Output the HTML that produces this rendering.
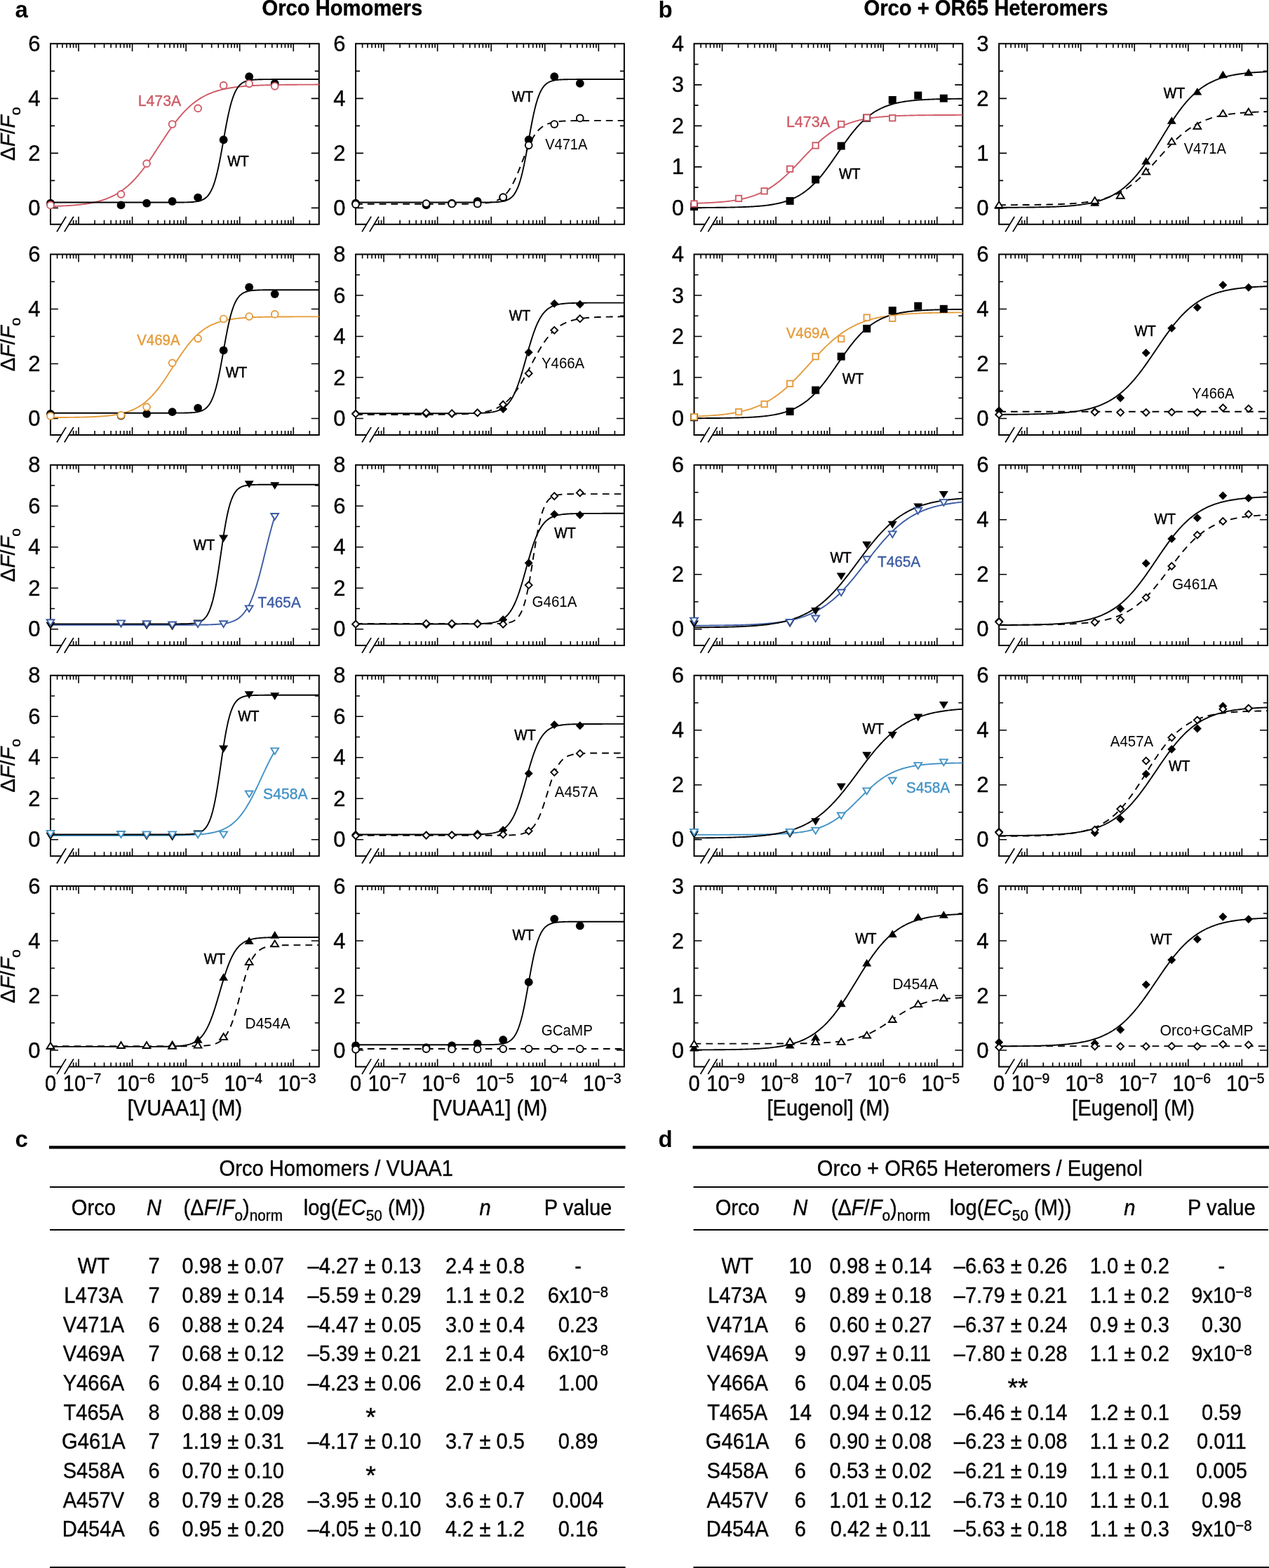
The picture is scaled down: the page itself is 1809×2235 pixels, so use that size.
<!DOCTYPE html>
<html><head><meta charset="utf-8"><title>Orco dose-response figure</title>
<style>html,body{margin:0;padding:0;background:#fff;}svg{display:block;}</style>
</head><body>
<svg width="1809" height="2235" viewBox="0 0 1809 2235" font-family="'Liberation Sans', Arial, Helvetica, sans-serif">
<rect width="1809" height="2235" fill="#fff"/>
<text x="21.5" y="25" font-size="33" font-weight="bold">a</text>
<text x="938.5" y="25" font-size="33" font-weight="bold">b</text>
<text transform="matrix(0.933,0,0,1,25.024,0)" x="373.50" y="21.60" font-size="31.3" font-weight="bold" stroke="#000" stroke-width="0.4">Orco Homomers</text>
<text transform="matrix(0.933,0,0,1,82.510,0)" x="1231.50" y="21.60" font-size="31.3" font-weight="bold" stroke="#000" stroke-width="0.4">Orco + OR65 Heteromers</text>
<text transform="translate(20.7,191.0) rotate(-90)" text-anchor="middle" font-size="30" stroke="#000" stroke-width="0.4">Δ<tspan font-style="italic">F</tspan>/<tspan font-style="italic">F</tspan><tspan dy="8" font-size="21">o</tspan></text>
<text transform="translate(20.7,491.2) rotate(-90)" text-anchor="middle" font-size="30" stroke="#000" stroke-width="0.4">Δ<tspan font-style="italic">F</tspan>/<tspan font-style="italic">F</tspan><tspan dy="8" font-size="21">o</tspan></text>
<text transform="translate(20.7,791.4) rotate(-90)" text-anchor="middle" font-size="30" stroke="#000" stroke-width="0.4">Δ<tspan font-style="italic">F</tspan>/<tspan font-style="italic">F</tspan><tspan dy="8" font-size="21">o</tspan></text>
<text transform="translate(20.7,1091.5) rotate(-90)" text-anchor="middle" font-size="30" stroke="#000" stroke-width="0.4">Δ<tspan font-style="italic">F</tspan>/<tspan font-style="italic">F</tspan><tspan dy="8" font-size="21">o</tspan></text>
<text transform="translate(20.7,1391.7) rotate(-90)" text-anchor="middle" font-size="30" stroke="#000" stroke-width="0.4">Δ<tspan font-style="italic">F</tspan>/<tspan font-style="italic">F</tspan><tspan dy="8" font-size="21">o</tspan></text>
<g>
<path d="M72.00,319.75V62.35H454.80V319.75H98.80M86.90,319.75H72.00" fill="none" stroke="#000" stroke-width="2.0" stroke-linecap="square"/>
<line x1="81.00" y1="330.35" x2="94.10" y2="308.75" stroke="#000" stroke-width="1.7"/>
<line x1="91.80" y1="330.35" x2="104.90" y2="308.75" stroke="#000" stroke-width="1.7"/>
<path d="M81.57,62.35v6.0M88.98,62.35v6.0M95.05,62.35v6.0M100.17,62.35v6.0M104.61,62.35v6.0M104.61,319.75v-6.0M108.53,62.35v6.0M108.53,319.75v-6.0M112.03,62.35v11.0M112.03,319.75v-11.0M135.08,62.35v6.0M135.08,319.75v-6.0M148.56,62.35v6.0M148.56,319.75v-6.0M158.13,62.35v6.0M158.13,319.75v-6.0M165.54,62.35v6.0M165.54,319.75v-6.0M171.61,62.35v6.0M171.61,319.75v-6.0M176.73,62.35v6.0M176.73,319.75v-6.0M181.17,62.35v6.0M181.17,319.75v-6.0M185.09,62.35v6.0M185.09,319.75v-6.0M188.59,62.35v11.0M188.59,319.75v-11.0M211.64,62.35v6.0M211.64,319.75v-6.0M225.12,62.35v6.0M225.12,319.75v-6.0M234.69,62.35v6.0M234.69,319.75v-6.0M242.10,62.35v6.0M242.10,319.75v-6.0M248.17,62.35v6.0M248.17,319.75v-6.0M253.29,62.35v6.0M253.29,319.75v-6.0M257.73,62.35v6.0M257.73,319.75v-6.0M261.65,62.35v6.0M261.65,319.75v-6.0M265.15,62.35v11.0M265.15,319.75v-11.0M288.20,62.35v6.0M288.20,319.75v-6.0M301.68,62.35v6.0M301.68,319.75v-6.0M311.25,62.35v6.0M311.25,319.75v-6.0M318.66,62.35v6.0M318.66,319.75v-6.0M324.73,62.35v6.0M324.73,319.75v-6.0M329.85,62.35v6.0M329.85,319.75v-6.0M334.29,62.35v6.0M334.29,319.75v-6.0M338.21,62.35v6.0M338.21,319.75v-6.0M341.71,62.35v11.0M341.71,319.75v-11.0M364.76,62.35v6.0M364.76,319.75v-6.0M378.24,62.35v6.0M378.24,319.75v-6.0M387.81,62.35v6.0M387.81,319.75v-6.0M395.22,62.35v6.0M395.22,319.75v-6.0M401.29,62.35v6.0M401.29,319.75v-6.0M406.41,62.35v6.0M406.41,319.75v-6.0M410.85,62.35v6.0M410.85,319.75v-6.0M414.77,62.35v6.0M414.77,319.75v-6.0M418.27,62.35v11.0M418.27,319.75v-11.0M441.32,62.35v6.0M441.32,319.75v-6.0M72.00,296.35h11.0M454.80,296.35h-11.0M72.00,257.35h6.0M454.80,257.35h-6.0M72.00,218.35h11.0M454.80,218.35h-11.0M72.00,179.35h6.0M454.80,179.35h-6.0M72.00,140.35h11.0M454.80,140.35h-11.0M72.00,101.35h6.0M454.80,101.35h-6.0" stroke="#000" stroke-width="1.6" fill="none"/>
<text x="57.40" y="306.85" font-size="31.0" text-anchor="end" stroke="#000" stroke-width="0.4">0</text>
<text x="57.40" y="228.85" font-size="31.0" text-anchor="end" stroke="#000" stroke-width="0.4">2</text>
<text x="57.40" y="150.85" font-size="31.0" text-anchor="end" stroke="#000" stroke-width="0.4">4</text>
<text x="57.40" y="72.85" font-size="31.0" text-anchor="end" stroke="#000" stroke-width="0.4">6</text>
<path d="M72.00,294.13L73.59,294.08L75.19,294.04L76.78,293.99L78.38,293.94L79.98,293.89L81.57,293.83L83.16,293.77L84.76,293.71L86.36,293.64L87.95,293.57L89.55,293.50L91.14,293.42L92.73,293.34L94.33,293.25L95.92,293.16L97.52,293.06L99.12,292.95L100.71,292.84L102.30,292.73L103.90,292.61L105.50,292.48L107.09,292.34L108.69,292.20L110.28,292.05L111.87,291.89L113.47,291.72L115.06,291.54L116.66,291.35L118.26,291.15L119.85,290.94L121.44,290.72L123.04,290.49L124.64,290.24L126.23,289.98L127.83,289.71L129.42,289.42L131.01,289.12L132.61,288.80L134.20,288.46L135.80,288.10L137.40,287.73L138.99,287.34L140.58,286.92L142.18,286.48L143.78,286.02L145.37,285.54L146.97,285.03L148.56,284.50L150.15,283.94L151.75,283.35L153.34,282.73L154.94,282.08L156.54,281.40L158.13,280.69L159.72,279.94L161.32,279.15L162.92,278.33L164.51,277.47L166.11,276.57L167.70,275.63L169.29,274.65L170.89,273.63L172.49,272.56L174.08,271.44L175.68,270.28L177.27,269.07L178.86,267.81L180.46,266.50L182.06,265.15L183.65,263.74L185.25,262.28L186.84,260.76L188.43,259.20L190.03,257.58L191.62,255.90L193.22,254.18L194.82,252.40L196.41,250.57L198.00,248.69L199.60,246.76L201.19,244.79L202.79,242.76L204.39,240.68L205.98,238.57L207.57,236.41L209.17,234.20L210.77,231.97L212.36,229.69L213.96,227.39L215.55,225.05L217.14,222.69L218.74,220.30L220.34,217.90L221.93,215.48L223.53,213.05L225.12,210.60L226.72,208.16L228.31,205.71L229.91,203.27L231.50,200.83L233.09,198.41L234.69,196.00L236.29,193.60L237.88,191.23L239.47,188.89L241.07,186.57L242.66,184.28L244.26,182.03L245.86,179.81L247.45,177.63L249.05,175.50L250.64,173.41L252.23,171.36L253.83,169.37L255.43,167.42L257.02,165.52L258.62,163.67L260.21,161.87L261.80,160.13L263.40,158.43L265.00,156.79L266.59,155.21L268.19,153.67L269.78,152.19L271.38,150.76L272.97,149.38L274.57,148.06L276.16,146.78L277.75,145.55L279.35,144.37L280.94,143.24L282.54,142.15L284.14,141.11L285.73,140.11L287.33,139.15L288.92,138.24L290.51,137.37L292.11,136.53L293.71,135.73L295.30,134.97L296.89,134.24L298.49,133.55L300.08,132.89L301.68,132.26L303.28,131.65L304.87,131.08L306.47,130.54L308.06,130.02L309.65,129.53L311.25,129.06L312.85,128.61L314.44,128.19L316.03,127.79L317.63,127.41L319.22,127.04L320.82,126.70L322.42,126.37L324.01,126.06L325.61,125.77L327.20,125.49L328.79,125.22L330.39,124.97L331.99,124.73L333.58,124.51L335.18,124.29L336.77,124.09L338.36,123.90L339.96,123.72L341.56,123.54L343.15,123.38L344.75,123.23L346.34,123.08L347.94,122.94L349.53,122.81L351.12,122.68L352.72,122.57L354.31,122.45L355.91,122.35L357.50,122.25L359.10,122.15L360.69,122.06L362.29,121.98L363.88,121.90L365.48,121.82L367.07,121.75L368.67,121.68L370.27,121.62L371.86,121.56L373.45,121.50L375.05,121.45L376.64,121.40L378.24,121.35L379.83,121.30L381.43,121.26L383.03,121.22L384.62,121.18L386.22,121.14L387.81,121.11L389.40,121.07L391.00,121.04L392.60,121.01L394.19,120.98L395.79,120.96L397.38,120.93L398.97,120.91L400.57,120.89L402.17,120.87L403.76,120.85L405.36,120.83L406.95,120.81L408.54,120.79L410.14,120.78L411.74,120.76L413.33,120.75L414.93,120.73L416.52,120.72L418.12,120.71L419.71,120.70L421.31,120.69L422.90,120.68L424.50,120.67L426.09,120.66L427.69,120.65L429.28,120.64L430.88,120.63L432.47,120.63L434.07,120.62L435.66,120.61L437.25,120.61L438.85,120.60L440.44,120.59L442.04,120.59L443.64,120.58L445.23,120.58L446.82,120.58L448.42,120.57L450.01,120.57L451.61,120.56L453.21,120.56L454.80,120.56" fill="none" stroke="#cf5a66" stroke-width="1.9"/>
<path d="M72.00,288.55L73.59,288.55L75.19,288.55L76.78,288.55L78.38,288.55L79.98,288.55L81.57,288.55L83.16,288.55L84.76,288.55L86.36,288.55L87.95,288.55L89.55,288.55L91.14,288.55L92.73,288.55L94.33,288.55L95.92,288.55L97.52,288.55L99.12,288.55L100.71,288.55L102.30,288.55L103.90,288.55L105.50,288.55L107.09,288.55L108.69,288.55L110.28,288.55L111.87,288.55L113.47,288.55L115.06,288.55L116.66,288.55L118.26,288.55L119.85,288.55L121.44,288.55L123.04,288.55L124.64,288.55L126.23,288.55L127.83,288.55L129.42,288.55L131.01,288.55L132.61,288.55L134.20,288.55L135.80,288.55L137.40,288.55L138.99,288.55L140.58,288.55L142.18,288.55L143.78,288.55L145.37,288.55L146.97,288.55L148.56,288.55L150.15,288.55L151.75,288.55L153.34,288.55L154.94,288.55L156.54,288.55L158.13,288.55L159.72,288.55L161.32,288.55L162.92,288.55L164.51,288.55L166.11,288.55L167.70,288.55L169.29,288.55L170.89,288.55L172.49,288.55L174.08,288.55L175.68,288.55L177.27,288.55L178.86,288.55L180.46,288.55L182.06,288.55L183.65,288.55L185.25,288.55L186.84,288.55L188.43,288.55L190.03,288.55L191.62,288.55L193.22,288.55L194.82,288.55L196.41,288.55L198.00,288.55L199.60,288.55L201.19,288.55L202.79,288.55L204.39,288.55L205.98,288.55L207.57,288.55L209.17,288.55L210.77,288.55L212.36,288.55L213.96,288.55L215.55,288.55L217.14,288.55L218.74,288.55L220.34,288.55L221.93,288.55L223.53,288.55L225.12,288.55L226.72,288.55L228.31,288.55L229.91,288.55L231.50,288.55L233.09,288.55L234.69,288.55L236.29,288.55L237.88,288.54L239.47,288.54L241.07,288.54L242.66,288.54L244.26,288.54L245.86,288.53L247.45,288.53L249.05,288.53L250.64,288.52L252.23,288.52L253.83,288.51L255.43,288.50L257.02,288.49L258.62,288.47L260.21,288.45L261.80,288.43L263.40,288.41L265.00,288.37L266.59,288.33L268.19,288.28L269.78,288.22L271.38,288.15L272.97,288.05L274.57,287.94L276.16,287.80L277.75,287.63L279.35,287.42L280.94,287.17L282.54,286.86L284.14,286.48L285.73,286.01L287.33,285.44L288.92,284.74L290.51,283.89L292.11,282.86L293.71,281.62L295.30,280.11L296.89,278.29L298.49,276.12L300.08,273.52L301.68,270.44L303.28,266.81L304.87,262.58L306.47,257.69L308.06,252.10L309.65,245.80L311.25,238.80L312.85,231.15L314.44,222.94L316.03,214.29L317.63,205.37L319.22,196.35L320.82,187.42L322.42,178.76L324.01,170.55L325.61,162.89L327.20,155.88L328.79,149.57L330.39,143.98L331.99,139.08L333.58,134.84L335.18,131.20L336.77,128.12L338.36,125.51L339.96,123.33L341.56,121.51L343.15,120.00L344.75,118.75L346.34,117.72L347.94,116.87L349.53,116.17L351.12,115.60L352.72,115.13L354.31,114.75L355.91,114.43L357.50,114.18L359.10,113.97L360.69,113.80L362.29,113.66L363.88,113.55L365.48,113.45L367.07,113.38L368.67,113.32L370.27,113.27L371.86,113.23L373.45,113.19L375.05,113.17L376.64,113.15L378.24,113.13L379.83,113.11L381.43,113.10L383.03,113.09L384.62,113.08L386.22,113.08L387.81,113.07L389.40,113.07L391.00,113.07L392.60,113.06L394.19,113.06L395.79,113.06L397.38,113.06L398.97,113.06L400.57,113.05L402.17,113.05L403.76,113.05L405.36,113.05L406.95,113.05L408.54,113.05L410.14,113.05L411.74,113.05L413.33,113.05L414.93,113.05L416.52,113.05L418.12,113.05L419.71,113.05L421.31,113.05L422.90,113.05L424.50,113.05L426.09,113.05L427.69,113.05L429.28,113.05L430.88,113.05L432.47,113.05L434.07,113.05L435.66,113.05L437.25,113.05L438.85,113.05L440.44,113.05L442.04,113.05L443.64,113.05L445.23,113.05L446.82,113.05L448.42,113.05L450.01,113.05L451.61,113.05L453.21,113.05L454.80,113.05" fill="none" stroke="#000" stroke-width="1.9"/>
<circle cx="72.00" cy="289.72" r="5.9" fill="#000"/>
<circle cx="172.55" cy="292.45" r="5.9" fill="#000"/>
<circle cx="209.08" cy="289.72" r="5.9" fill="#000"/>
<circle cx="245.61" cy="286.99" r="5.9" fill="#000"/>
<circle cx="282.14" cy="281.53" r="5.9" fill="#000"/>
<circle cx="318.66" cy="199.24" r="5.9" fill="#000"/>
<circle cx="355.19" cy="109.15" r="5.9" fill="#000"/>
<circle cx="391.72" cy="118.90" r="5.9" fill="#000"/>
<circle cx="72.00" cy="292.45" r="4.9" fill="#fff" stroke="#cf5a66" stroke-width="1.9"/>
<circle cx="172.55" cy="276.85" r="4.9" fill="#fff" stroke="#cf5a66" stroke-width="1.9"/>
<circle cx="209.08" cy="233.17" r="4.9" fill="#fff" stroke="#cf5a66" stroke-width="1.9"/>
<circle cx="245.61" cy="177.01" r="4.9" fill="#fff" stroke="#cf5a66" stroke-width="1.9"/>
<circle cx="282.14" cy="154.39" r="4.9" fill="#fff" stroke="#cf5a66" stroke-width="1.9"/>
<circle cx="318.66" cy="121.63" r="4.9" fill="#fff" stroke="#cf5a66" stroke-width="1.9"/>
<circle cx="355.19" cy="119.29" r="4.9" fill="#fff" stroke="#cf5a66" stroke-width="1.9"/>
<circle cx="391.72" cy="122.80" r="4.9" fill="#fff" stroke="#cf5a66" stroke-width="1.9"/>
<text transform="matrix(0.99,0,0,1,2.274,0)" x="227.40" y="150.70" font-size="21.5" text-anchor="middle" fill="#cf5a66" stroke="#cf5a66" stroke-width="0.4">L473A</text>
<text transform="matrix(0.91,0,0,1,30.546,0)" x="339.40" y="237.00" font-size="21.5" text-anchor="middle" fill="#000" stroke="#000" stroke-width="0.55">WT</text>
</g>
<g>
<path d="M507.05,319.75V62.35H889.85V319.75H533.85M521.95,319.75H507.05" fill="none" stroke="#000" stroke-width="2.0" stroke-linecap="square"/>
<line x1="516.05" y1="330.35" x2="529.15" y2="308.75" stroke="#000" stroke-width="1.7"/>
<line x1="526.85" y1="330.35" x2="539.95" y2="308.75" stroke="#000" stroke-width="1.7"/>
<path d="M516.62,62.35v6.0M524.03,62.35v6.0M530.10,62.35v6.0M535.22,62.35v6.0M539.66,62.35v6.0M539.66,319.75v-6.0M543.58,62.35v6.0M543.58,319.75v-6.0M547.08,62.35v11.0M547.08,319.75v-11.0M570.13,62.35v6.0M570.13,319.75v-6.0M583.61,62.35v6.0M583.61,319.75v-6.0M593.18,62.35v6.0M593.18,319.75v-6.0M600.59,62.35v6.0M600.59,319.75v-6.0M606.66,62.35v6.0M606.66,319.75v-6.0M611.78,62.35v6.0M611.78,319.75v-6.0M616.22,62.35v6.0M616.22,319.75v-6.0M620.14,62.35v6.0M620.14,319.75v-6.0M623.64,62.35v11.0M623.64,319.75v-11.0M646.69,62.35v6.0M646.69,319.75v-6.0M660.17,62.35v6.0M660.17,319.75v-6.0M669.74,62.35v6.0M669.74,319.75v-6.0M677.15,62.35v6.0M677.15,319.75v-6.0M683.22,62.35v6.0M683.22,319.75v-6.0M688.34,62.35v6.0M688.34,319.75v-6.0M692.78,62.35v6.0M692.78,319.75v-6.0M696.70,62.35v6.0M696.70,319.75v-6.0M700.20,62.35v11.0M700.20,319.75v-11.0M723.25,62.35v6.0M723.25,319.75v-6.0M736.73,62.35v6.0M736.73,319.75v-6.0M746.30,62.35v6.0M746.30,319.75v-6.0M753.71,62.35v6.0M753.71,319.75v-6.0M759.78,62.35v6.0M759.78,319.75v-6.0M764.90,62.35v6.0M764.90,319.75v-6.0M769.34,62.35v6.0M769.34,319.75v-6.0M773.26,62.35v6.0M773.26,319.75v-6.0M776.76,62.35v11.0M776.76,319.75v-11.0M799.81,62.35v6.0M799.81,319.75v-6.0M813.29,62.35v6.0M813.29,319.75v-6.0M822.86,62.35v6.0M822.86,319.75v-6.0M830.27,62.35v6.0M830.27,319.75v-6.0M836.34,62.35v6.0M836.34,319.75v-6.0M841.46,62.35v6.0M841.46,319.75v-6.0M845.90,62.35v6.0M845.90,319.75v-6.0M849.82,62.35v6.0M849.82,319.75v-6.0M853.32,62.35v11.0M853.32,319.75v-11.0M876.37,62.35v6.0M876.37,319.75v-6.0M507.05,296.35h11.0M889.85,296.35h-11.0M507.05,257.35h6.0M889.85,257.35h-6.0M507.05,218.35h11.0M889.85,218.35h-11.0M507.05,179.35h6.0M889.85,179.35h-6.0M507.05,140.35h11.0M889.85,140.35h-11.0M507.05,101.35h6.0M889.85,101.35h-6.0" stroke="#000" stroke-width="1.6" fill="none"/>
<text x="492.45" y="306.85" font-size="31.0" text-anchor="end" stroke="#000" stroke-width="0.4">0</text>
<text x="492.45" y="228.85" font-size="31.0" text-anchor="end" stroke="#000" stroke-width="0.4">2</text>
<text x="492.45" y="150.85" font-size="31.0" text-anchor="end" stroke="#000" stroke-width="0.4">4</text>
<text x="492.45" y="72.85" font-size="31.0" text-anchor="end" stroke="#000" stroke-width="0.4">6</text>
<path d="M507.05,290.81L508.64,290.81L510.24,290.81L511.84,290.81L513.43,290.81L515.03,290.81L516.62,290.81L518.22,290.81L519.81,290.81L521.40,290.81L523.00,290.81L524.60,290.81L526.19,290.81L527.78,290.81L529.38,290.81L530.98,290.81L532.57,290.81L534.17,290.81L535.76,290.81L537.36,290.81L538.95,290.81L540.55,290.81L542.14,290.81L543.74,290.81L545.33,290.81L546.92,290.81L548.52,290.81L550.12,290.81L551.71,290.81L553.31,290.81L554.90,290.81L556.50,290.81L558.09,290.81L559.69,290.81L561.28,290.81L562.88,290.81L564.47,290.81L566.06,290.81L567.66,290.81L569.25,290.81L570.85,290.81L572.45,290.81L574.04,290.81L575.63,290.81L577.23,290.81L578.83,290.81L580.42,290.81L582.02,290.81L583.61,290.81L585.20,290.81L586.80,290.81L588.39,290.81L589.99,290.81L591.59,290.81L593.18,290.81L594.77,290.81L596.37,290.81L597.97,290.81L599.56,290.81L601.16,290.81L602.75,290.81L604.35,290.81L605.94,290.81L607.53,290.81L609.13,290.81L610.73,290.81L612.32,290.81L613.91,290.81L615.51,290.81L617.11,290.81L618.70,290.81L620.30,290.81L621.89,290.81L623.49,290.81L625.08,290.81L626.67,290.81L628.27,290.81L629.87,290.81L631.46,290.81L633.05,290.80L634.65,290.80L636.25,290.80L637.84,290.80L639.44,290.80L641.03,290.80L642.62,290.79L644.22,290.79L645.82,290.79L647.41,290.79L649.01,290.78L650.60,290.78L652.19,290.77L653.79,290.77L655.38,290.76L656.98,290.75L658.58,290.74L660.17,290.73L661.77,290.72L663.36,290.71L664.96,290.69L666.55,290.67L668.14,290.65L669.74,290.63L671.34,290.60L672.93,290.57L674.52,290.53L676.12,290.49L677.71,290.44L679.31,290.39L680.91,290.33L682.50,290.25L684.10,290.17L685.69,290.08L687.28,289.97L688.88,289.84L690.48,289.70L692.07,289.54L693.66,289.35L695.26,289.14L696.86,288.89L698.45,288.61L700.05,288.29L701.64,287.93L703.24,287.51L704.83,287.04L706.42,286.49L708.02,285.88L709.62,285.18L711.21,284.39L712.81,283.49L714.40,282.48L716.00,281.34L717.59,280.06L719.19,278.62L720.78,277.02L722.38,275.24L723.97,273.26L725.56,271.09L727.16,268.70L728.76,266.09L730.35,263.27L731.95,260.23L733.54,256.97L735.13,253.52L736.73,249.88L738.33,246.09L739.92,242.16L741.51,238.13L743.11,234.03L744.70,229.92L746.30,225.81L747.90,221.76L749.49,217.79L751.09,213.95L752.68,210.27L754.27,206.76L755.87,203.44L757.47,200.33L759.06,197.44L760.65,194.77L762.25,192.32L763.85,190.08L765.44,188.05L767.04,186.21L768.63,184.55L770.23,183.07L771.82,181.74L773.41,180.56L775.01,179.51L776.61,178.58L778.20,177.76L779.80,177.03L781.39,176.40L782.99,175.83L784.58,175.34L786.17,174.90L787.77,174.52L789.37,174.19L790.96,173.90L792.56,173.64L794.15,173.42L795.75,173.23L797.34,173.06L798.93,172.91L800.53,172.78L802.12,172.67L803.72,172.57L805.32,172.48L806.91,172.41L808.50,172.34L810.10,172.28L811.69,172.24L813.29,172.19L814.88,172.15L816.48,172.12L818.08,172.09L819.67,172.07L821.27,172.05L822.86,172.03L824.45,172.01L826.05,172.00L827.64,171.98L829.24,171.97L830.84,171.96L832.43,171.96L834.02,171.95L835.62,171.94L837.22,171.94L838.81,171.93L840.40,171.93L842.00,171.93L843.60,171.92L845.19,171.92L846.79,171.92L848.38,171.91L849.98,171.91L851.57,171.91L853.16,171.91L854.76,171.91L856.36,171.91L857.95,171.91L859.55,171.91L861.14,171.91L862.74,171.90L864.33,171.90L865.92,171.90L867.52,171.90L869.12,171.90L870.71,171.90L872.31,171.90L873.90,171.90L875.50,171.90L877.09,171.90L878.69,171.90L880.28,171.90L881.88,171.90L883.47,171.90L885.07,171.90L886.66,171.90L888.26,171.90L889.85,171.90" fill="none" stroke="#000" stroke-width="1.9" stroke-dasharray="9.8 7"/>
<path d="M507.05,288.55L508.64,288.55L510.24,288.55L511.84,288.55L513.43,288.55L515.03,288.55L516.62,288.55L518.22,288.55L519.81,288.55L521.40,288.55L523.00,288.55L524.60,288.55L526.19,288.55L527.78,288.55L529.38,288.55L530.98,288.55L532.57,288.55L534.17,288.55L535.76,288.55L537.36,288.55L538.95,288.55L540.55,288.55L542.14,288.55L543.74,288.55L545.33,288.55L546.92,288.55L548.52,288.55L550.12,288.55L551.71,288.55L553.31,288.55L554.90,288.55L556.50,288.55L558.09,288.55L559.69,288.55L561.28,288.55L562.88,288.55L564.47,288.55L566.06,288.55L567.66,288.55L569.25,288.55L570.85,288.55L572.45,288.55L574.04,288.55L575.63,288.55L577.23,288.55L578.83,288.55L580.42,288.55L582.02,288.55L583.61,288.55L585.20,288.55L586.80,288.55L588.39,288.55L589.99,288.55L591.59,288.55L593.18,288.55L594.77,288.55L596.37,288.55L597.97,288.55L599.56,288.55L601.16,288.55L602.75,288.55L604.35,288.55L605.94,288.55L607.53,288.55L609.13,288.55L610.73,288.55L612.32,288.55L613.91,288.55L615.51,288.55L617.11,288.55L618.70,288.55L620.30,288.55L621.89,288.55L623.49,288.55L625.08,288.55L626.67,288.55L628.27,288.55L629.87,288.55L631.46,288.55L633.05,288.55L634.65,288.55L636.25,288.55L637.84,288.55L639.44,288.55L641.03,288.55L642.62,288.55L644.22,288.55L645.82,288.55L647.41,288.55L649.01,288.55L650.60,288.55L652.19,288.55L653.79,288.55L655.38,288.55L656.98,288.55L658.58,288.55L660.17,288.55L661.77,288.55L663.36,288.55L664.96,288.55L666.55,288.55L668.14,288.55L669.74,288.55L671.34,288.55L672.93,288.54L674.52,288.54L676.12,288.54L677.71,288.54L679.31,288.54L680.91,288.53L682.50,288.53L684.10,288.53L685.69,288.52L687.28,288.52L688.88,288.51L690.48,288.50L692.07,288.49L693.66,288.47L695.26,288.45L696.86,288.43L698.45,288.41L700.05,288.37L701.64,288.33L703.24,288.28L704.83,288.22L706.42,288.15L708.02,288.05L709.62,287.94L711.21,287.80L712.81,287.63L714.40,287.42L716.00,287.17L717.59,286.86L719.19,286.48L720.78,286.01L722.38,285.44L723.97,284.74L725.56,283.89L727.16,282.86L728.76,281.62L730.35,280.11L731.95,278.29L733.54,276.12L735.13,273.52L736.73,270.44L738.33,266.81L739.92,262.58L741.51,257.69L743.11,252.10L744.70,245.80L746.30,238.80L747.90,231.15L749.49,222.94L751.09,214.29L752.68,205.37L754.27,196.35L755.87,187.42L757.47,178.76L759.06,170.55L760.65,162.89L762.25,155.88L763.85,149.57L765.44,143.98L767.04,139.08L768.63,134.84L770.23,131.20L771.82,128.12L773.41,125.51L775.01,123.33L776.61,121.51L778.20,120.00L779.80,118.75L781.39,117.72L782.99,116.87L784.58,116.17L786.17,115.60L787.77,115.13L789.37,114.75L790.96,114.43L792.56,114.18L794.15,113.97L795.75,113.80L797.34,113.66L798.93,113.55L800.53,113.45L802.12,113.38L803.72,113.32L805.32,113.27L806.91,113.23L808.50,113.19L810.10,113.17L811.69,113.15L813.29,113.13L814.88,113.11L816.48,113.10L818.08,113.09L819.67,113.08L821.27,113.08L822.86,113.07L824.45,113.07L826.05,113.07L827.64,113.06L829.24,113.06L830.84,113.06L832.43,113.06L834.02,113.06L835.62,113.05L837.22,113.05L838.81,113.05L840.40,113.05L842.00,113.05L843.60,113.05L845.19,113.05L846.79,113.05L848.38,113.05L849.98,113.05L851.57,113.05L853.16,113.05L854.76,113.05L856.36,113.05L857.95,113.05L859.55,113.05L861.14,113.05L862.74,113.05L864.33,113.05L865.92,113.05L867.52,113.05L869.12,113.05L870.71,113.05L872.31,113.05L873.90,113.05L875.50,113.05L877.09,113.05L878.69,113.05L880.28,113.05L881.88,113.05L883.47,113.05L885.07,113.05L886.66,113.05L888.26,113.05L889.85,113.05" fill="none" stroke="#000" stroke-width="1.9"/>
<circle cx="507.05" cy="289.72" r="5.9" fill="#000"/>
<circle cx="607.60" cy="292.45" r="5.9" fill="#000"/>
<circle cx="644.13" cy="289.72" r="5.9" fill="#000"/>
<circle cx="680.66" cy="286.99" r="5.9" fill="#000"/>
<circle cx="717.19" cy="281.53" r="5.9" fill="#000"/>
<circle cx="753.71" cy="199.24" r="5.9" fill="#000"/>
<circle cx="790.24" cy="109.15" r="5.9" fill="#000"/>
<circle cx="826.77" cy="118.90" r="5.9" fill="#000"/>
<circle cx="507.05" cy="291.28" r="4.9" fill="#fff" stroke="#000" stroke-width="1.9"/>
<circle cx="607.60" cy="290.11" r="4.9" fill="#fff" stroke="#000" stroke-width="1.9"/>
<circle cx="644.13" cy="290.50" r="4.9" fill="#fff" stroke="#000" stroke-width="1.9"/>
<circle cx="680.66" cy="290.50" r="4.9" fill="#fff" stroke="#000" stroke-width="1.9"/>
<circle cx="717.19" cy="281.14" r="4.9" fill="#fff" stroke="#000" stroke-width="1.9"/>
<circle cx="753.71" cy="207.04" r="4.9" fill="#fff" stroke="#000" stroke-width="1.9"/>
<circle cx="790.24" cy="177.01" r="4.9" fill="#fff" stroke="#000" stroke-width="1.9"/>
<circle cx="826.77" cy="168.43" r="4.9" fill="#fff" stroke="#000" stroke-width="1.9"/>
<text transform="matrix(0.91,0,0,1,67.050,0)" x="745.00" y="144.90" font-size="21.5" text-anchor="middle" fill="#000" stroke="#000" stroke-width="0.55">WT</text>
<text transform="matrix(0.933,0,0,1,54.086,0)" x="807.25" y="212.80" font-size="21.5" text-anchor="middle" fill="#000" stroke="none">V471A</text>
</g>
<g>
<path d="M989.50,319.75V62.35H1372.30V319.75H1016.30M1004.40,319.75H989.50" fill="none" stroke="#000" stroke-width="2.0" stroke-linecap="square"/>
<line x1="998.50" y1="330.35" x2="1011.60" y2="308.75" stroke="#000" stroke-width="1.7"/>
<line x1="1009.30" y1="330.35" x2="1022.40" y2="308.75" stroke="#000" stroke-width="1.7"/>
<path d="M999.07,62.35v6.0M1006.48,62.35v6.0M1012.55,62.35v6.0M1017.67,62.35v6.0M1022.11,62.35v6.0M1022.11,319.75v-6.0M1026.03,62.35v6.0M1026.03,319.75v-6.0M1029.53,62.35v11.0M1029.53,319.75v-11.0M1052.58,62.35v6.0M1052.58,319.75v-6.0M1066.06,62.35v6.0M1066.06,319.75v-6.0M1075.63,62.35v6.0M1075.63,319.75v-6.0M1083.04,62.35v6.0M1083.04,319.75v-6.0M1089.11,62.35v6.0M1089.11,319.75v-6.0M1094.23,62.35v6.0M1094.23,319.75v-6.0M1098.67,62.35v6.0M1098.67,319.75v-6.0M1102.59,62.35v6.0M1102.59,319.75v-6.0M1106.09,62.35v11.0M1106.09,319.75v-11.0M1129.14,62.35v6.0M1129.14,319.75v-6.0M1142.62,62.35v6.0M1142.62,319.75v-6.0M1152.19,62.35v6.0M1152.19,319.75v-6.0M1159.60,62.35v6.0M1159.60,319.75v-6.0M1165.67,62.35v6.0M1165.67,319.75v-6.0M1170.79,62.35v6.0M1170.79,319.75v-6.0M1175.23,62.35v6.0M1175.23,319.75v-6.0M1179.15,62.35v6.0M1179.15,319.75v-6.0M1182.65,62.35v11.0M1182.65,319.75v-11.0M1205.70,62.35v6.0M1205.70,319.75v-6.0M1219.18,62.35v6.0M1219.18,319.75v-6.0M1228.75,62.35v6.0M1228.75,319.75v-6.0M1236.16,62.35v6.0M1236.16,319.75v-6.0M1242.23,62.35v6.0M1242.23,319.75v-6.0M1247.35,62.35v6.0M1247.35,319.75v-6.0M1251.79,62.35v6.0M1251.79,319.75v-6.0M1255.71,62.35v6.0M1255.71,319.75v-6.0M1259.21,62.35v11.0M1259.21,319.75v-11.0M1282.26,62.35v6.0M1282.26,319.75v-6.0M1295.74,62.35v6.0M1295.74,319.75v-6.0M1305.31,62.35v6.0M1305.31,319.75v-6.0M1312.72,62.35v6.0M1312.72,319.75v-6.0M1318.79,62.35v6.0M1318.79,319.75v-6.0M1323.91,62.35v6.0M1323.91,319.75v-6.0M1328.35,62.35v6.0M1328.35,319.75v-6.0M1332.27,62.35v6.0M1332.27,319.75v-6.0M1335.77,62.35v11.0M1335.77,319.75v-11.0M1358.82,62.35v6.0M1358.82,319.75v-6.0M989.50,296.35h11.0M1372.30,296.35h-11.0M989.50,267.10h6.0M1372.30,267.10h-6.0M989.50,237.85h11.0M1372.30,237.85h-11.0M989.50,208.60h6.0M1372.30,208.60h-6.0M989.50,179.35h11.0M1372.30,179.35h-11.0M989.50,150.10h6.0M1372.30,150.10h-6.0M989.50,120.85h11.0M1372.30,120.85h-11.0M989.50,91.60h6.0M1372.30,91.60h-6.0" stroke="#000" stroke-width="1.6" fill="none"/>
<text x="974.90" y="306.85" font-size="31.0" text-anchor="end" stroke="#000" stroke-width="0.4">0</text>
<text x="974.90" y="248.35" font-size="31.0" text-anchor="end" stroke="#000" stroke-width="0.4">1</text>
<text x="974.90" y="189.85" font-size="31.0" text-anchor="end" stroke="#000" stroke-width="0.4">2</text>
<text x="974.90" y="131.35" font-size="31.0" text-anchor="end" stroke="#000" stroke-width="0.4">3</text>
<text x="974.90" y="72.85" font-size="31.0" text-anchor="end" stroke="#000" stroke-width="0.4">4</text>
<path d="M989.50,289.78L991.10,289.74L992.69,289.70L994.28,289.66L995.88,289.61L997.47,289.56L999.07,289.51L1000.67,289.45L1002.26,289.40L1003.86,289.34L1005.45,289.27L1007.04,289.21L1008.64,289.14L1010.24,289.06L1011.83,288.98L1013.42,288.90L1015.02,288.81L1016.62,288.72L1018.21,288.63L1019.81,288.52L1021.40,288.42L1023.00,288.30L1024.59,288.18L1026.18,288.06L1027.78,287.93L1029.38,287.79L1030.97,287.64L1032.57,287.49L1034.16,287.33L1035.75,287.15L1037.35,286.98L1038.95,286.79L1040.54,286.59L1042.13,286.38L1043.73,286.16L1045.33,285.93L1046.92,285.69L1048.52,285.43L1050.11,285.16L1051.70,284.88L1053.30,284.59L1054.89,284.27L1056.49,283.95L1058.09,283.61L1059.68,283.25L1061.28,282.87L1062.87,282.48L1064.46,282.06L1066.06,281.63L1067.65,281.18L1069.25,280.70L1070.85,280.21L1072.44,279.69L1074.03,279.14L1075.63,278.58L1077.23,277.98L1078.82,277.36L1080.41,276.72L1082.01,276.04L1083.61,275.34L1085.20,274.61L1086.80,273.85L1088.39,273.05L1089.98,272.23L1091.58,271.37L1093.17,270.49L1094.77,269.56L1096.37,268.61L1097.96,267.62L1099.56,266.59L1101.15,265.53L1102.74,264.44L1104.34,263.31L1105.93,262.14L1107.53,260.94L1109.12,259.71L1110.72,258.44L1112.32,257.14L1113.91,255.80L1115.50,254.43L1117.10,253.03L1118.69,251.59L1120.29,250.13L1121.88,248.64L1123.48,247.12L1125.08,245.58L1126.67,244.01L1128.27,242.41L1129.86,240.80L1131.45,239.17L1133.05,237.52L1134.64,235.86L1136.24,234.18L1137.84,232.50L1139.43,230.81L1141.03,229.11L1142.62,227.41L1144.22,225.71L1145.81,224.01L1147.40,222.31L1149.00,220.63L1150.60,218.95L1152.19,217.28L1153.79,215.63L1155.38,213.99L1156.97,212.38L1158.57,210.78L1160.16,209.20L1161.76,207.65L1163.36,206.12L1164.95,204.63L1166.55,203.15L1168.14,201.71L1169.73,200.30L1171.33,198.92L1172.92,197.58L1174.52,196.26L1176.12,194.99L1177.71,193.74L1179.30,192.53L1180.90,191.36L1182.50,190.22L1184.09,189.11L1185.68,188.04L1187.28,187.01L1188.88,186.01L1190.47,185.05L1192.07,184.11L1193.66,183.22L1195.26,182.35L1196.85,181.52L1198.44,180.72L1200.04,179.95L1201.63,179.21L1203.23,178.50L1204.83,177.81L1206.42,177.16L1208.01,176.53L1209.61,175.93L1211.20,175.36L1212.80,174.81L1214.39,174.28L1215.99,173.78L1217.59,173.30L1219.18,172.84L1220.78,172.40L1222.37,171.98L1223.96,171.58L1225.56,171.20L1227.15,170.84L1228.75,170.49L1230.35,170.16L1231.94,169.85L1233.54,169.55L1235.13,169.26L1236.72,168.99L1238.32,168.73L1239.91,168.49L1241.51,168.25L1243.11,168.03L1244.70,167.82L1246.30,167.62L1247.89,167.42L1249.49,167.24L1251.08,167.07L1252.67,166.90L1254.27,166.75L1255.87,166.60L1257.46,166.46L1259.06,166.32L1260.65,166.20L1262.24,166.08L1263.84,165.96L1265.43,165.85L1267.03,165.75L1268.62,165.65L1270.22,165.56L1271.82,165.47L1273.41,165.39L1275.00,165.31L1276.60,165.23L1278.20,165.16L1279.79,165.09L1281.38,165.03L1282.98,164.97L1284.58,164.91L1286.17,164.85L1287.77,164.80L1289.36,164.75L1290.95,164.70L1292.55,164.66L1294.14,164.62L1295.74,164.58L1297.34,164.54L1298.93,164.50L1300.53,164.47L1302.12,164.44L1303.72,164.41L1305.31,164.38L1306.90,164.35L1308.50,164.32L1310.10,164.30L1311.69,164.28L1313.29,164.25L1314.88,164.23L1316.47,164.21L1318.07,164.19L1319.66,164.17L1321.26,164.16L1322.86,164.14L1324.45,164.13L1326.05,164.11L1327.64,164.10L1329.24,164.08L1330.83,164.07L1332.42,164.06L1334.02,164.05L1335.62,164.04L1337.21,164.03L1338.81,164.02L1340.40,164.01L1342.00,164.00L1343.59,163.99L1345.18,163.99L1346.78,163.98L1348.38,163.97L1349.97,163.97L1351.57,163.96L1353.16,163.95L1354.76,163.95L1356.35,163.94L1357.94,163.94L1359.54,163.93L1361.13,163.93L1362.73,163.92L1364.33,163.92L1365.92,163.92L1367.51,163.91L1369.11,163.91L1370.70,163.91L1372.30,163.90" fill="none" stroke="#cf5a66" stroke-width="1.9"/>
<path d="M989.50,295.99L991.10,295.98L992.69,295.98L994.28,295.97L995.88,295.97L997.47,295.96L999.07,295.96L1000.67,295.95L1002.26,295.94L1003.86,295.94L1005.45,295.93L1007.04,295.92L1008.64,295.91L1010.24,295.90L1011.83,295.89L1013.42,295.88L1015.02,295.87L1016.62,295.86L1018.21,295.85L1019.81,295.84L1021.40,295.82L1023.00,295.81L1024.59,295.79L1026.18,295.78L1027.78,295.76L1029.38,295.74L1030.97,295.72L1032.57,295.70L1034.16,295.68L1035.75,295.66L1037.35,295.63L1038.95,295.61L1040.54,295.58L1042.13,295.55L1043.73,295.52L1045.33,295.48L1046.92,295.45L1048.52,295.41L1050.11,295.37L1051.70,295.33L1053.30,295.28L1054.89,295.24L1056.49,295.19L1058.09,295.13L1059.68,295.07L1061.28,295.01L1062.87,294.95L1064.46,294.88L1066.06,294.81L1067.65,294.73L1069.25,294.65L1070.85,294.57L1072.44,294.48L1074.03,294.38L1075.63,294.28L1077.23,294.17L1078.82,294.05L1080.41,293.93L1082.01,293.80L1083.61,293.66L1085.20,293.52L1086.80,293.36L1088.39,293.20L1089.98,293.03L1091.58,292.84L1093.17,292.65L1094.77,292.44L1096.37,292.23L1097.96,292.00L1099.56,291.75L1101.15,291.49L1102.74,291.22L1104.34,290.93L1105.93,290.63L1107.53,290.30L1109.12,289.96L1110.72,289.60L1112.32,289.22L1113.91,288.81L1115.50,288.39L1117.10,287.94L1118.69,287.47L1120.29,286.97L1121.88,286.44L1123.48,285.88L1125.08,285.30L1126.67,284.68L1128.27,284.03L1129.86,283.35L1131.45,282.63L1133.05,281.88L1134.64,281.09L1136.24,280.26L1137.84,279.39L1139.43,278.47L1141.03,277.51L1142.62,276.51L1144.22,275.47L1145.81,274.37L1147.40,273.23L1149.00,272.03L1150.60,270.79L1152.19,269.50L1153.79,268.15L1155.38,266.75L1156.97,265.30L1158.57,263.79L1160.16,262.23L1161.76,260.62L1163.36,258.95L1164.95,257.23L1166.55,255.45L1168.14,253.63L1169.73,251.76L1171.33,249.83L1172.92,247.86L1174.52,245.84L1176.12,243.78L1177.71,241.68L1179.30,239.54L1180.90,237.37L1182.50,235.16L1184.09,232.93L1185.68,230.67L1187.28,228.38L1188.88,226.08L1190.47,223.77L1192.07,221.45L1193.66,219.12L1195.26,216.79L1196.85,214.46L1198.44,212.14L1200.04,209.83L1201.63,207.53L1203.23,205.26L1204.83,203.00L1206.42,200.78L1208.01,198.58L1209.61,196.42L1211.20,194.29L1212.80,192.20L1214.39,190.15L1215.99,188.15L1217.59,186.19L1219.18,184.28L1220.78,182.43L1222.37,180.62L1223.96,178.86L1225.56,177.16L1227.15,175.50L1228.75,173.91L1230.35,172.36L1231.94,170.87L1233.54,169.44L1235.13,168.05L1236.72,166.72L1238.32,165.44L1239.91,164.22L1241.51,163.04L1243.11,161.91L1244.70,160.83L1246.30,159.80L1247.89,158.81L1249.49,157.86L1251.08,156.96L1252.67,156.10L1254.27,155.29L1255.87,154.51L1257.46,153.76L1259.06,153.06L1260.65,152.39L1262.24,151.75L1263.84,151.14L1265.43,150.56L1267.03,150.02L1268.62,149.50L1270.22,149.01L1271.82,148.54L1273.41,148.10L1275.00,147.68L1276.60,147.28L1278.20,146.91L1279.79,146.55L1281.38,146.22L1282.98,145.90L1284.58,145.60L1286.17,145.32L1287.77,145.05L1289.36,144.79L1290.95,144.55L1292.55,144.33L1294.14,144.11L1295.74,143.91L1297.34,143.72L1298.93,143.54L1300.53,143.37L1302.12,143.21L1303.72,143.06L1305.31,142.92L1306.90,142.78L1308.50,142.65L1310.10,142.53L1311.69,142.42L1313.29,142.31L1314.88,142.21L1316.47,142.12L1318.07,142.03L1319.66,141.94L1321.26,141.86L1322.86,141.79L1324.45,141.72L1326.05,141.65L1327.64,141.59L1329.24,141.53L1330.83,141.47L1332.42,141.42L1334.02,141.37L1335.62,141.32L1337.21,141.28L1338.81,141.24L1340.40,141.20L1342.00,141.16L1343.59,141.13L1345.18,141.10L1346.78,141.06L1348.38,141.04L1349.97,141.01L1351.57,140.98L1353.16,140.96L1354.76,140.94L1356.35,140.91L1357.94,140.89L1359.54,140.87L1361.13,140.86L1362.73,140.84L1364.33,140.82L1365.92,140.81L1367.51,140.79L1369.11,140.78L1370.70,140.77L1372.30,140.76" fill="none" stroke="#000" stroke-width="1.9"/>
<rect x="984.00" y="289.09" width="11.0" height="11.0" fill="#000"/>
<rect x="1120.59" y="280.90" width="11.0" height="11.0" fill="#000"/>
<rect x="1157.12" y="250.48" width="11.0" height="11.0" fill="#000"/>
<rect x="1193.65" y="202.51" width="11.0" height="11.0" fill="#000"/>
<rect x="1230.18" y="162.73" width="11.0" height="11.0" fill="#000"/>
<rect x="1266.71" y="136.99" width="11.0" height="11.0" fill="#000"/>
<rect x="1303.24" y="130.56" width="11.0" height="11.0" fill="#000"/>
<rect x="1339.77" y="134.66" width="11.0" height="11.0" fill="#000"/>
<rect x="985.30" y="286.30" width="8.4" height="8.4" fill="#fff" stroke="#cf5a66" stroke-width="1.9"/>
<rect x="1048.84" y="278.69" width="8.4" height="8.4" fill="#fff" stroke="#cf5a66" stroke-width="1.9"/>
<rect x="1085.37" y="268.16" width="8.4" height="8.4" fill="#fff" stroke="#cf5a66" stroke-width="1.9"/>
<rect x="1121.89" y="236.57" width="8.4" height="8.4" fill="#fff" stroke="#cf5a66" stroke-width="1.9"/>
<rect x="1158.42" y="203.23" width="8.4" height="8.4" fill="#fff" stroke="#cf5a66" stroke-width="1.9"/>
<rect x="1194.95" y="172.81" width="8.4" height="8.4" fill="#fff" stroke="#cf5a66" stroke-width="1.9"/>
<rect x="1231.48" y="163.45" width="8.4" height="8.4" fill="#fff" stroke="#cf5a66" stroke-width="1.9"/>
<rect x="1268.01" y="164.03" width="8.4" height="8.4" fill="#fff" stroke="#cf5a66" stroke-width="1.9"/>
<text transform="matrix(0.998,0,0,1,2.304,0)" x="1151.95" y="180.60" font-size="21.5" text-anchor="middle" fill="#cf5a66" stroke="#cf5a66" stroke-width="0.4">L473A</text>
<text transform="matrix(0.91,0,0,1,109.012,0)" x="1211.25" y="255.50" font-size="21.5" text-anchor="middle" fill="#000" stroke="#000" stroke-width="0.55">WT</text>
</g>
<g>
<path d="M1424.10,319.75V62.35H1806.90V319.75H1450.90M1439.00,319.75H1424.10" fill="none" stroke="#000" stroke-width="2.0" stroke-linecap="square"/>
<line x1="1433.10" y1="330.35" x2="1446.20" y2="308.75" stroke="#000" stroke-width="1.7"/>
<line x1="1443.90" y1="330.35" x2="1457.00" y2="308.75" stroke="#000" stroke-width="1.7"/>
<path d="M1433.67,62.35v6.0M1441.08,62.35v6.0M1447.15,62.35v6.0M1452.27,62.35v6.0M1456.71,62.35v6.0M1456.71,319.75v-6.0M1460.63,62.35v6.0M1460.63,319.75v-6.0M1464.13,62.35v11.0M1464.13,319.75v-11.0M1487.18,62.35v6.0M1487.18,319.75v-6.0M1500.66,62.35v6.0M1500.66,319.75v-6.0M1510.23,62.35v6.0M1510.23,319.75v-6.0M1517.64,62.35v6.0M1517.64,319.75v-6.0M1523.71,62.35v6.0M1523.71,319.75v-6.0M1528.83,62.35v6.0M1528.83,319.75v-6.0M1533.27,62.35v6.0M1533.27,319.75v-6.0M1537.19,62.35v6.0M1537.19,319.75v-6.0M1540.69,62.35v11.0M1540.69,319.75v-11.0M1563.74,62.35v6.0M1563.74,319.75v-6.0M1577.22,62.35v6.0M1577.22,319.75v-6.0M1586.79,62.35v6.0M1586.79,319.75v-6.0M1594.20,62.35v6.0M1594.20,319.75v-6.0M1600.27,62.35v6.0M1600.27,319.75v-6.0M1605.39,62.35v6.0M1605.39,319.75v-6.0M1609.83,62.35v6.0M1609.83,319.75v-6.0M1613.75,62.35v6.0M1613.75,319.75v-6.0M1617.25,62.35v11.0M1617.25,319.75v-11.0M1640.30,62.35v6.0M1640.30,319.75v-6.0M1653.78,62.35v6.0M1653.78,319.75v-6.0M1663.35,62.35v6.0M1663.35,319.75v-6.0M1670.76,62.35v6.0M1670.76,319.75v-6.0M1676.83,62.35v6.0M1676.83,319.75v-6.0M1681.95,62.35v6.0M1681.95,319.75v-6.0M1686.39,62.35v6.0M1686.39,319.75v-6.0M1690.31,62.35v6.0M1690.31,319.75v-6.0M1693.81,62.35v11.0M1693.81,319.75v-11.0M1716.86,62.35v6.0M1716.86,319.75v-6.0M1730.34,62.35v6.0M1730.34,319.75v-6.0M1739.91,62.35v6.0M1739.91,319.75v-6.0M1747.32,62.35v6.0M1747.32,319.75v-6.0M1753.39,62.35v6.0M1753.39,319.75v-6.0M1758.51,62.35v6.0M1758.51,319.75v-6.0M1762.95,62.35v6.0M1762.95,319.75v-6.0M1766.87,62.35v6.0M1766.87,319.75v-6.0M1770.37,62.35v11.0M1770.37,319.75v-11.0M1793.42,62.35v6.0M1793.42,319.75v-6.0M1424.10,296.35h11.0M1806.90,296.35h-11.0M1424.10,257.35h6.0M1806.90,257.35h-6.0M1424.10,218.35h11.0M1806.90,218.35h-11.0M1424.10,179.35h6.0M1806.90,179.35h-6.0M1424.10,140.35h11.0M1806.90,140.35h-11.0M1424.10,101.35h6.0M1806.90,101.35h-6.0" stroke="#000" stroke-width="1.6" fill="none"/>
<text x="1409.50" y="306.85" font-size="31.0" text-anchor="end" stroke="#000" stroke-width="0.4">0</text>
<text x="1409.50" y="228.85" font-size="31.0" text-anchor="end" stroke="#000" stroke-width="0.4">1</text>
<text x="1409.50" y="150.85" font-size="31.0" text-anchor="end" stroke="#000" stroke-width="0.4">2</text>
<text x="1409.50" y="72.85" font-size="31.0" text-anchor="end" stroke="#000" stroke-width="0.4">3</text>
<path d="M1424.10,292.15L1425.69,292.15L1427.29,292.15L1428.88,292.14L1430.48,292.14L1432.07,292.13L1433.67,292.13L1435.26,292.12L1436.86,292.12L1438.45,292.11L1440.05,292.11L1441.64,292.10L1443.24,292.10L1444.84,292.09L1446.43,292.08L1448.02,292.08L1449.62,292.07L1451.21,292.06L1452.81,292.05L1454.40,292.04L1456.00,292.03L1457.59,292.02L1459.19,292.01L1460.78,292.00L1462.38,291.99L1463.97,291.98L1465.57,291.96L1467.16,291.95L1468.76,291.93L1470.35,291.92L1471.95,291.90L1473.55,291.89L1475.14,291.87L1476.73,291.85L1478.33,291.83L1479.92,291.81L1481.52,291.78L1483.12,291.76L1484.71,291.74L1486.30,291.71L1487.90,291.68L1489.49,291.65L1491.09,291.62L1492.68,291.59L1494.28,291.55L1495.88,291.52L1497.47,291.48L1499.06,291.44L1500.66,291.40L1502.25,291.35L1503.85,291.30L1505.44,291.25L1507.04,291.20L1508.63,291.14L1510.23,291.09L1511.83,291.02L1513.42,290.96L1515.01,290.89L1516.61,290.82L1518.20,290.74L1519.80,290.66L1521.39,290.58L1522.99,290.49L1524.58,290.39L1526.18,290.29L1527.77,290.19L1529.37,290.08L1530.96,289.96L1532.56,289.84L1534.15,289.71L1535.75,289.58L1537.34,289.43L1538.94,289.28L1540.53,289.13L1542.13,288.96L1543.72,288.78L1545.32,288.60L1546.91,288.41L1548.51,288.20L1550.10,287.99L1551.70,287.76L1553.29,287.53L1554.89,287.28L1556.48,287.01L1558.08,286.74L1559.67,286.45L1561.27,286.15L1562.87,285.83L1564.46,285.49L1566.05,285.14L1567.65,284.77L1569.24,284.38L1570.84,283.98L1572.43,283.55L1574.03,283.11L1575.62,282.64L1577.22,282.15L1578.82,281.64L1580.41,281.11L1582.00,280.55L1583.60,279.96L1585.19,279.35L1586.79,278.71L1588.38,278.04L1589.98,277.35L1591.57,276.62L1593.17,275.87L1594.76,275.08L1596.36,274.26L1597.95,273.41L1599.55,272.53L1601.14,271.61L1602.74,270.65L1604.33,269.66L1605.93,268.64L1607.52,267.58L1609.12,266.48L1610.71,265.34L1612.31,264.17L1613.90,262.96L1615.50,261.71L1617.10,260.43L1618.69,259.11L1620.28,257.75L1621.88,256.36L1623.47,254.93L1625.07,253.47L1626.66,251.98L1628.26,250.45L1629.86,248.89L1631.45,247.30L1633.04,245.68L1634.64,244.04L1636.23,242.37L1637.83,240.68L1639.42,238.97L1641.02,237.24L1642.61,235.49L1644.21,233.73L1645.80,231.95L1647.40,230.17L1648.99,228.38L1650.59,226.59L1652.18,224.79L1653.78,222.99L1655.38,221.20L1656.97,219.41L1658.56,217.64L1660.16,215.87L1661.75,214.12L1663.35,212.38L1664.94,210.66L1666.54,208.96L1668.13,207.28L1669.73,205.63L1671.32,204.00L1672.92,202.40L1674.51,200.83L1676.11,199.29L1677.70,197.78L1679.30,196.30L1680.89,194.86L1682.49,193.46L1684.09,192.09L1685.68,190.75L1687.27,189.45L1688.87,188.19L1690.46,186.97L1692.06,185.78L1693.65,184.63L1695.25,183.52L1696.84,182.44L1698.44,181.40L1700.03,180.40L1701.63,179.43L1703.22,178.50L1704.82,177.60L1706.41,176.73L1708.01,175.90L1709.60,175.10L1711.20,174.33L1712.80,173.60L1714.39,172.89L1715.98,172.21L1717.58,171.56L1719.17,170.94L1720.77,170.35L1722.37,169.78L1723.96,169.23L1725.55,168.71L1727.15,168.21L1728.74,167.74L1730.34,167.28L1731.93,166.85L1733.53,166.44L1735.12,166.04L1736.72,165.67L1738.32,165.31L1739.91,164.97L1741.50,164.64L1743.10,164.33L1744.69,164.04L1746.29,163.76L1747.88,163.49L1749.48,163.23L1751.07,162.99L1752.67,162.76L1754.26,162.54L1755.86,162.33L1757.45,162.14L1759.05,161.95L1760.64,161.77L1762.24,161.60L1763.84,161.44L1765.43,161.29L1767.02,161.14L1768.62,161.00L1770.21,160.87L1771.81,160.75L1773.40,160.63L1775.00,160.52L1776.60,160.41L1778.19,160.31L1779.78,160.21L1781.38,160.12L1782.97,160.03L1784.57,159.95L1786.16,159.87L1787.76,159.80L1789.36,159.73L1790.95,159.66L1792.54,159.60L1794.14,159.54L1795.73,159.48L1797.33,159.43L1798.92,159.38L1800.52,159.33L1802.11,159.28L1803.71,159.24L1805.30,159.20L1806.90,159.16" fill="none" stroke="#000" stroke-width="1.9" stroke-dasharray="9.8 7"/>
<path d="M1424.10,295.80L1425.69,295.80L1427.29,295.79L1428.88,295.79L1430.48,295.78L1432.07,295.77L1433.67,295.77L1435.26,295.76L1436.86,295.76L1438.45,295.75L1440.05,295.74L1441.64,295.73L1443.24,295.73L1444.84,295.72L1446.43,295.71L1448.02,295.70L1449.62,295.69L1451.21,295.68L1452.81,295.67L1454.40,295.65L1456.00,295.64L1457.59,295.63L1459.19,295.61L1460.78,295.60L1462.38,295.58L1463.97,295.57L1465.57,295.55L1467.16,295.53L1468.76,295.51L1470.35,295.49L1471.95,295.47L1473.55,295.45L1475.14,295.43L1476.73,295.40L1478.33,295.37L1479.92,295.35L1481.52,295.32L1483.12,295.29L1484.71,295.25L1486.30,295.22L1487.90,295.18L1489.49,295.14L1491.09,295.10L1492.68,295.06L1494.28,295.01L1495.88,294.97L1497.47,294.92L1499.06,294.86L1500.66,294.81L1502.25,294.75L1503.85,294.69L1505.44,294.62L1507.04,294.55L1508.63,294.48L1510.23,294.40L1511.83,294.32L1513.42,294.23L1515.01,294.14L1516.61,294.05L1518.20,293.95L1519.80,293.84L1521.39,293.73L1522.99,293.61L1524.58,293.49L1526.18,293.36L1527.77,293.22L1529.37,293.08L1530.96,292.93L1532.56,292.77L1534.15,292.60L1535.75,292.42L1537.34,292.23L1538.94,292.03L1540.53,291.83L1542.13,291.61L1543.72,291.38L1545.32,291.13L1546.91,290.88L1548.51,290.61L1550.10,290.33L1551.70,290.03L1553.29,289.72L1554.89,289.39L1556.48,289.04L1558.08,288.68L1559.67,288.30L1561.27,287.89L1562.87,287.47L1564.46,287.03L1566.05,286.56L1567.65,286.08L1569.24,285.56L1570.84,285.02L1572.43,284.46L1574.03,283.87L1575.62,283.25L1577.22,282.60L1578.82,281.92L1580.41,281.21L1582.00,280.46L1583.60,279.68L1585.19,278.86L1586.79,278.01L1588.38,277.12L1589.98,276.19L1591.57,275.22L1593.17,274.20L1594.76,273.15L1596.36,272.04L1597.95,270.90L1599.55,269.70L1601.14,268.46L1602.74,267.17L1604.33,265.83L1605.93,264.44L1607.52,263.00L1609.12,261.50L1610.71,259.96L1612.31,258.35L1613.90,256.70L1615.50,254.99L1617.10,253.23L1618.69,251.41L1620.28,249.54L1621.88,247.62L1623.47,245.64L1625.07,243.61L1626.66,241.53L1628.26,239.40L1629.86,237.22L1631.45,235.00L1633.04,232.73L1634.64,230.41L1636.23,228.06L1637.83,225.66L1639.42,223.23L1641.02,220.77L1642.61,218.28L1644.21,215.75L1645.80,213.21L1647.40,210.64L1648.99,208.06L1650.59,205.46L1652.18,202.85L1653.78,200.24L1655.38,197.63L1656.97,195.01L1658.56,192.40L1660.16,189.80L1661.75,187.21L1663.35,184.64L1664.94,182.09L1666.54,179.56L1668.13,177.05L1669.73,174.58L1671.32,172.14L1672.92,169.73L1674.51,167.36L1676.11,165.04L1677.70,162.75L1679.30,160.51L1680.89,158.32L1682.49,156.17L1684.09,154.07L1685.68,152.03L1687.27,150.03L1688.87,148.09L1690.46,146.20L1692.06,144.37L1693.65,142.59L1695.25,140.86L1696.84,139.19L1698.44,137.57L1700.03,136.00L1701.63,134.49L1703.22,133.03L1704.82,131.62L1706.41,130.27L1708.01,128.96L1709.60,127.70L1711.20,126.49L1712.80,125.33L1714.39,124.21L1715.98,123.14L1717.58,122.11L1719.17,121.13L1720.77,120.18L1722.37,119.28L1723.96,118.41L1725.55,117.59L1727.15,116.79L1728.74,116.04L1730.34,115.31L1731.93,114.62L1733.53,113.96L1735.12,113.33L1736.72,112.73L1738.32,112.16L1739.91,111.61L1741.50,111.09L1743.10,110.59L1744.69,110.12L1746.29,109.67L1747.88,109.24L1749.48,108.83L1751.07,108.45L1752.67,108.08L1754.26,107.72L1755.86,107.39L1757.45,107.07L1759.05,106.77L1760.64,106.48L1762.24,106.21L1763.84,105.95L1765.43,105.70L1767.02,105.47L1768.62,105.24L1770.21,105.03L1771.81,104.83L1773.40,104.64L1775.00,104.46L1776.60,104.29L1778.19,104.12L1779.78,103.97L1781.38,103.82L1782.97,103.68L1784.57,103.55L1786.16,103.42L1787.76,103.30L1789.36,103.19L1790.95,103.08L1792.54,102.98L1794.14,102.89L1795.73,102.79L1797.33,102.71L1798.92,102.62L1800.52,102.55L1802.11,102.47L1803.71,102.40L1805.30,102.33L1806.90,102.27" fill="none" stroke="#000" stroke-width="1.9"/>
<path d="M1424.10,287.15L1430.60,297.75L1417.60,297.75Z" fill="#000" stroke-linejoin="miter"/>
<path d="M1560.69,283.25L1567.19,293.85L1554.19,293.85Z" fill="#000" stroke-linejoin="miter"/>
<path d="M1597.22,272.33L1603.72,282.93L1590.72,282.93Z" fill="#000" stroke-linejoin="miter"/>
<path d="M1633.75,223.97L1640.25,234.57L1627.25,234.57Z" fill="#000" stroke-linejoin="miter"/>
<path d="M1670.28,166.25L1676.78,176.85L1663.78,176.85Z" fill="#000" stroke-linejoin="miter"/>
<path d="M1706.81,124.91L1713.31,135.51L1700.31,135.51Z" fill="#000" stroke-linejoin="miter"/>
<path d="M1743.34,100.73L1749.84,111.33L1736.84,111.33Z" fill="#000" stroke-linejoin="miter"/>
<path d="M1779.87,97.61L1786.37,108.21L1773.37,108.21Z" fill="#000" stroke-linejoin="miter"/>
<path d="M1424.10,287.27L1429.50,296.07L1418.70,296.07Z" fill="#fff" stroke="#000" stroke-width="1.9" stroke-linejoin="miter"/>
<path d="M1560.69,281.03L1566.09,289.83L1555.29,289.83Z" fill="#fff" stroke="#000" stroke-width="1.9" stroke-linejoin="miter"/>
<path d="M1597.22,274.01L1602.62,282.81L1591.82,282.81Z" fill="#fff" stroke="#000" stroke-width="1.9" stroke-linejoin="miter"/>
<path d="M1633.75,239.69L1639.15,248.49L1628.35,248.49Z" fill="#fff" stroke="#000" stroke-width="1.9" stroke-linejoin="miter"/>
<path d="M1670.28,196.79L1675.68,205.59L1664.88,205.59Z" fill="#fff" stroke="#000" stroke-width="1.9" stroke-linejoin="miter"/>
<path d="M1706.81,174.95L1712.21,183.75L1701.41,183.75Z" fill="#fff" stroke="#000" stroke-width="1.9" stroke-linejoin="miter"/>
<path d="M1743.34,157.01L1748.74,165.81L1737.94,165.81Z" fill="#fff" stroke="#000" stroke-width="1.9" stroke-linejoin="miter"/>
<path d="M1779.87,154.67L1785.27,163.47L1774.47,163.47Z" fill="#fff" stroke="#000" stroke-width="1.9" stroke-linejoin="miter"/>
<text transform="matrix(0.91,0,0,1,150.660,0)" x="1674.00" y="140.30" font-size="21.5" text-anchor="middle" fill="#000" stroke="#000" stroke-width="0.55">WT</text>
<text transform="matrix(0.933,0,0,1,115.089,0)" x="1717.75" y="218.60" font-size="21.5" text-anchor="middle" fill="#000" stroke="none">V471A</text>
</g>
<g>
<path d="M72.00,619.90V362.50H454.80V619.90H98.80M86.90,619.90H72.00" fill="none" stroke="#000" stroke-width="2.0" stroke-linecap="square"/>
<line x1="81.00" y1="630.50" x2="94.10" y2="608.90" stroke="#000" stroke-width="1.7"/>
<line x1="91.80" y1="630.50" x2="104.90" y2="608.90" stroke="#000" stroke-width="1.7"/>
<path d="M81.57,362.50v6.0M88.98,362.50v6.0M95.05,362.50v6.0M100.17,362.50v6.0M104.61,362.50v6.0M104.61,619.90v-6.0M108.53,362.50v6.0M108.53,619.90v-6.0M112.03,362.50v11.0M112.03,619.90v-11.0M135.08,362.50v6.0M135.08,619.90v-6.0M148.56,362.50v6.0M148.56,619.90v-6.0M158.13,362.50v6.0M158.13,619.90v-6.0M165.54,362.50v6.0M165.54,619.90v-6.0M171.61,362.50v6.0M171.61,619.90v-6.0M176.73,362.50v6.0M176.73,619.90v-6.0M181.17,362.50v6.0M181.17,619.90v-6.0M185.09,362.50v6.0M185.09,619.90v-6.0M188.59,362.50v11.0M188.59,619.90v-11.0M211.64,362.50v6.0M211.64,619.90v-6.0M225.12,362.50v6.0M225.12,619.90v-6.0M234.69,362.50v6.0M234.69,619.90v-6.0M242.10,362.50v6.0M242.10,619.90v-6.0M248.17,362.50v6.0M248.17,619.90v-6.0M253.29,362.50v6.0M253.29,619.90v-6.0M257.73,362.50v6.0M257.73,619.90v-6.0M261.65,362.50v6.0M261.65,619.90v-6.0M265.15,362.50v11.0M265.15,619.90v-11.0M288.20,362.50v6.0M288.20,619.90v-6.0M301.68,362.50v6.0M301.68,619.90v-6.0M311.25,362.50v6.0M311.25,619.90v-6.0M318.66,362.50v6.0M318.66,619.90v-6.0M324.73,362.50v6.0M324.73,619.90v-6.0M329.85,362.50v6.0M329.85,619.90v-6.0M334.29,362.50v6.0M334.29,619.90v-6.0M338.21,362.50v6.0M338.21,619.90v-6.0M341.71,362.50v11.0M341.71,619.90v-11.0M364.76,362.50v6.0M364.76,619.90v-6.0M378.24,362.50v6.0M378.24,619.90v-6.0M387.81,362.50v6.0M387.81,619.90v-6.0M395.22,362.50v6.0M395.22,619.90v-6.0M401.29,362.50v6.0M401.29,619.90v-6.0M406.41,362.50v6.0M406.41,619.90v-6.0M410.85,362.50v6.0M410.85,619.90v-6.0M414.77,362.50v6.0M414.77,619.90v-6.0M418.27,362.50v11.0M418.27,619.90v-11.0M441.32,362.50v6.0M441.32,619.90v-6.0M72.00,596.50h11.0M454.80,596.50h-11.0M72.00,557.50h6.0M454.80,557.50h-6.0M72.00,518.50h11.0M454.80,518.50h-11.0M72.00,479.50h6.0M454.80,479.50h-6.0M72.00,440.50h11.0M454.80,440.50h-11.0M72.00,401.50h6.0M454.80,401.50h-6.0" stroke="#000" stroke-width="1.6" fill="none"/>
<text x="57.40" y="607.00" font-size="31.0" text-anchor="end" stroke="#000" stroke-width="0.4">0</text>
<text x="57.40" y="529.00" font-size="31.0" text-anchor="end" stroke="#000" stroke-width="0.4">2</text>
<text x="57.40" y="451.00" font-size="31.0" text-anchor="end" stroke="#000" stroke-width="0.4">4</text>
<text x="57.40" y="373.00" font-size="31.0" text-anchor="end" stroke="#000" stroke-width="0.4">6</text>
<path d="M72.00,595.06L73.59,595.06L75.19,595.05L76.78,595.05L78.38,595.04L79.98,595.03L81.57,595.03L83.16,595.02L84.76,595.01L86.36,595.00L87.95,594.99L89.55,594.98L91.14,594.97L92.73,594.96L94.33,594.95L95.92,594.93L97.52,594.92L99.12,594.90L100.71,594.89L102.30,594.87L103.90,594.85L105.50,594.83L107.09,594.81L108.69,594.78L110.28,594.76L111.87,594.73L113.47,594.70L115.06,594.67L116.66,594.63L118.26,594.60L119.85,594.56L121.44,594.52L123.04,594.48L124.64,594.43L126.23,594.38L127.83,594.32L129.42,594.26L131.01,594.20L132.61,594.14L134.20,594.06L135.80,593.99L137.40,593.91L138.99,593.82L140.58,593.72L142.18,593.62L143.78,593.52L145.37,593.40L146.97,593.28L148.56,593.15L150.15,593.00L151.75,592.85L153.34,592.69L154.94,592.52L156.54,592.33L158.13,592.14L159.72,591.93L161.32,591.70L162.92,591.46L164.51,591.20L166.11,590.93L167.70,590.63L169.29,590.32L170.89,589.98L172.49,589.63L174.08,589.25L175.68,588.84L177.27,588.41L178.86,587.95L180.46,587.46L182.06,586.94L183.65,586.38L185.25,585.79L186.84,585.17L188.43,584.50L190.03,583.80L191.62,583.05L193.22,582.26L194.82,581.42L196.41,580.53L198.00,579.59L199.60,578.60L201.19,577.55L202.79,576.45L204.39,575.29L205.98,574.07L207.57,572.79L209.17,571.45L210.77,570.04L212.36,568.56L213.96,567.02L215.55,565.42L217.14,563.74L218.74,562.00L220.34,560.20L221.93,558.32L223.53,556.39L225.12,554.39L226.72,552.33L228.31,550.21L229.91,548.03L231.50,545.80L233.09,543.52L234.69,541.20L236.29,538.84L237.88,536.44L239.47,534.00L241.07,531.55L242.66,529.07L244.26,526.58L245.86,524.08L247.45,521.58L249.05,519.09L250.64,516.60L252.23,514.13L253.83,511.68L255.43,509.26L257.02,506.87L258.62,504.52L260.21,502.21L261.80,499.95L263.40,497.74L265.00,495.58L266.59,493.48L268.19,491.44L269.78,489.46L271.38,487.54L272.97,485.69L274.57,483.90L276.16,482.18L277.75,480.53L279.35,478.95L280.94,477.43L282.54,475.98L284.14,474.59L285.73,473.27L287.33,472.00L288.92,470.80L290.51,469.66L292.11,468.58L293.71,467.55L295.30,466.58L296.89,465.66L298.49,464.78L300.08,463.96L301.68,463.18L303.28,462.45L304.87,461.76L306.47,461.10L308.06,460.49L309.65,459.91L311.25,459.37L312.85,458.86L314.44,458.38L316.03,457.93L317.63,457.50L319.22,457.10L320.82,456.73L322.42,456.38L324.01,456.05L325.61,455.75L327.20,455.46L328.79,455.19L330.39,454.94L331.99,454.70L333.58,454.48L335.18,454.28L336.77,454.08L338.36,453.90L339.96,453.73L341.56,453.57L343.15,453.43L344.75,453.29L346.34,453.16L347.94,453.04L349.53,452.93L351.12,452.82L352.72,452.72L354.31,452.63L355.91,452.54L357.50,452.46L359.10,452.39L360.69,452.32L362.29,452.25L363.88,452.19L365.48,452.14L367.07,452.08L368.67,452.03L370.27,451.99L371.86,451.94L373.45,451.90L375.05,451.87L376.64,451.83L378.24,451.80L379.83,451.77L381.43,451.74L383.03,451.71L384.62,451.69L386.22,451.66L387.81,451.64L389.40,451.62L391.00,451.60L392.60,451.59L394.19,451.57L395.79,451.55L397.38,451.54L398.97,451.53L400.57,451.51L402.17,451.50L403.76,451.49L405.36,451.48L406.95,451.47L408.54,451.46L410.14,451.46L411.74,451.45L413.33,451.44L414.93,451.43L416.52,451.43L418.12,451.42L419.71,451.42L421.31,451.41L422.90,451.41L424.50,451.40L426.09,451.40L427.69,451.39L429.28,451.39L430.88,451.39L432.47,451.38L434.07,451.38L435.66,451.38L437.25,451.38L438.85,451.37L440.44,451.37L442.04,451.37L443.64,451.37L445.23,451.37L446.82,451.36L448.42,451.36L450.01,451.36L451.61,451.36L453.21,451.36L454.80,451.36" fill="none" stroke="#e59c3c" stroke-width="1.9"/>
<path d="M72.00,588.70L73.59,588.70L75.19,588.70L76.78,588.70L78.38,588.70L79.98,588.70L81.57,588.70L83.16,588.70L84.76,588.70L86.36,588.70L87.95,588.70L89.55,588.70L91.14,588.70L92.73,588.70L94.33,588.70L95.92,588.70L97.52,588.70L99.12,588.70L100.71,588.70L102.30,588.70L103.90,588.70L105.50,588.70L107.09,588.70L108.69,588.70L110.28,588.70L111.87,588.70L113.47,588.70L115.06,588.70L116.66,588.70L118.26,588.70L119.85,588.70L121.44,588.70L123.04,588.70L124.64,588.70L126.23,588.70L127.83,588.70L129.42,588.70L131.01,588.70L132.61,588.70L134.20,588.70L135.80,588.70L137.40,588.70L138.99,588.70L140.58,588.70L142.18,588.70L143.78,588.70L145.37,588.70L146.97,588.70L148.56,588.70L150.15,588.70L151.75,588.70L153.34,588.70L154.94,588.70L156.54,588.70L158.13,588.70L159.72,588.70L161.32,588.70L162.92,588.70L164.51,588.70L166.11,588.70L167.70,588.70L169.29,588.70L170.89,588.70L172.49,588.70L174.08,588.70L175.68,588.70L177.27,588.70L178.86,588.70L180.46,588.70L182.06,588.70L183.65,588.70L185.25,588.70L186.84,588.70L188.43,588.70L190.03,588.70L191.62,588.70L193.22,588.70L194.82,588.70L196.41,588.70L198.00,588.70L199.60,588.70L201.19,588.70L202.79,588.70L204.39,588.70L205.98,588.70L207.57,588.70L209.17,588.70L210.77,588.70L212.36,588.70L213.96,588.70L215.55,588.70L217.14,588.70L218.74,588.70L220.34,588.70L221.93,588.70L223.53,588.70L225.12,588.70L226.72,588.70L228.31,588.70L229.91,588.70L231.50,588.70L233.09,588.70L234.69,588.70L236.29,588.70L237.88,588.69L239.47,588.69L241.07,588.69L242.66,588.69L244.26,588.69L245.86,588.68L247.45,588.68L249.05,588.68L250.64,588.67L252.23,588.67L253.83,588.66L255.43,588.65L257.02,588.64L258.62,588.62L260.21,588.60L261.80,588.58L263.40,588.56L265.00,588.52L266.59,588.48L268.19,588.43L269.78,588.37L271.38,588.30L272.97,588.20L274.57,588.09L276.16,587.95L277.75,587.78L279.35,587.57L280.94,587.32L282.54,587.01L284.14,586.63L285.73,586.16L287.33,585.59L288.92,584.89L290.51,584.04L292.11,583.01L293.71,581.77L295.30,580.26L296.89,578.44L298.49,576.27L300.08,573.67L301.68,570.59L303.28,566.96L304.87,562.73L306.47,557.84L308.06,552.25L309.65,545.95L311.25,538.95L312.85,531.30L314.44,523.09L316.03,514.44L317.63,505.52L319.22,496.50L320.82,487.57L322.42,478.91L324.01,470.70L325.61,463.04L327.20,456.03L328.79,449.72L330.39,444.13L331.99,439.23L333.58,434.99L335.18,431.35L336.77,428.27L338.36,425.66L339.96,423.48L341.56,421.66L343.15,420.15L344.75,418.90L346.34,417.87L347.94,417.02L349.53,416.32L351.12,415.75L352.72,415.28L354.31,414.90L355.91,414.58L357.50,414.33L359.10,414.12L360.69,413.95L362.29,413.81L363.88,413.70L365.48,413.60L367.07,413.53L368.67,413.47L370.27,413.42L371.86,413.38L373.45,413.34L375.05,413.32L376.64,413.30L378.24,413.28L379.83,413.26L381.43,413.25L383.03,413.24L384.62,413.23L386.22,413.23L387.81,413.22L389.40,413.22L391.00,413.22L392.60,413.21L394.19,413.21L395.79,413.21L397.38,413.21L398.97,413.21L400.57,413.20L402.17,413.20L403.76,413.20L405.36,413.20L406.95,413.20L408.54,413.20L410.14,413.20L411.74,413.20L413.33,413.20L414.93,413.20L416.52,413.20L418.12,413.20L419.71,413.20L421.31,413.20L422.90,413.20L424.50,413.20L426.09,413.20L427.69,413.20L429.28,413.20L430.88,413.20L432.47,413.20L434.07,413.20L435.66,413.20L437.25,413.20L438.85,413.20L440.44,413.20L442.04,413.20L443.64,413.20L445.23,413.20L446.82,413.20L448.42,413.20L450.01,413.20L451.61,413.20L453.21,413.20L454.80,413.20" fill="none" stroke="#000" stroke-width="1.9"/>
<circle cx="72.00" cy="589.87" r="5.9" fill="#000"/>
<circle cx="172.55" cy="592.60" r="5.9" fill="#000"/>
<circle cx="209.08" cy="589.87" r="5.9" fill="#000"/>
<circle cx="245.61" cy="587.14" r="5.9" fill="#000"/>
<circle cx="282.14" cy="581.68" r="5.9" fill="#000"/>
<circle cx="318.66" cy="499.39" r="5.9" fill="#000"/>
<circle cx="355.19" cy="409.30" r="5.9" fill="#000"/>
<circle cx="391.72" cy="419.05" r="5.9" fill="#000"/>
<circle cx="72.00" cy="592.99" r="4.9" fill="#fff" stroke="#e59c3c" stroke-width="1.9"/>
<circle cx="172.55" cy="591.82" r="4.9" fill="#fff" stroke="#e59c3c" stroke-width="1.9"/>
<circle cx="209.08" cy="580.12" r="4.9" fill="#fff" stroke="#e59c3c" stroke-width="1.9"/>
<circle cx="245.61" cy="517.33" r="4.9" fill="#fff" stroke="#e59c3c" stroke-width="1.9"/>
<circle cx="282.14" cy="482.62" r="4.9" fill="#fff" stroke="#e59c3c" stroke-width="1.9"/>
<circle cx="318.66" cy="454.54" r="4.9" fill="#fff" stroke="#e59c3c" stroke-width="1.9"/>
<circle cx="355.19" cy="451.03" r="4.9" fill="#fff" stroke="#e59c3c" stroke-width="1.9"/>
<circle cx="391.72" cy="447.91" r="4.9" fill="#fff" stroke="#e59c3c" stroke-width="1.9"/>
<text transform="matrix(0.95,0,0,1,11.295,0)" x="225.90" y="492.10" font-size="21.5" text-anchor="middle" fill="#e59c3c" stroke="#e59c3c" stroke-width="0.4">V469A</text>
<text transform="matrix(0.91,0,0,1,30.334,0)" x="337.05" y="538.20" font-size="21.5" text-anchor="middle" fill="#000" stroke="#000" stroke-width="0.55">WT</text>
</g>
<g>
<path d="M507.05,619.90V362.50H889.85V619.90H533.85M521.95,619.90H507.05" fill="none" stroke="#000" stroke-width="2.0" stroke-linecap="square"/>
<line x1="516.05" y1="630.50" x2="529.15" y2="608.90" stroke="#000" stroke-width="1.7"/>
<line x1="526.85" y1="630.50" x2="539.95" y2="608.90" stroke="#000" stroke-width="1.7"/>
<path d="M516.62,362.50v6.0M524.03,362.50v6.0M530.10,362.50v6.0M535.22,362.50v6.0M539.66,362.50v6.0M539.66,619.90v-6.0M543.58,362.50v6.0M543.58,619.90v-6.0M547.08,362.50v11.0M547.08,619.90v-11.0M570.13,362.50v6.0M570.13,619.90v-6.0M583.61,362.50v6.0M583.61,619.90v-6.0M593.18,362.50v6.0M593.18,619.90v-6.0M600.59,362.50v6.0M600.59,619.90v-6.0M606.66,362.50v6.0M606.66,619.90v-6.0M611.78,362.50v6.0M611.78,619.90v-6.0M616.22,362.50v6.0M616.22,619.90v-6.0M620.14,362.50v6.0M620.14,619.90v-6.0M623.64,362.50v11.0M623.64,619.90v-11.0M646.69,362.50v6.0M646.69,619.90v-6.0M660.17,362.50v6.0M660.17,619.90v-6.0M669.74,362.50v6.0M669.74,619.90v-6.0M677.15,362.50v6.0M677.15,619.90v-6.0M683.22,362.50v6.0M683.22,619.90v-6.0M688.34,362.50v6.0M688.34,619.90v-6.0M692.78,362.50v6.0M692.78,619.90v-6.0M696.70,362.50v6.0M696.70,619.90v-6.0M700.20,362.50v11.0M700.20,619.90v-11.0M723.25,362.50v6.0M723.25,619.90v-6.0M736.73,362.50v6.0M736.73,619.90v-6.0M746.30,362.50v6.0M746.30,619.90v-6.0M753.71,362.50v6.0M753.71,619.90v-6.0M759.78,362.50v6.0M759.78,619.90v-6.0M764.90,362.50v6.0M764.90,619.90v-6.0M769.34,362.50v6.0M769.34,619.90v-6.0M773.26,362.50v6.0M773.26,619.90v-6.0M776.76,362.50v11.0M776.76,619.90v-11.0M799.81,362.50v6.0M799.81,619.90v-6.0M813.29,362.50v6.0M813.29,619.90v-6.0M822.86,362.50v6.0M822.86,619.90v-6.0M830.27,362.50v6.0M830.27,619.90v-6.0M836.34,362.50v6.0M836.34,619.90v-6.0M841.46,362.50v6.0M841.46,619.90v-6.0M845.90,362.50v6.0M845.90,619.90v-6.0M849.82,362.50v6.0M849.82,619.90v-6.0M853.32,362.50v11.0M853.32,619.90v-11.0M876.37,362.50v6.0M876.37,619.90v-6.0M507.05,596.50h11.0M889.85,596.50h-11.0M507.05,567.25h6.0M889.85,567.25h-6.0M507.05,538.00h11.0M889.85,538.00h-11.0M507.05,508.75h6.0M889.85,508.75h-6.0M507.05,479.50h11.0M889.85,479.50h-11.0M507.05,450.25h6.0M889.85,450.25h-6.0M507.05,421.00h11.0M889.85,421.00h-11.0M507.05,391.75h6.0M889.85,391.75h-6.0" stroke="#000" stroke-width="1.6" fill="none"/>
<text x="492.45" y="607.00" font-size="31.0" text-anchor="end" stroke="#000" stroke-width="0.4">0</text>
<text x="492.45" y="548.50" font-size="31.0" text-anchor="end" stroke="#000" stroke-width="0.4">2</text>
<text x="492.45" y="490.00" font-size="31.0" text-anchor="end" stroke="#000" stroke-width="0.4">4</text>
<text x="492.45" y="431.50" font-size="31.0" text-anchor="end" stroke="#000" stroke-width="0.4">6</text>
<text x="492.45" y="373.00" font-size="31.0" text-anchor="end" stroke="#000" stroke-width="0.4">8</text>
<path d="M507.05,591.03L508.64,591.03L510.24,591.03L511.84,591.03L513.43,591.03L515.03,591.03L516.62,591.03L518.22,591.03L519.81,591.03L521.40,591.03L523.00,591.03L524.60,591.03L526.19,591.03L527.78,591.03L529.38,591.03L530.98,591.03L532.57,591.03L534.17,591.03L535.76,591.03L537.36,591.03L538.95,591.03L540.55,591.03L542.14,591.03L543.74,591.03L545.33,591.03L546.92,591.03L548.52,591.03L550.12,591.03L551.71,591.03L553.31,591.03L554.90,591.03L556.50,591.03L558.09,591.03L559.69,591.03L561.28,591.03L562.88,591.03L564.47,591.03L566.06,591.03L567.66,591.03L569.25,591.03L570.85,591.02L572.45,591.02L574.04,591.02L575.63,591.02L577.23,591.02L578.83,591.02L580.42,591.02L582.02,591.02L583.61,591.02L585.20,591.02L586.80,591.02L588.39,591.02L589.99,591.01L591.59,591.01L593.18,591.01L594.77,591.01L596.37,591.01L597.97,591.01L599.56,591.00L601.16,591.00L602.75,591.00L604.35,591.00L605.94,590.99L607.53,590.99L609.13,590.98L610.73,590.98L612.32,590.98L613.91,590.97L615.51,590.97L617.11,590.96L618.70,590.95L620.30,590.95L621.89,590.94L623.49,590.93L625.08,590.92L626.67,590.91L628.27,590.90L629.87,590.89L631.46,590.88L633.05,590.86L634.65,590.85L636.25,590.83L637.84,590.81L639.44,590.79L641.03,590.77L642.62,590.75L644.22,590.72L645.82,590.70L647.41,590.67L649.01,590.63L650.60,590.60L652.19,590.56L653.79,590.52L655.38,590.47L656.98,590.42L658.58,590.36L660.17,590.30L661.77,590.24L663.36,590.17L664.96,590.09L666.55,590.01L668.14,589.91L669.74,589.81L671.34,589.70L672.93,589.58L674.52,589.45L676.12,589.31L677.71,589.16L679.31,588.99L680.91,588.81L682.50,588.61L684.10,588.40L685.69,588.16L687.28,587.91L688.88,587.63L690.48,587.33L692.07,587.01L693.66,586.65L695.26,586.27L696.86,585.85L698.45,585.40L700.05,584.91L701.64,584.39L703.24,583.81L704.83,583.20L706.42,582.53L708.02,581.81L709.62,581.03L711.21,580.20L712.81,579.30L714.40,578.33L716.00,577.29L717.59,576.18L719.19,574.98L720.78,573.71L722.38,572.35L723.97,570.90L725.56,569.35L727.16,567.71L728.76,565.98L730.35,564.14L731.95,562.21L733.54,560.17L735.13,558.03L736.73,555.79L738.33,553.46L739.92,551.02L741.51,548.50L743.11,545.89L744.70,543.19L746.30,540.43L747.90,537.59L749.49,534.70L751.09,531.75L752.68,528.77L754.27,525.76L755.87,522.74L757.47,519.70L759.06,516.67L760.65,513.66L762.25,510.68L763.85,507.74L765.44,504.84L767.04,502.00L768.63,499.23L770.23,496.53L771.82,493.92L773.41,491.39L775.01,488.95L776.61,486.61L778.20,484.37L779.80,482.23L781.39,480.19L782.99,478.25L784.58,476.41L786.17,474.67L787.77,473.02L789.37,471.48L790.96,470.02L792.56,468.66L794.15,467.38L795.75,466.18L797.34,465.06L798.93,464.02L800.53,463.05L802.12,462.15L803.72,461.31L805.32,460.53L806.91,459.81L808.50,459.14L810.10,458.52L811.69,457.94L813.29,457.41L814.88,456.92L816.48,456.47L818.08,456.05L819.67,455.67L821.27,455.31L822.86,454.99L824.45,454.68L826.05,454.41L827.64,454.15L829.24,453.92L830.84,453.70L832.43,453.50L834.02,453.32L835.62,453.15L837.22,453.00L838.81,452.86L840.40,452.73L842.00,452.61L843.60,452.50L845.19,452.40L846.79,452.30L848.38,452.22L849.98,452.14L851.57,452.07L853.16,452.00L854.76,451.94L856.36,451.89L857.95,451.84L859.55,451.79L861.14,451.75L862.74,451.71L864.33,451.67L865.92,451.64L867.52,451.61L869.12,451.58L870.71,451.56L872.31,451.53L873.90,451.51L875.50,451.49L877.09,451.47L878.69,451.46L880.28,451.44L881.88,451.43L883.47,451.41L885.07,451.40L886.66,451.39L888.26,451.38L889.85,451.37" fill="none" stroke="#000" stroke-width="1.9" stroke-dasharray="9.8 7"/>
<path d="M507.05,589.25L508.64,589.25L510.24,589.25L511.84,589.25L513.43,589.25L515.03,589.25L516.62,589.25L518.22,589.25L519.81,589.25L521.40,589.25L523.00,589.25L524.60,589.25L526.19,589.25L527.78,589.25L529.38,589.25L530.98,589.25L532.57,589.25L534.17,589.25L535.76,589.25L537.36,589.25L538.95,589.25L540.55,589.25L542.14,589.25L543.74,589.25L545.33,589.25L546.92,589.25L548.52,589.25L550.12,589.25L551.71,589.25L553.31,589.25L554.90,589.25L556.50,589.25L558.09,589.25L559.69,589.25L561.28,589.25L562.88,589.25L564.47,589.25L566.06,589.25L567.66,589.25L569.25,589.25L570.85,589.25L572.45,589.25L574.04,589.25L575.63,589.25L577.23,589.25L578.83,589.25L580.42,589.25L582.02,589.25L583.61,589.25L585.20,589.25L586.80,589.25L588.39,589.25L589.99,589.25L591.59,589.25L593.18,589.25L594.77,589.25L596.37,589.25L597.97,589.25L599.56,589.25L601.16,589.25L602.75,589.25L604.35,589.25L605.94,589.25L607.53,589.25L609.13,589.25L610.73,589.25L612.32,589.25L613.91,589.25L615.51,589.25L617.11,589.25L618.70,589.25L620.30,589.24L621.89,589.24L623.49,589.24L625.08,589.24L626.67,589.24L628.27,589.24L629.87,589.24L631.46,589.24L633.05,589.24L634.65,589.24L636.25,589.24L637.84,589.24L639.44,589.24L641.03,589.24L642.62,589.24L644.22,589.24L645.82,589.23L647.41,589.23L649.01,589.23L650.60,589.23L652.19,589.23L653.79,589.22L655.38,589.22L656.98,589.21L658.58,589.21L660.17,589.20L661.77,589.20L663.36,589.19L664.96,589.18L666.55,589.17L668.14,589.16L669.74,589.14L671.34,589.13L672.93,589.11L674.52,589.09L676.12,589.06L677.71,589.03L679.31,589.00L680.91,588.96L682.50,588.92L684.10,588.86L685.69,588.81L687.28,588.74L688.88,588.66L690.48,588.56L692.07,588.46L693.66,588.33L695.26,588.19L696.86,588.03L698.45,587.84L700.05,587.62L701.64,587.37L703.24,587.08L704.83,586.74L706.42,586.36L708.02,585.91L709.62,585.40L711.21,584.82L712.81,584.14L714.40,583.37L716.00,582.49L717.59,581.48L719.19,580.33L720.78,579.02L722.38,577.54L723.97,575.85L725.56,573.96L727.16,571.82L728.76,569.43L730.35,566.76L731.95,563.80L733.54,560.53L735.13,556.95L736.73,553.04L738.33,548.82L739.92,544.28L741.51,539.45L743.11,534.35L744.70,529.03L746.30,523.52L747.90,517.87L749.49,512.15L751.09,506.40L752.68,500.70L754.27,495.10L755.87,489.66L757.47,484.42L759.06,479.43L760.65,474.72L762.25,470.30L763.85,466.21L765.44,462.43L767.04,458.97L768.63,455.83L770.23,452.99L771.82,450.44L773.41,448.15L775.01,446.11L776.61,444.31L778.20,442.71L779.80,441.29L781.39,440.05L782.99,438.96L784.58,438.00L786.17,437.17L787.77,436.44L789.37,435.80L790.96,435.25L792.56,434.76L794.15,434.34L795.75,433.98L797.34,433.66L798.93,433.39L800.53,433.15L802.12,432.94L803.72,432.77L805.32,432.61L806.91,432.48L808.50,432.36L810.10,432.26L811.69,432.17L813.29,432.10L814.88,432.03L816.48,431.98L818.08,431.93L819.67,431.89L821.27,431.85L822.86,431.82L824.45,431.79L826.05,431.77L827.64,431.75L829.24,431.73L830.84,431.71L832.43,431.70L834.02,431.69L835.62,431.68L837.22,431.67L838.81,431.66L840.40,431.66L842.00,431.65L843.60,431.65L845.19,431.64L846.79,431.64L848.38,431.64L849.98,431.63L851.57,431.63L853.16,431.63L854.76,431.63L856.36,431.63L857.95,431.63L859.55,431.62L861.14,431.62L862.74,431.62L864.33,431.62L865.92,431.62L867.52,431.62L869.12,431.62L870.71,431.62L872.31,431.62L873.90,431.62L875.50,431.62L877.09,431.62L878.69,431.62L880.28,431.62L881.88,431.62L883.47,431.62L885.07,431.62L886.66,431.62L888.26,431.62L889.85,431.62" fill="none" stroke="#000" stroke-width="1.9"/>
<path d="M507.05,583.19L513.05,589.19L507.05,595.19L501.05,589.19Z" fill="#000"/>
<path d="M607.60,584.06L613.60,590.06L607.60,596.06L601.60,590.06Z" fill="#000"/>
<path d="M644.13,584.06L650.13,590.06L644.13,596.06L638.13,590.06Z" fill="#000"/>
<path d="M680.66,582.31L686.66,588.31L680.66,594.31L674.66,588.31Z" fill="#000"/>
<path d="M717.19,577.04L723.19,583.04L717.19,589.04L711.19,583.04Z" fill="#000"/>
<path d="M753.71,496.31L759.71,502.31L753.71,508.31L747.71,502.31Z" fill="#000"/>
<path d="M790.24,426.70L796.24,432.70L790.24,438.70L784.24,432.70Z" fill="#000"/>
<path d="M826.77,427.87L832.77,433.87L826.77,439.87L820.77,433.87Z" fill="#000"/>
<path d="M507.05,585.16L511.95,590.06L507.05,594.96L502.15,590.06Z" fill="#fff" stroke="#000" stroke-width="1.9"/>
<path d="M607.60,583.41L612.50,588.31L607.60,593.21L602.70,588.31Z" fill="#fff" stroke="#000" stroke-width="1.9"/>
<path d="M644.13,584.29L649.03,589.19L644.13,594.09L639.23,589.19Z" fill="#fff" stroke="#000" stroke-width="1.9"/>
<path d="M680.66,583.41L685.56,588.31L680.66,593.21L675.76,588.31Z" fill="#fff" stroke="#000" stroke-width="1.9"/>
<path d="M717.19,571.71L722.09,576.61L717.19,581.51L712.29,576.61Z" fill="#fff" stroke="#000" stroke-width="1.9"/>
<path d="M753.71,527.25L758.61,532.15L753.71,537.05L748.81,532.15Z" fill="#fff" stroke="#000" stroke-width="1.9"/>
<path d="M790.24,465.83L795.14,470.73L790.24,475.62L785.34,470.73Z" fill="#fff" stroke="#000" stroke-width="1.9"/>
<path d="M826.77,449.44L831.67,454.34L826.77,459.24L821.87,454.34Z" fill="#fff" stroke="#000" stroke-width="1.9"/>
<text transform="matrix(0.91,0,0,1,66.685,0)" x="740.95" y="457.50" font-size="21.5" text-anchor="middle" fill="#000" stroke="#000" stroke-width="0.55">WT</text>
<text transform="matrix(0.95,0,0,1,40.130,0)" x="802.60" y="525.50" font-size="21.5" text-anchor="middle" fill="#000" stroke="none">Y466A</text>
</g>
<g>
<path d="M989.50,619.90V362.50H1372.30V619.90H1016.30M1004.40,619.90H989.50" fill="none" stroke="#000" stroke-width="2.0" stroke-linecap="square"/>
<line x1="998.50" y1="630.50" x2="1011.60" y2="608.90" stroke="#000" stroke-width="1.7"/>
<line x1="1009.30" y1="630.50" x2="1022.40" y2="608.90" stroke="#000" stroke-width="1.7"/>
<path d="M999.07,362.50v6.0M1006.48,362.50v6.0M1012.55,362.50v6.0M1017.67,362.50v6.0M1022.11,362.50v6.0M1022.11,619.90v-6.0M1026.03,362.50v6.0M1026.03,619.90v-6.0M1029.53,362.50v11.0M1029.53,619.90v-11.0M1052.58,362.50v6.0M1052.58,619.90v-6.0M1066.06,362.50v6.0M1066.06,619.90v-6.0M1075.63,362.50v6.0M1075.63,619.90v-6.0M1083.04,362.50v6.0M1083.04,619.90v-6.0M1089.11,362.50v6.0M1089.11,619.90v-6.0M1094.23,362.50v6.0M1094.23,619.90v-6.0M1098.67,362.50v6.0M1098.67,619.90v-6.0M1102.59,362.50v6.0M1102.59,619.90v-6.0M1106.09,362.50v11.0M1106.09,619.90v-11.0M1129.14,362.50v6.0M1129.14,619.90v-6.0M1142.62,362.50v6.0M1142.62,619.90v-6.0M1152.19,362.50v6.0M1152.19,619.90v-6.0M1159.60,362.50v6.0M1159.60,619.90v-6.0M1165.67,362.50v6.0M1165.67,619.90v-6.0M1170.79,362.50v6.0M1170.79,619.90v-6.0M1175.23,362.50v6.0M1175.23,619.90v-6.0M1179.15,362.50v6.0M1179.15,619.90v-6.0M1182.65,362.50v11.0M1182.65,619.90v-11.0M1205.70,362.50v6.0M1205.70,619.90v-6.0M1219.18,362.50v6.0M1219.18,619.90v-6.0M1228.75,362.50v6.0M1228.75,619.90v-6.0M1236.16,362.50v6.0M1236.16,619.90v-6.0M1242.23,362.50v6.0M1242.23,619.90v-6.0M1247.35,362.50v6.0M1247.35,619.90v-6.0M1251.79,362.50v6.0M1251.79,619.90v-6.0M1255.71,362.50v6.0M1255.71,619.90v-6.0M1259.21,362.50v11.0M1259.21,619.90v-11.0M1282.26,362.50v6.0M1282.26,619.90v-6.0M1295.74,362.50v6.0M1295.74,619.90v-6.0M1305.31,362.50v6.0M1305.31,619.90v-6.0M1312.72,362.50v6.0M1312.72,619.90v-6.0M1318.79,362.50v6.0M1318.79,619.90v-6.0M1323.91,362.50v6.0M1323.91,619.90v-6.0M1328.35,362.50v6.0M1328.35,619.90v-6.0M1332.27,362.50v6.0M1332.27,619.90v-6.0M1335.77,362.50v11.0M1335.77,619.90v-11.0M1358.82,362.50v6.0M1358.82,619.90v-6.0M989.50,596.50h11.0M1372.30,596.50h-11.0M989.50,567.25h6.0M1372.30,567.25h-6.0M989.50,538.00h11.0M1372.30,538.00h-11.0M989.50,508.75h6.0M1372.30,508.75h-6.0M989.50,479.50h11.0M1372.30,479.50h-11.0M989.50,450.25h6.0M1372.30,450.25h-6.0M989.50,421.00h11.0M1372.30,421.00h-11.0M989.50,391.75h6.0M1372.30,391.75h-6.0" stroke="#000" stroke-width="1.6" fill="none"/>
<text x="974.90" y="607.00" font-size="31.0" text-anchor="end" stroke="#000" stroke-width="0.4">0</text>
<text x="974.90" y="548.50" font-size="31.0" text-anchor="end" stroke="#000" stroke-width="0.4">1</text>
<text x="974.90" y="490.00" font-size="31.0" text-anchor="end" stroke="#000" stroke-width="0.4">2</text>
<text x="974.90" y="431.50" font-size="31.0" text-anchor="end" stroke="#000" stroke-width="0.4">3</text>
<text x="974.90" y="373.00" font-size="31.0" text-anchor="end" stroke="#000" stroke-width="0.4">4</text>
<path d="M989.50,593.60L991.10,593.54L992.69,593.48L994.28,593.42L995.88,593.35L997.47,593.28L999.07,593.21L1000.67,593.13L1002.26,593.05L1003.86,592.97L1005.45,592.88L1007.04,592.79L1008.64,592.70L1010.24,592.60L1011.83,592.49L1013.42,592.38L1015.02,592.27L1016.62,592.15L1018.21,592.02L1019.81,591.89L1021.40,591.75L1023.00,591.61L1024.59,591.46L1026.18,591.30L1027.78,591.14L1029.38,590.97L1030.97,590.79L1032.57,590.60L1034.16,590.40L1035.75,590.20L1037.35,589.98L1038.95,589.76L1040.54,589.52L1042.13,589.28L1043.73,589.02L1045.33,588.75L1046.92,588.48L1048.52,588.18L1050.11,587.88L1051.70,587.56L1053.30,587.23L1054.89,586.89L1056.49,586.53L1058.09,586.15L1059.68,585.76L1061.28,585.35L1062.87,584.93L1064.46,584.49L1066.06,584.03L1067.65,583.55L1069.25,583.05L1070.85,582.53L1072.44,581.99L1074.03,581.42L1075.63,580.84L1077.23,580.23L1078.82,579.60L1080.41,578.95L1082.01,578.27L1083.61,577.57L1085.20,576.84L1086.80,576.08L1088.39,575.30L1089.98,574.48L1091.58,573.64L1093.17,572.78L1094.77,571.88L1096.37,570.95L1097.96,569.99L1099.56,569.00L1101.15,567.98L1102.74,566.93L1104.34,565.85L1105.93,564.74L1107.53,563.59L1109.12,562.42L1110.72,561.21L1112.32,559.97L1113.91,558.69L1115.50,557.39L1117.10,556.06L1118.69,554.69L1120.29,553.29L1121.88,551.87L1123.48,550.42L1125.08,548.93L1126.67,547.42L1128.27,545.89L1129.86,544.33L1131.45,542.74L1133.05,541.14L1134.64,539.51L1136.24,537.86L1137.84,536.19L1139.43,534.51L1141.03,532.81L1142.62,531.09L1144.22,529.37L1145.81,527.63L1147.40,525.88L1149.00,524.13L1150.60,522.38L1152.19,520.62L1153.79,518.86L1155.38,517.10L1156.97,515.35L1158.57,513.60L1160.16,511.85L1161.76,510.12L1163.36,508.40L1164.95,506.68L1166.55,504.99L1168.14,503.31L1169.73,501.64L1171.33,500.00L1172.92,498.38L1174.52,496.77L1176.12,495.19L1177.71,493.64L1179.30,492.11L1180.90,490.61L1182.50,489.13L1184.09,487.69L1185.68,486.27L1187.28,484.88L1188.88,483.52L1190.47,482.20L1192.07,480.90L1193.66,479.63L1195.26,478.40L1196.85,477.20L1198.44,476.03L1200.04,474.89L1201.63,473.79L1203.23,472.71L1204.83,471.67L1206.42,470.66L1208.01,469.68L1209.61,468.73L1211.20,467.81L1212.80,466.92L1214.39,466.05L1215.99,465.22L1217.59,464.42L1219.18,463.64L1220.78,462.89L1222.37,462.17L1223.96,461.47L1225.56,460.79L1227.15,460.15L1228.75,459.52L1230.35,458.92L1231.94,458.34L1233.54,457.79L1235.13,457.25L1236.72,456.74L1238.32,456.24L1239.91,455.77L1241.51,455.31L1243.11,454.87L1244.70,454.45L1246.30,454.05L1247.89,453.66L1249.49,453.29L1251.08,452.93L1252.67,452.59L1254.27,452.26L1255.87,451.95L1257.46,451.65L1259.06,451.36L1260.65,451.08L1262.24,450.82L1263.84,450.57L1265.43,450.33L1267.03,450.09L1268.62,449.87L1270.22,449.66L1271.82,449.46L1273.41,449.26L1275.00,449.08L1276.60,448.90L1278.20,448.73L1279.79,448.56L1281.38,448.41L1282.98,448.26L1284.58,448.12L1286.17,447.98L1287.77,447.85L1289.36,447.73L1290.95,447.61L1292.55,447.50L1294.14,447.39L1295.74,447.29L1297.34,447.19L1298.93,447.09L1300.53,447.00L1302.12,446.92L1303.72,446.83L1305.31,446.75L1306.90,446.68L1308.50,446.61L1310.10,446.54L1311.69,446.47L1313.29,446.41L1314.88,446.35L1316.47,446.29L1318.07,446.24L1319.66,446.19L1321.26,446.14L1322.86,446.09L1324.45,446.05L1326.05,446.00L1327.64,445.96L1329.24,445.92L1330.83,445.89L1332.42,445.85L1334.02,445.82L1335.62,445.78L1337.21,445.75L1338.81,445.72L1340.40,445.69L1342.00,445.67L1343.59,445.64L1345.18,445.62L1346.78,445.59L1348.38,445.57L1349.97,445.55L1351.57,445.53L1353.16,445.51L1354.76,445.49L1356.35,445.47L1357.94,445.46L1359.54,445.44L1361.13,445.42L1362.73,445.41L1364.33,445.39L1365.92,445.38L1367.51,445.37L1369.11,445.36L1370.70,445.34L1372.30,445.33" fill="none" stroke="#e59c3c" stroke-width="1.9"/>
<path d="M989.50,596.14L991.10,596.13L992.69,596.13L994.28,596.12L995.88,596.12L997.47,596.11L999.07,596.11L1000.67,596.10L1002.26,596.09L1003.86,596.09L1005.45,596.08L1007.04,596.07L1008.64,596.06L1010.24,596.05L1011.83,596.04L1013.42,596.03L1015.02,596.02L1016.62,596.01L1018.21,596.00L1019.81,595.99L1021.40,595.97L1023.00,595.96L1024.59,595.94L1026.18,595.93L1027.78,595.91L1029.38,595.89L1030.97,595.87L1032.57,595.85L1034.16,595.83L1035.75,595.81L1037.35,595.78L1038.95,595.76L1040.54,595.73L1042.13,595.70L1043.73,595.67L1045.33,595.63L1046.92,595.60L1048.52,595.56L1050.11,595.52L1051.70,595.48L1053.30,595.43L1054.89,595.39L1056.49,595.34L1058.09,595.28L1059.68,595.22L1061.28,595.16L1062.87,595.10L1064.46,595.03L1066.06,594.96L1067.65,594.88L1069.25,594.80L1070.85,594.72L1072.44,594.63L1074.03,594.53L1075.63,594.43L1077.23,594.32L1078.82,594.20L1080.41,594.08L1082.01,593.95L1083.61,593.81L1085.20,593.67L1086.80,593.51L1088.39,593.35L1089.98,593.18L1091.58,592.99L1093.17,592.80L1094.77,592.59L1096.37,592.38L1097.96,592.15L1099.56,591.90L1101.15,591.64L1102.74,591.37L1104.34,591.08L1105.93,590.78L1107.53,590.45L1109.12,590.11L1110.72,589.75L1112.32,589.37L1113.91,588.96L1115.50,588.54L1117.10,588.09L1118.69,587.62L1120.29,587.12L1121.88,586.59L1123.48,586.03L1125.08,585.45L1126.67,584.83L1128.27,584.18L1129.86,583.50L1131.45,582.78L1133.05,582.03L1134.64,581.24L1136.24,580.41L1137.84,579.54L1139.43,578.62L1141.03,577.66L1142.62,576.66L1144.22,575.62L1145.81,574.52L1147.40,573.38L1149.00,572.18L1150.60,570.94L1152.19,569.65L1153.79,568.30L1155.38,566.90L1156.97,565.45L1158.57,563.94L1160.16,562.38L1161.76,560.77L1163.36,559.10L1164.95,557.38L1166.55,555.60L1168.14,553.78L1169.73,551.91L1171.33,549.98L1172.92,548.01L1174.52,545.99L1176.12,543.93L1177.71,541.83L1179.30,539.69L1180.90,537.52L1182.50,535.31L1184.09,533.08L1185.68,530.82L1187.28,528.53L1188.88,526.23L1190.47,523.92L1192.07,521.60L1193.66,519.27L1195.26,516.94L1196.85,514.61L1198.44,512.29L1200.04,509.98L1201.63,507.68L1203.23,505.41L1204.83,503.15L1206.42,500.93L1208.01,498.73L1209.61,496.57L1211.20,494.44L1212.80,492.35L1214.39,490.30L1215.99,488.30L1217.59,486.34L1219.18,484.43L1220.78,482.58L1222.37,480.77L1223.96,479.01L1225.56,477.31L1227.15,475.65L1228.75,474.06L1230.35,472.51L1231.94,471.02L1233.54,469.59L1235.13,468.20L1236.72,466.87L1238.32,465.59L1239.91,464.37L1241.51,463.19L1243.11,462.06L1244.70,460.98L1246.30,459.95L1247.89,458.96L1249.49,458.01L1251.08,457.11L1252.67,456.25L1254.27,455.44L1255.87,454.66L1257.46,453.91L1259.06,453.21L1260.65,452.54L1262.24,451.90L1263.84,451.29L1265.43,450.71L1267.03,450.17L1268.62,449.65L1270.22,449.16L1271.82,448.69L1273.41,448.25L1275.00,447.83L1276.60,447.43L1278.20,447.06L1279.79,446.70L1281.38,446.37L1282.98,446.05L1284.58,445.75L1286.17,445.47L1287.77,445.20L1289.36,444.94L1290.95,444.70L1292.55,444.48L1294.14,444.26L1295.74,444.06L1297.34,443.87L1298.93,443.69L1300.53,443.52L1302.12,443.36L1303.72,443.21L1305.31,443.07L1306.90,442.93L1308.50,442.80L1310.10,442.68L1311.69,442.57L1313.29,442.46L1314.88,442.36L1316.47,442.27L1318.07,442.18L1319.66,442.09L1321.26,442.01L1322.86,441.94L1324.45,441.87L1326.05,441.80L1327.64,441.74L1329.24,441.68L1330.83,441.62L1332.42,441.57L1334.02,441.52L1335.62,441.47L1337.21,441.43L1338.81,441.39L1340.40,441.35L1342.00,441.31L1343.59,441.28L1345.18,441.25L1346.78,441.21L1348.38,441.19L1349.97,441.16L1351.57,441.13L1353.16,441.11L1354.76,441.09L1356.35,441.06L1357.94,441.04L1359.54,441.02L1361.13,441.01L1362.73,440.99L1364.33,440.97L1365.92,440.96L1367.51,440.94L1369.11,440.93L1370.70,440.92L1372.30,440.91" fill="none" stroke="#000" stroke-width="1.9"/>
<rect x="984.00" y="589.25" width="11.0" height="11.0" fill="#000"/>
<rect x="1120.59" y="581.05" width="11.0" height="11.0" fill="#000"/>
<rect x="1157.12" y="550.63" width="11.0" height="11.0" fill="#000"/>
<rect x="1193.65" y="502.66" width="11.0" height="11.0" fill="#000"/>
<rect x="1230.18" y="462.88" width="11.0" height="11.0" fill="#000"/>
<rect x="1266.71" y="437.14" width="11.0" height="11.0" fill="#000"/>
<rect x="1303.24" y="430.71" width="11.0" height="11.0" fill="#000"/>
<rect x="1339.77" y="434.81" width="11.0" height="11.0" fill="#000"/>
<rect x="985.30" y="589.96" width="8.4" height="8.4" fill="#fff" stroke="#e59c3c" stroke-width="1.9"/>
<rect x="1048.84" y="582.94" width="8.4" height="8.4" fill="#fff" stroke="#e59c3c" stroke-width="1.9"/>
<rect x="1085.37" y="571.82" width="8.4" height="8.4" fill="#fff" stroke="#e59c3c" stroke-width="1.9"/>
<rect x="1121.89" y="542.57" width="8.4" height="8.4" fill="#fff" stroke="#e59c3c" stroke-width="1.9"/>
<rect x="1158.42" y="503.96" width="8.4" height="8.4" fill="#fff" stroke="#e59c3c" stroke-width="1.9"/>
<rect x="1194.95" y="478.81" width="8.4" height="8.4" fill="#fff" stroke="#e59c3c" stroke-width="1.9"/>
<rect x="1231.48" y="448.39" width="8.4" height="8.4" fill="#fff" stroke="#e59c3c" stroke-width="1.9"/>
<rect x="1268.01" y="449.56" width="8.4" height="8.4" fill="#fff" stroke="#e59c3c" stroke-width="1.9"/>
<text transform="matrix(0.95,0,0,1,57.570,0)" x="1151.40" y="481.70" font-size="21.5" text-anchor="middle" fill="#e59c3c" stroke="#e59c3c" stroke-width="0.4">V469A</text>
<text transform="matrix(0.91,0,0,1,109.435,0)" x="1215.95" y="547.40" font-size="21.5" text-anchor="middle" fill="#000" stroke="#000" stroke-width="0.55">WT</text>
</g>
<g>
<path d="M1424.10,619.90V362.50H1806.90V619.90H1450.90M1439.00,619.90H1424.10" fill="none" stroke="#000" stroke-width="2.0" stroke-linecap="square"/>
<line x1="1433.10" y1="630.50" x2="1446.20" y2="608.90" stroke="#000" stroke-width="1.7"/>
<line x1="1443.90" y1="630.50" x2="1457.00" y2="608.90" stroke="#000" stroke-width="1.7"/>
<path d="M1433.67,362.50v6.0M1441.08,362.50v6.0M1447.15,362.50v6.0M1452.27,362.50v6.0M1456.71,362.50v6.0M1456.71,619.90v-6.0M1460.63,362.50v6.0M1460.63,619.90v-6.0M1464.13,362.50v11.0M1464.13,619.90v-11.0M1487.18,362.50v6.0M1487.18,619.90v-6.0M1500.66,362.50v6.0M1500.66,619.90v-6.0M1510.23,362.50v6.0M1510.23,619.90v-6.0M1517.64,362.50v6.0M1517.64,619.90v-6.0M1523.71,362.50v6.0M1523.71,619.90v-6.0M1528.83,362.50v6.0M1528.83,619.90v-6.0M1533.27,362.50v6.0M1533.27,619.90v-6.0M1537.19,362.50v6.0M1537.19,619.90v-6.0M1540.69,362.50v11.0M1540.69,619.90v-11.0M1563.74,362.50v6.0M1563.74,619.90v-6.0M1577.22,362.50v6.0M1577.22,619.90v-6.0M1586.79,362.50v6.0M1586.79,619.90v-6.0M1594.20,362.50v6.0M1594.20,619.90v-6.0M1600.27,362.50v6.0M1600.27,619.90v-6.0M1605.39,362.50v6.0M1605.39,619.90v-6.0M1609.83,362.50v6.0M1609.83,619.90v-6.0M1613.75,362.50v6.0M1613.75,619.90v-6.0M1617.25,362.50v11.0M1617.25,619.90v-11.0M1640.30,362.50v6.0M1640.30,619.90v-6.0M1653.78,362.50v6.0M1653.78,619.90v-6.0M1663.35,362.50v6.0M1663.35,619.90v-6.0M1670.76,362.50v6.0M1670.76,619.90v-6.0M1676.83,362.50v6.0M1676.83,619.90v-6.0M1681.95,362.50v6.0M1681.95,619.90v-6.0M1686.39,362.50v6.0M1686.39,619.90v-6.0M1690.31,362.50v6.0M1690.31,619.90v-6.0M1693.81,362.50v11.0M1693.81,619.90v-11.0M1716.86,362.50v6.0M1716.86,619.90v-6.0M1730.34,362.50v6.0M1730.34,619.90v-6.0M1739.91,362.50v6.0M1739.91,619.90v-6.0M1747.32,362.50v6.0M1747.32,619.90v-6.0M1753.39,362.50v6.0M1753.39,619.90v-6.0M1758.51,362.50v6.0M1758.51,619.90v-6.0M1762.95,362.50v6.0M1762.95,619.90v-6.0M1766.87,362.50v6.0M1766.87,619.90v-6.0M1770.37,362.50v11.0M1770.37,619.90v-11.0M1793.42,362.50v6.0M1793.42,619.90v-6.0M1424.10,596.50h11.0M1806.90,596.50h-11.0M1424.10,557.50h6.0M1806.90,557.50h-6.0M1424.10,518.50h11.0M1806.90,518.50h-11.0M1424.10,479.50h6.0M1806.90,479.50h-6.0M1424.10,440.50h11.0M1806.90,440.50h-11.0M1424.10,401.50h6.0M1806.90,401.50h-6.0" stroke="#000" stroke-width="1.6" fill="none"/>
<text x="1409.50" y="607.00" font-size="31.0" text-anchor="end" stroke="#000" stroke-width="0.4">0</text>
<text x="1409.50" y="529.00" font-size="31.0" text-anchor="end" stroke="#000" stroke-width="0.4">2</text>
<text x="1409.50" y="451.00" font-size="31.0" text-anchor="end" stroke="#000" stroke-width="0.4">4</text>
<text x="1409.50" y="373.00" font-size="31.0" text-anchor="end" stroke="#000" stroke-width="0.4">6</text>
<path d="M1424.10,586.75H1806.90" fill="none" stroke="#000" stroke-width="1.9" stroke-dasharray="9.8 7"/>
<path d="M1424.10,590.86L1425.69,590.86L1427.29,590.85L1428.88,590.84L1430.48,590.83L1432.07,590.82L1433.67,590.81L1435.26,590.80L1436.86,590.79L1438.45,590.78L1440.05,590.77L1441.64,590.76L1443.24,590.74L1444.84,590.73L1446.43,590.72L1448.02,590.70L1449.62,590.69L1451.21,590.67L1452.81,590.65L1454.40,590.63L1456.00,590.62L1457.59,590.59L1459.19,590.57L1460.78,590.55L1462.38,590.53L1463.97,590.50L1465.57,590.48L1467.16,590.45L1468.76,590.42L1470.35,590.39L1471.95,590.36L1473.55,590.32L1475.14,590.29L1476.73,590.25L1478.33,590.21L1479.92,590.17L1481.52,590.13L1483.12,590.08L1484.71,590.03L1486.30,589.98L1487.90,589.93L1489.49,589.87L1491.09,589.81L1492.68,589.75L1494.28,589.69L1495.88,589.62L1497.47,589.54L1499.06,589.47L1500.66,589.39L1502.25,589.30L1503.85,589.22L1505.44,589.12L1507.04,589.02L1508.63,588.92L1510.23,588.81L1511.83,588.70L1513.42,588.58L1515.01,588.45L1516.61,588.32L1518.20,588.18L1519.80,588.04L1521.39,587.88L1522.99,587.72L1524.58,587.55L1526.18,587.37L1527.77,587.19L1529.37,586.99L1530.96,586.78L1532.56,586.57L1534.15,586.34L1535.75,586.10L1537.34,585.85L1538.94,585.59L1540.53,585.31L1542.13,585.02L1543.72,584.72L1545.32,584.40L1546.91,584.06L1548.51,583.71L1550.10,583.34L1551.70,582.96L1553.29,582.55L1554.89,582.13L1556.48,581.69L1558.08,581.22L1559.67,580.74L1561.27,580.23L1562.87,579.69L1564.46,579.14L1566.05,578.55L1567.65,577.95L1569.24,577.31L1570.84,576.64L1572.43,575.95L1574.03,575.22L1575.62,574.47L1577.22,573.68L1578.82,572.86L1580.41,572.00L1582.00,571.11L1583.60,570.18L1585.19,569.21L1586.79,568.21L1588.38,567.16L1589.98,566.08L1591.57,564.95L1593.17,563.78L1594.76,562.57L1596.36,561.31L1597.95,560.01L1599.55,558.67L1601.14,557.28L1602.74,555.84L1604.33,554.36L1605.93,552.83L1607.52,551.25L1609.12,549.63L1610.71,547.96L1612.31,546.24L1613.90,544.48L1615.50,542.68L1617.10,540.82L1618.69,538.93L1620.28,536.99L1621.88,535.01L1623.47,532.99L1625.07,530.94L1626.66,528.84L1628.26,526.71L1629.86,524.55L1631.45,522.36L1633.04,520.13L1634.64,517.88L1636.23,515.61L1637.83,513.32L1639.42,511.00L1641.02,508.68L1642.61,506.34L1644.21,503.99L1645.80,501.63L1647.40,499.27L1648.99,496.91L1650.59,494.55L1652.18,492.20L1653.78,489.86L1655.38,487.53L1656.97,485.21L1658.56,482.91L1660.16,480.64L1661.75,478.38L1663.35,476.15L1664.94,473.95L1666.54,471.78L1668.13,469.65L1669.73,467.54L1671.32,465.48L1672.92,463.45L1674.51,461.46L1676.11,459.52L1677.70,457.61L1679.30,455.75L1680.89,453.94L1682.49,452.17L1684.09,450.44L1685.68,448.76L1687.27,447.13L1688.87,445.54L1690.46,444.00L1692.06,442.51L1693.65,441.06L1695.25,439.66L1696.84,438.31L1698.44,437.00L1700.03,435.73L1701.63,434.51L1703.22,433.33L1704.82,432.20L1706.41,431.10L1708.01,430.05L1709.60,429.04L1711.20,428.06L1712.80,427.13L1714.39,426.23L1715.98,425.36L1717.58,424.53L1719.17,423.74L1720.77,422.97L1722.37,422.24L1723.96,421.54L1725.55,420.87L1727.15,420.23L1728.74,419.61L1730.34,419.02L1731.93,418.46L1733.53,417.92L1735.12,417.41L1736.72,416.92L1738.32,416.45L1739.91,416.00L1741.50,415.57L1743.10,415.17L1744.69,414.78L1746.29,414.40L1747.88,414.05L1749.48,413.71L1751.07,413.39L1752.67,413.08L1754.26,412.79L1755.86,412.51L1757.45,412.24L1759.05,411.99L1760.64,411.75L1762.24,411.52L1763.84,411.30L1765.43,411.09L1767.02,410.89L1768.62,410.70L1770.21,410.52L1771.81,410.35L1773.40,410.19L1775.00,410.03L1776.60,409.89L1778.19,409.75L1779.78,409.61L1781.38,409.49L1782.97,409.36L1784.57,409.25L1786.16,409.14L1787.76,409.04L1789.36,408.94L1790.95,408.84L1792.54,408.75L1794.14,408.67L1795.73,408.59L1797.33,408.51L1798.92,408.44L1800.52,408.37L1802.11,408.30L1803.71,408.24L1805.30,408.18L1806.90,408.12" fill="none" stroke="#000" stroke-width="1.9"/>
<path d="M1424.10,579.19L1430.10,585.19L1424.10,591.19L1418.10,585.19Z" fill="#000"/>
<path d="M1560.69,580.75L1566.69,586.75L1560.69,592.75L1554.69,586.75Z" fill="#000"/>
<path d="M1597.22,561.25L1603.22,567.25L1597.22,573.25L1591.22,567.25Z" fill="#000"/>
<path d="M1633.75,496.90L1639.75,502.90L1633.75,508.90L1627.75,502.90Z" fill="#000"/>
<path d="M1670.28,461.80L1676.28,467.80L1670.28,473.80L1664.28,467.80Z" fill="#000"/>
<path d="M1706.81,432.16L1712.81,438.16L1706.81,444.16L1700.81,438.16Z" fill="#000"/>
<path d="M1743.34,400.18L1749.34,406.18L1743.34,412.18L1737.34,406.18Z" fill="#000"/>
<path d="M1779.87,403.69L1785.87,409.69L1779.87,415.69L1773.87,409.69Z" fill="#000"/>
<path d="M1424.10,586.14L1429.00,591.04L1424.10,595.94L1419.20,591.04Z" fill="#fff" stroke="#000" stroke-width="1.9"/>
<path d="M1560.69,582.63L1565.59,587.53L1560.69,592.43L1555.79,587.53Z" fill="#fff" stroke="#000" stroke-width="1.9"/>
<path d="M1597.22,583.02L1602.12,587.92L1597.22,592.82L1592.32,587.92Z" fill="#fff" stroke="#000" stroke-width="1.9"/>
<path d="M1633.75,583.02L1638.65,587.92L1633.75,592.82L1628.85,587.92Z" fill="#fff" stroke="#000" stroke-width="1.9"/>
<path d="M1670.28,582.63L1675.18,587.53L1670.28,592.43L1665.38,587.53Z" fill="#fff" stroke="#000" stroke-width="1.9"/>
<path d="M1706.81,583.02L1711.71,587.92L1706.81,592.82L1701.91,587.92Z" fill="#fff" stroke="#000" stroke-width="1.9"/>
<path d="M1743.34,576.39L1748.24,581.29L1743.34,586.19L1738.44,581.29Z" fill="#fff" stroke="#000" stroke-width="1.9"/>
<path d="M1779.87,577.56L1784.77,582.46L1779.87,587.36L1774.97,582.46Z" fill="#fff" stroke="#000" stroke-width="1.9"/>
<text transform="matrix(0.91,0,0,1,146.925,0)" x="1632.50" y="479.40" font-size="21.5" text-anchor="middle" fill="#000" stroke="#000" stroke-width="0.55">WT</text>
<text transform="matrix(0.933,0,0,1,115.860,0)" x="1729.25" y="568.10" font-size="21.5" text-anchor="middle" fill="#000" stroke="none">Y466A</text>
</g>
<g>
<path d="M72.00,920.10V662.70H454.80V920.10H98.80M86.90,920.10H72.00" fill="none" stroke="#000" stroke-width="2.0" stroke-linecap="square"/>
<line x1="81.00" y1="930.70" x2="94.10" y2="909.10" stroke="#000" stroke-width="1.7"/>
<line x1="91.80" y1="930.70" x2="104.90" y2="909.10" stroke="#000" stroke-width="1.7"/>
<path d="M81.57,662.70v6.0M88.98,662.70v6.0M95.05,662.70v6.0M100.17,662.70v6.0M104.61,662.70v6.0M104.61,920.10v-6.0M108.53,662.70v6.0M108.53,920.10v-6.0M112.03,662.70v11.0M112.03,920.10v-11.0M135.08,662.70v6.0M135.08,920.10v-6.0M148.56,662.70v6.0M148.56,920.10v-6.0M158.13,662.70v6.0M158.13,920.10v-6.0M165.54,662.70v6.0M165.54,920.10v-6.0M171.61,662.70v6.0M171.61,920.10v-6.0M176.73,662.70v6.0M176.73,920.10v-6.0M181.17,662.70v6.0M181.17,920.10v-6.0M185.09,662.70v6.0M185.09,920.10v-6.0M188.59,662.70v11.0M188.59,920.10v-11.0M211.64,662.70v6.0M211.64,920.10v-6.0M225.12,662.70v6.0M225.12,920.10v-6.0M234.69,662.70v6.0M234.69,920.10v-6.0M242.10,662.70v6.0M242.10,920.10v-6.0M248.17,662.70v6.0M248.17,920.10v-6.0M253.29,662.70v6.0M253.29,920.10v-6.0M257.73,662.70v6.0M257.73,920.10v-6.0M261.65,662.70v6.0M261.65,920.10v-6.0M265.15,662.70v11.0M265.15,920.10v-11.0M288.20,662.70v6.0M288.20,920.10v-6.0M301.68,662.70v6.0M301.68,920.10v-6.0M311.25,662.70v6.0M311.25,920.10v-6.0M318.66,662.70v6.0M318.66,920.10v-6.0M324.73,662.70v6.0M324.73,920.10v-6.0M329.85,662.70v6.0M329.85,920.10v-6.0M334.29,662.70v6.0M334.29,920.10v-6.0M338.21,662.70v6.0M338.21,920.10v-6.0M341.71,662.70v11.0M341.71,920.10v-11.0M364.76,662.70v6.0M364.76,920.10v-6.0M378.24,662.70v6.0M378.24,920.10v-6.0M387.81,662.70v6.0M387.81,920.10v-6.0M395.22,662.70v6.0M395.22,920.10v-6.0M401.29,662.70v6.0M401.29,920.10v-6.0M406.41,662.70v6.0M406.41,920.10v-6.0M410.85,662.70v6.0M410.85,920.10v-6.0M414.77,662.70v6.0M414.77,920.10v-6.0M418.27,662.70v11.0M418.27,920.10v-11.0M441.32,662.70v6.0M441.32,920.10v-6.0M72.00,896.70h11.0M454.80,896.70h-11.0M72.00,867.45h6.0M454.80,867.45h-6.0M72.00,838.20h11.0M454.80,838.20h-11.0M72.00,808.95h6.0M454.80,808.95h-6.0M72.00,779.70h11.0M454.80,779.70h-11.0M72.00,750.45h6.0M454.80,750.45h-6.0M72.00,721.20h11.0M454.80,721.20h-11.0M72.00,691.95h6.0M454.80,691.95h-6.0" stroke="#000" stroke-width="1.6" fill="none"/>
<text x="57.40" y="907.20" font-size="31.0" text-anchor="end" stroke="#000" stroke-width="0.4">0</text>
<text x="57.40" y="848.70" font-size="31.0" text-anchor="end" stroke="#000" stroke-width="0.4">2</text>
<text x="57.40" y="790.20" font-size="31.0" text-anchor="end" stroke="#000" stroke-width="0.4">4</text>
<text x="57.40" y="731.70" font-size="31.0" text-anchor="end" stroke="#000" stroke-width="0.4">6</text>
<text x="57.40" y="673.20" font-size="31.0" text-anchor="end" stroke="#000" stroke-width="0.4">8</text>
<path d="M72.00,890.73L73.33,890.73L74.66,890.73L76.00,890.73L77.33,890.73L78.66,890.73L79.99,890.73L81.33,890.73L82.66,890.73L83.99,890.73L85.32,890.73L86.65,890.73L87.99,890.73L89.32,890.73L90.65,890.73L91.98,890.73L93.31,890.73L94.65,890.73L95.98,890.73L97.31,890.73L98.64,890.73L99.98,890.73L101.31,890.73L102.64,890.73L103.97,890.73L105.30,890.73L106.64,890.73L107.97,890.73L109.30,890.73L110.63,890.73L111.97,890.73L113.30,890.73L114.63,890.73L115.96,890.73L117.29,890.73L118.63,890.73L119.96,890.73L121.29,890.73L122.62,890.73L123.95,890.73L125.29,890.73L126.62,890.73L127.95,890.73L129.28,890.73L130.62,890.73L131.95,890.73L133.28,890.73L134.61,890.73L135.94,890.73L137.28,890.73L138.61,890.73L139.94,890.73L141.27,890.73L142.61,890.73L143.94,890.73L145.27,890.73L146.60,890.73L147.93,890.73L149.27,890.73L150.60,890.73L151.93,890.73L153.26,890.73L154.59,890.73L155.93,890.73L157.26,890.73L158.59,890.73L159.92,890.73L161.26,890.73L162.59,890.73L163.92,890.73L165.25,890.73L166.58,890.73L167.92,890.73L169.25,890.73L170.58,890.73L171.91,890.73L173.25,890.73L174.58,890.73L175.91,890.73L177.24,890.73L178.57,890.73L179.91,890.73L181.24,890.73L182.57,890.73L183.90,890.73L185.23,890.73L186.57,890.73L187.90,890.73L189.23,890.73L190.56,890.73L191.90,890.73L193.23,890.73L194.56,890.73L195.89,890.73L197.22,890.73L198.56,890.73L199.89,890.73L201.22,890.73L202.55,890.73L203.89,890.73L205.22,890.73L206.55,890.73L207.88,890.73L209.21,890.73L210.55,890.73L211.88,890.73L213.21,890.73L214.54,890.73L215.87,890.73L217.21,890.73L218.54,890.73L219.87,890.73L221.20,890.73L222.54,890.73L223.87,890.73L225.20,890.73L226.53,890.73L227.86,890.73L229.20,890.73L230.53,890.73L231.86,890.73L233.19,890.73L234.53,890.73L235.86,890.73L237.19,890.73L238.52,890.73L239.85,890.73L241.19,890.73L242.52,890.73L243.85,890.73L245.18,890.73L246.51,890.73L247.85,890.73L249.18,890.73L250.51,890.73L251.84,890.72L253.18,890.72L254.51,890.72L255.84,890.72L257.17,890.72L258.50,890.72L259.84,890.72L261.17,890.71L262.50,890.71L263.83,890.71L265.17,890.71L266.50,890.71L267.83,890.70L269.16,890.70L270.49,890.69L271.83,890.69L273.16,890.69L274.49,890.68L275.82,890.67L277.15,890.67L278.49,890.66L279.82,890.65L281.15,890.64L282.48,890.63L283.82,890.62L285.15,890.61L286.48,890.60L287.81,890.58L289.14,890.56L290.48,890.54L291.81,890.52L293.14,890.50L294.47,890.47L295.81,890.44L297.14,890.41L298.47,890.38L299.80,890.34L301.13,890.29L302.47,890.24L303.80,890.19L305.13,890.12L306.46,890.06L307.79,889.98L309.13,889.90L310.46,889.80L311.79,889.70L313.12,889.58L314.46,889.45L315.79,889.31L317.12,889.15L318.45,888.98L319.78,888.78L321.12,888.56L322.45,888.32L323.78,888.05L325.11,887.76L326.45,887.43L327.78,887.06L329.11,886.66L330.44,886.21L331.77,885.71L333.11,885.17L334.44,884.56L335.77,883.89L337.10,883.15L338.43,882.33L339.77,881.43L341.10,880.43L342.43,879.34L343.76,878.13L345.10,876.81L346.43,875.37L347.76,873.78L349.09,872.05L350.42,870.16L351.76,868.10L353.09,865.86L354.42,863.44L355.75,860.81L357.09,857.99L358.42,854.94L359.75,851.69L361.08,848.21L362.41,844.50L363.75,840.57L365.08,836.42L366.41,832.06L367.74,827.50L369.07,822.74L370.41,817.82L371.74,812.73L373.07,807.52L374.40,802.20L375.74,796.80L377.07,791.35L378.40,785.89L379.73,780.44L381.06,775.03L382.40,769.69L383.73,764.46L385.06,759.35L386.39,754.40L387.73,749.61L389.06,745.01L390.39,740.62L391.72,736.43" fill="none" stroke="#3b5ba3" stroke-width="1.9"/>
<path d="M72.00,889.39L73.59,889.39L75.19,889.39L76.78,889.39L78.38,889.39L79.98,889.39L81.57,889.39L83.16,889.39L84.76,889.39L86.36,889.39L87.95,889.39L89.55,889.39L91.14,889.39L92.73,889.39L94.33,889.39L95.92,889.39L97.52,889.39L99.12,889.39L100.71,889.39L102.30,889.39L103.90,889.39L105.50,889.39L107.09,889.39L108.69,889.39L110.28,889.39L111.87,889.39L113.47,889.39L115.06,889.39L116.66,889.39L118.26,889.39L119.85,889.39L121.44,889.39L123.04,889.39L124.64,889.39L126.23,889.39L127.83,889.39L129.42,889.39L131.01,889.39L132.61,889.39L134.20,889.39L135.80,889.39L137.40,889.39L138.99,889.39L140.58,889.39L142.18,889.39L143.78,889.39L145.37,889.39L146.97,889.39L148.56,889.39L150.15,889.39L151.75,889.39L153.34,889.39L154.94,889.39L156.54,889.39L158.13,889.39L159.72,889.39L161.32,889.39L162.92,889.39L164.51,889.39L166.11,889.39L167.70,889.39L169.29,889.39L170.89,889.39L172.49,889.39L174.08,889.39L175.68,889.39L177.27,889.39L178.86,889.39L180.46,889.39L182.06,889.39L183.65,889.39L185.25,889.39L186.84,889.39L188.43,889.39L190.03,889.39L191.62,889.39L193.22,889.39L194.82,889.39L196.41,889.39L198.00,889.39L199.60,889.39L201.19,889.39L202.79,889.39L204.39,889.39L205.98,889.39L207.57,889.39L209.17,889.39L210.77,889.39L212.36,889.39L213.96,889.39L215.55,889.39L217.14,889.39L218.74,889.39L220.34,889.39L221.93,889.39L223.53,889.39L225.12,889.39L226.72,889.39L228.31,889.39L229.91,889.39L231.50,889.39L233.09,889.39L234.69,889.38L236.29,889.38L237.88,889.38L239.47,889.38L241.07,889.38L242.66,889.38L244.26,889.38L245.86,889.37L247.45,889.37L249.05,889.37L250.64,889.36L252.23,889.35L253.83,889.35L255.43,889.34L257.02,889.32L258.62,889.31L260.21,889.29L261.80,889.26L263.40,889.23L265.00,889.19L266.59,889.14L268.19,889.08L269.78,889.00L271.38,888.91L272.97,888.79L274.57,888.64L276.16,888.46L277.75,888.23L279.35,887.95L280.94,887.59L282.54,887.15L284.14,886.61L285.73,885.93L287.33,885.09L288.92,884.06L290.51,882.78L292.11,881.20L293.71,879.28L295.30,876.93L296.89,874.07L298.49,870.63L300.08,866.51L301.68,861.63L303.28,855.90L304.87,849.27L306.47,841.71L308.06,833.22L309.65,823.88L311.25,813.81L312.85,803.20L314.44,792.27L316.03,781.28L317.63,770.51L319.22,760.19L320.82,750.54L322.42,741.69L324.01,733.75L325.61,726.75L327.20,720.66L328.79,715.44L330.39,711.03L331.99,707.32L333.58,704.24L335.18,701.70L336.77,699.61L338.36,697.90L339.96,696.51L341.56,695.38L343.15,694.47L344.75,693.73L346.34,693.13L347.94,692.65L349.53,692.27L351.12,691.95L352.72,691.70L354.31,691.50L355.91,691.34L357.50,691.21L359.10,691.11L360.69,691.03L362.29,690.96L363.88,690.91L365.48,690.86L367.07,690.83L368.67,690.80L370.27,690.78L371.86,690.76L373.45,690.75L375.05,690.74L376.64,690.73L378.24,690.72L379.83,690.72L381.43,690.71L383.03,690.71L384.62,690.70L386.22,690.70L387.81,690.70L389.40,690.70L391.00,690.70L392.60,690.70L394.19,690.70L395.79,690.69L397.38,690.69L398.97,690.69L400.57,690.69L402.17,690.69L403.76,690.69L405.36,690.69L406.95,690.69L408.54,690.69L410.14,690.69L411.74,690.69L413.33,690.69L414.93,690.69L416.52,690.69L418.12,690.69L419.71,690.69L421.31,690.69L422.90,690.69L424.50,690.69L426.09,690.69L427.69,690.69L429.28,690.69L430.88,690.69L432.47,690.69L434.07,690.69L435.66,690.69L437.25,690.69L438.85,690.69L440.44,690.69L442.04,690.69L443.64,690.69L445.23,690.69L446.82,690.69L448.42,690.69L450.01,690.69L451.61,690.69L453.21,690.69L454.80,690.69" fill="none" stroke="#000" stroke-width="1.9"/>
<path d="M72.00,897.32L78.50,886.72L65.50,886.72Z" fill="#000" stroke-linejoin="miter"/>
<path d="M172.55,894.98L179.05,884.38L166.05,884.38Z" fill="#000" stroke-linejoin="miter"/>
<path d="M209.08,897.32L215.58,886.72L202.58,886.72Z" fill="#000" stroke-linejoin="miter"/>
<path d="M245.61,898.49L252.11,887.89L239.11,887.89Z" fill="#000" stroke-linejoin="miter"/>
<path d="M282.14,894.10L288.64,883.50L275.64,883.50Z" fill="#000" stroke-linejoin="miter"/>
<path d="M318.66,773.01L325.16,762.41L312.16,762.41Z" fill="#000" stroke-linejoin="miter"/>
<path d="M355.19,695.79L361.69,685.19L348.69,685.19Z" fill="#000" stroke-linejoin="miter"/>
<path d="M391.72,697.84L398.22,687.24L385.22,687.24Z" fill="#000" stroke-linejoin="miter"/>
<path d="M72.00,892.03L77.40,883.23L66.60,883.23Z" fill="#fff" stroke="#3b5ba3" stroke-width="1.9" stroke-linejoin="miter"/>
<path d="M172.55,893.20L177.95,884.40L167.15,884.40Z" fill="#fff" stroke="#3b5ba3" stroke-width="1.9" stroke-linejoin="miter"/>
<path d="M209.08,894.08L214.48,885.28L203.68,885.28Z" fill="#fff" stroke="#3b5ba3" stroke-width="1.9" stroke-linejoin="miter"/>
<path d="M245.61,895.25L251.01,886.45L240.21,886.45Z" fill="#fff" stroke="#3b5ba3" stroke-width="1.9" stroke-linejoin="miter"/>
<path d="M282.14,894.08L287.54,885.28L276.74,885.28Z" fill="#fff" stroke="#3b5ba3" stroke-width="1.9" stroke-linejoin="miter"/>
<path d="M318.66,894.08L324.06,885.28L313.26,885.28Z" fill="#fff" stroke="#3b5ba3" stroke-width="1.9" stroke-linejoin="miter"/>
<path d="M355.19,872.14L360.59,863.34L349.79,863.34Z" fill="#fff" stroke="#3b5ba3" stroke-width="1.9" stroke-linejoin="miter"/>
<path d="M391.72,740.81L397.12,732.01L386.32,732.01Z" fill="#fff" stroke="#3b5ba3" stroke-width="1.9" stroke-linejoin="miter"/>
<text transform="matrix(0.91,0,0,1,26.185,0)" x="290.95" y="784.00" font-size="21.5" text-anchor="middle" fill="#000" stroke="#000" stroke-width="0.55">WT</text>
<text transform="matrix(0.967,0,0,1,13.139,0)" x="398.15" y="865.80" font-size="21.5" text-anchor="middle" fill="#3b5ba3" stroke="#3b5ba3" stroke-width="0.4">T465A</text>
</g>
<g>
<path d="M507.05,920.10V662.70H889.85V920.10H533.85M521.95,920.10H507.05" fill="none" stroke="#000" stroke-width="2.0" stroke-linecap="square"/>
<line x1="516.05" y1="930.70" x2="529.15" y2="909.10" stroke="#000" stroke-width="1.7"/>
<line x1="526.85" y1="930.70" x2="539.95" y2="909.10" stroke="#000" stroke-width="1.7"/>
<path d="M516.62,662.70v6.0M524.03,662.70v6.0M530.10,662.70v6.0M535.22,662.70v6.0M539.66,662.70v6.0M539.66,920.10v-6.0M543.58,662.70v6.0M543.58,920.10v-6.0M547.08,662.70v11.0M547.08,920.10v-11.0M570.13,662.70v6.0M570.13,920.10v-6.0M583.61,662.70v6.0M583.61,920.10v-6.0M593.18,662.70v6.0M593.18,920.10v-6.0M600.59,662.70v6.0M600.59,920.10v-6.0M606.66,662.70v6.0M606.66,920.10v-6.0M611.78,662.70v6.0M611.78,920.10v-6.0M616.22,662.70v6.0M616.22,920.10v-6.0M620.14,662.70v6.0M620.14,920.10v-6.0M623.64,662.70v11.0M623.64,920.10v-11.0M646.69,662.70v6.0M646.69,920.10v-6.0M660.17,662.70v6.0M660.17,920.10v-6.0M669.74,662.70v6.0M669.74,920.10v-6.0M677.15,662.70v6.0M677.15,920.10v-6.0M683.22,662.70v6.0M683.22,920.10v-6.0M688.34,662.70v6.0M688.34,920.10v-6.0M692.78,662.70v6.0M692.78,920.10v-6.0M696.70,662.70v6.0M696.70,920.10v-6.0M700.20,662.70v11.0M700.20,920.10v-11.0M723.25,662.70v6.0M723.25,920.10v-6.0M736.73,662.70v6.0M736.73,920.10v-6.0M746.30,662.70v6.0M746.30,920.10v-6.0M753.71,662.70v6.0M753.71,920.10v-6.0M759.78,662.70v6.0M759.78,920.10v-6.0M764.90,662.70v6.0M764.90,920.10v-6.0M769.34,662.70v6.0M769.34,920.10v-6.0M773.26,662.70v6.0M773.26,920.10v-6.0M776.76,662.70v11.0M776.76,920.10v-11.0M799.81,662.70v6.0M799.81,920.10v-6.0M813.29,662.70v6.0M813.29,920.10v-6.0M822.86,662.70v6.0M822.86,920.10v-6.0M830.27,662.70v6.0M830.27,920.10v-6.0M836.34,662.70v6.0M836.34,920.10v-6.0M841.46,662.70v6.0M841.46,920.10v-6.0M845.90,662.70v6.0M845.90,920.10v-6.0M849.82,662.70v6.0M849.82,920.10v-6.0M853.32,662.70v11.0M853.32,920.10v-11.0M876.37,662.70v6.0M876.37,920.10v-6.0M507.05,896.70h11.0M889.85,896.70h-11.0M507.05,867.45h6.0M889.85,867.45h-6.0M507.05,838.20h11.0M889.85,838.20h-11.0M507.05,808.95h6.0M889.85,808.95h-6.0M507.05,779.70h11.0M889.85,779.70h-11.0M507.05,750.45h6.0M889.85,750.45h-6.0M507.05,721.20h11.0M889.85,721.20h-11.0M507.05,691.95h6.0M889.85,691.95h-6.0" stroke="#000" stroke-width="1.6" fill="none"/>
<text x="492.45" y="907.20" font-size="31.0" text-anchor="end" stroke="#000" stroke-width="0.4">0</text>
<text x="492.45" y="848.70" font-size="31.0" text-anchor="end" stroke="#000" stroke-width="0.4">2</text>
<text x="492.45" y="790.20" font-size="31.0" text-anchor="end" stroke="#000" stroke-width="0.4">4</text>
<text x="492.45" y="731.70" font-size="31.0" text-anchor="end" stroke="#000" stroke-width="0.4">6</text>
<text x="492.45" y="673.20" font-size="31.0" text-anchor="end" stroke="#000" stroke-width="0.4">8</text>
<path d="M507.05,889.07L508.64,889.07L510.24,889.07L511.84,889.07L513.43,889.07L515.03,889.07L516.62,889.07L518.22,889.07L519.81,889.07L521.40,889.07L523.00,889.07L524.60,889.07L526.19,889.07L527.78,889.07L529.38,889.07L530.98,889.07L532.57,889.07L534.17,889.07L535.76,889.07L537.36,889.07L538.95,889.07L540.55,889.07L542.14,889.07L543.74,889.07L545.33,889.07L546.92,889.07L548.52,889.07L550.12,889.07L551.71,889.07L553.31,889.07L554.90,889.07L556.50,889.07L558.09,889.07L559.69,889.07L561.28,889.07L562.88,889.07L564.47,889.07L566.06,889.07L567.66,889.07L569.25,889.07L570.85,889.07L572.45,889.07L574.04,889.07L575.63,889.07L577.23,889.07L578.83,889.07L580.42,889.07L582.02,889.07L583.61,889.07L585.20,889.07L586.80,889.07L588.39,889.07L589.99,889.07L591.59,889.07L593.18,889.07L594.77,889.07L596.37,889.07L597.97,889.07L599.56,889.07L601.16,889.07L602.75,889.07L604.35,889.07L605.94,889.07L607.53,889.07L609.13,889.07L610.73,889.07L612.32,889.07L613.91,889.07L615.51,889.07L617.11,889.07L618.70,889.07L620.30,889.07L621.89,889.07L623.49,889.07L625.08,889.07L626.67,889.07L628.27,889.07L629.87,889.07L631.46,889.07L633.05,889.07L634.65,889.07L636.25,889.07L637.84,889.07L639.44,889.07L641.03,889.07L642.62,889.07L644.22,889.07L645.82,889.07L647.41,889.07L649.01,889.07L650.60,889.07L652.19,889.07L653.79,889.07L655.38,889.07L656.98,889.07L658.58,889.07L660.17,889.07L661.77,889.07L663.36,889.07L664.96,889.07L666.55,889.07L668.14,889.07L669.74,889.07L671.34,889.06L672.93,889.06L674.52,889.06L676.12,889.06L677.71,889.06L679.31,889.06L680.91,889.06L682.50,889.06L684.10,889.06L685.69,889.06L687.28,889.06L688.88,889.06L690.48,889.05L692.07,889.05L693.66,889.05L695.26,889.04L696.86,889.04L698.45,889.03L700.05,889.02L701.64,889.01L703.24,888.99L704.83,888.97L706.42,888.95L708.02,888.92L709.62,888.89L711.21,888.84L712.81,888.79L714.40,888.72L716.00,888.64L717.59,888.53L719.19,888.40L720.78,888.24L722.38,888.03L723.97,887.78L725.56,887.47L727.16,887.08L728.76,886.59L730.35,886.00L731.95,885.26L733.54,884.34L735.13,883.21L736.73,881.83L738.33,880.13L739.92,878.06L741.51,875.55L743.11,872.52L744.70,868.89L746.30,864.58L747.90,859.51L749.49,853.62L751.09,846.88L752.68,839.29L754.27,830.89L755.87,821.77L757.47,812.09L759.06,802.05L760.65,791.88L762.25,781.82L763.85,772.11L765.44,762.94L767.04,754.48L768.63,746.82L770.23,740.02L771.82,734.07L773.41,728.94L775.01,724.57L776.61,720.89L778.20,717.82L779.80,715.27L781.39,713.17L782.99,711.44L784.58,710.04L786.17,708.89L787.77,707.96L789.37,707.21L790.96,706.60L792.56,706.11L794.15,705.71L795.75,705.40L797.34,705.14L798.93,704.93L800.53,704.77L802.12,704.63L803.72,704.53L805.32,704.44L806.91,704.37L808.50,704.31L810.10,704.27L811.69,704.23L813.29,704.21L814.88,704.18L816.48,704.16L818.08,704.15L819.67,704.14L821.27,704.13L822.86,704.12L824.45,704.11L826.05,704.11L827.64,704.10L829.24,704.10L830.84,704.10L832.43,704.10L834.02,704.10L835.62,704.09L837.22,704.09L838.81,704.09L840.40,704.09L842.00,704.09L843.60,704.09L845.19,704.09L846.79,704.09L848.38,704.09L849.98,704.09L851.57,704.09L853.16,704.09L854.76,704.09L856.36,704.09L857.95,704.09L859.55,704.09L861.14,704.09L862.74,704.09L864.33,704.09L865.92,704.09L867.52,704.09L869.12,704.09L870.71,704.09L872.31,704.09L873.90,704.09L875.50,704.09L877.09,704.09L878.69,704.09L880.28,704.09L881.88,704.09L883.47,704.09L885.07,704.09L886.66,704.09L888.26,704.09L889.85,704.09" fill="none" stroke="#000" stroke-width="1.9" stroke-dasharray="9.8 7"/>
<path d="M507.05,889.45L508.64,889.45L510.24,889.45L511.84,889.45L513.43,889.45L515.03,889.45L516.62,889.45L518.22,889.45L519.81,889.45L521.40,889.45L523.00,889.45L524.60,889.45L526.19,889.45L527.78,889.45L529.38,889.45L530.98,889.45L532.57,889.45L534.17,889.45L535.76,889.45L537.36,889.45L538.95,889.45L540.55,889.45L542.14,889.45L543.74,889.45L545.33,889.45L546.92,889.45L548.52,889.45L550.12,889.45L551.71,889.45L553.31,889.45L554.90,889.45L556.50,889.45L558.09,889.45L559.69,889.45L561.28,889.45L562.88,889.45L564.47,889.45L566.06,889.45L567.66,889.45L569.25,889.45L570.85,889.45L572.45,889.45L574.04,889.45L575.63,889.45L577.23,889.45L578.83,889.45L580.42,889.45L582.02,889.45L583.61,889.45L585.20,889.45L586.80,889.45L588.39,889.45L589.99,889.45L591.59,889.45L593.18,889.45L594.77,889.45L596.37,889.45L597.97,889.45L599.56,889.45L601.16,889.45L602.75,889.45L604.35,889.45L605.94,889.45L607.53,889.45L609.13,889.45L610.73,889.45L612.32,889.45L613.91,889.45L615.51,889.45L617.11,889.45L618.70,889.45L620.30,889.44L621.89,889.44L623.49,889.44L625.08,889.44L626.67,889.44L628.27,889.44L629.87,889.44L631.46,889.44L633.05,889.44L634.65,889.44L636.25,889.44L637.84,889.44L639.44,889.44L641.03,889.44L642.62,889.44L644.22,889.44L645.82,889.43L647.41,889.43L649.01,889.43L650.60,889.43L652.19,889.43L653.79,889.42L655.38,889.42L656.98,889.41L658.58,889.41L660.17,889.40L661.77,889.40L663.36,889.39L664.96,889.38L666.55,889.37L668.14,889.36L669.74,889.34L671.34,889.33L672.93,889.31L674.52,889.29L676.12,889.26L677.71,889.23L679.31,889.20L680.91,889.16L682.50,889.12L684.10,889.06L685.69,889.01L687.28,888.94L688.88,888.86L690.48,888.76L692.07,888.66L693.66,888.53L695.26,888.39L696.86,888.23L698.45,888.04L700.05,887.82L701.64,887.57L703.24,887.28L704.83,886.94L706.42,886.56L708.02,886.11L709.62,885.60L711.21,885.02L712.81,884.34L714.40,883.57L716.00,882.69L717.59,881.68L719.19,880.53L720.78,879.22L722.38,877.74L723.97,876.05L725.56,874.16L727.16,872.02L728.76,869.63L730.35,866.96L731.95,864.00L733.54,860.73L735.13,857.15L736.73,853.24L738.33,849.02L739.92,844.48L741.51,839.65L743.11,834.55L744.70,829.23L746.30,823.72L747.90,818.07L749.49,812.35L751.09,806.60L752.68,800.90L754.27,795.30L755.87,789.86L757.47,784.62L759.06,779.63L760.65,774.92L762.25,770.50L763.85,766.41L765.44,762.63L767.04,759.17L768.63,756.03L770.23,753.19L771.82,750.64L773.41,748.35L775.01,746.31L776.61,744.51L778.20,742.91L779.80,741.49L781.39,740.25L782.99,739.16L784.58,738.20L786.17,737.37L787.77,736.64L789.37,736.00L790.96,735.45L792.56,734.96L794.15,734.54L795.75,734.18L797.34,733.86L798.93,733.59L800.53,733.35L802.12,733.14L803.72,732.97L805.32,732.81L806.91,732.68L808.50,732.56L810.10,732.46L811.69,732.37L813.29,732.30L814.88,732.23L816.48,732.18L818.08,732.13L819.67,732.09L821.27,732.05L822.86,732.02L824.45,731.99L826.05,731.97L827.64,731.95L829.24,731.93L830.84,731.91L832.43,731.90L834.02,731.89L835.62,731.88L837.22,731.87L838.81,731.86L840.40,731.86L842.00,731.85L843.60,731.85L845.19,731.84L846.79,731.84L848.38,731.84L849.98,731.83L851.57,731.83L853.16,731.83L854.76,731.83L856.36,731.83L857.95,731.83L859.55,731.82L861.14,731.82L862.74,731.82L864.33,731.82L865.92,731.82L867.52,731.82L869.12,731.82L870.71,731.82L872.31,731.82L873.90,731.82L875.50,731.82L877.09,731.82L878.69,731.82L880.28,731.82L881.88,731.82L883.47,731.82L885.07,731.82L886.66,731.82L888.26,731.82L889.85,731.82" fill="none" stroke="#000" stroke-width="1.9"/>
<path d="M507.05,883.39L513.05,889.39L507.05,895.39L501.05,889.39Z" fill="#000"/>
<path d="M607.60,884.26L613.60,890.26L607.60,896.26L601.60,890.26Z" fill="#000"/>
<path d="M644.13,884.26L650.13,890.26L644.13,896.26L638.13,890.26Z" fill="#000"/>
<path d="M680.66,882.51L686.66,888.51L680.66,894.51L674.66,888.51Z" fill="#000"/>
<path d="M717.19,877.25L723.19,883.25L717.19,889.25L711.19,883.25Z" fill="#000"/>
<path d="M753.71,796.51L759.71,802.51L753.71,808.51L747.71,802.51Z" fill="#000"/>
<path d="M790.24,726.90L796.24,732.90L790.24,738.90L784.24,732.90Z" fill="#000"/>
<path d="M826.77,728.07L832.77,734.07L826.77,740.07L820.77,734.07Z" fill="#000"/>
<path d="M507.05,884.78L511.95,889.68L507.05,894.58L502.15,889.68Z" fill="#fff" stroke="#000" stroke-width="1.9"/>
<path d="M607.60,883.90L612.50,888.80L607.60,893.70L602.70,888.80Z" fill="#fff" stroke="#000" stroke-width="1.9"/>
<path d="M644.13,883.90L649.03,888.80L644.13,893.70L639.23,888.80Z" fill="#fff" stroke="#000" stroke-width="1.9"/>
<path d="M680.66,884.49L685.56,889.39L680.66,894.29L675.76,889.39Z" fill="#fff" stroke="#000" stroke-width="1.9"/>
<path d="M717.19,884.78L722.09,889.68L717.19,894.58L712.29,889.68Z" fill="#fff" stroke="#000" stroke-width="1.9"/>
<path d="M753.71,829.21L758.61,834.11L753.71,839.00L748.81,834.11Z" fill="#fff" stroke="#000" stroke-width="1.9"/>
<path d="M790.24,702.26L795.14,707.16L790.24,712.06L785.34,707.16Z" fill="#fff" stroke="#000" stroke-width="1.9"/>
<path d="M826.77,697.58L831.67,702.48L826.77,707.38L821.87,702.48Z" fill="#fff" stroke="#000" stroke-width="1.9"/>
<text transform="matrix(0.91,0,0,1,72.490,0)" x="805.45" y="766.80" font-size="21.5" text-anchor="middle" fill="#000" stroke="#000" stroke-width="0.55">WT</text>
<text transform="matrix(0.956,0,0,1,34.782,0)" x="790.50" y="865.10" font-size="21.5" text-anchor="middle" fill="#000" stroke="none">G461A</text>
</g>
<g>
<path d="M989.50,920.10V662.70H1372.30V920.10H1016.30M1004.40,920.10H989.50" fill="none" stroke="#000" stroke-width="2.0" stroke-linecap="square"/>
<line x1="998.50" y1="930.70" x2="1011.60" y2="909.10" stroke="#000" stroke-width="1.7"/>
<line x1="1009.30" y1="930.70" x2="1022.40" y2="909.10" stroke="#000" stroke-width="1.7"/>
<path d="M999.07,662.70v6.0M1006.48,662.70v6.0M1012.55,662.70v6.0M1017.67,662.70v6.0M1022.11,662.70v6.0M1022.11,920.10v-6.0M1026.03,662.70v6.0M1026.03,920.10v-6.0M1029.53,662.70v11.0M1029.53,920.10v-11.0M1052.58,662.70v6.0M1052.58,920.10v-6.0M1066.06,662.70v6.0M1066.06,920.10v-6.0M1075.63,662.70v6.0M1075.63,920.10v-6.0M1083.04,662.70v6.0M1083.04,920.10v-6.0M1089.11,662.70v6.0M1089.11,920.10v-6.0M1094.23,662.70v6.0M1094.23,920.10v-6.0M1098.67,662.70v6.0M1098.67,920.10v-6.0M1102.59,662.70v6.0M1102.59,920.10v-6.0M1106.09,662.70v11.0M1106.09,920.10v-11.0M1129.14,662.70v6.0M1129.14,920.10v-6.0M1142.62,662.70v6.0M1142.62,920.10v-6.0M1152.19,662.70v6.0M1152.19,920.10v-6.0M1159.60,662.70v6.0M1159.60,920.10v-6.0M1165.67,662.70v6.0M1165.67,920.10v-6.0M1170.79,662.70v6.0M1170.79,920.10v-6.0M1175.23,662.70v6.0M1175.23,920.10v-6.0M1179.15,662.70v6.0M1179.15,920.10v-6.0M1182.65,662.70v11.0M1182.65,920.10v-11.0M1205.70,662.70v6.0M1205.70,920.10v-6.0M1219.18,662.70v6.0M1219.18,920.10v-6.0M1228.75,662.70v6.0M1228.75,920.10v-6.0M1236.16,662.70v6.0M1236.16,920.10v-6.0M1242.23,662.70v6.0M1242.23,920.10v-6.0M1247.35,662.70v6.0M1247.35,920.10v-6.0M1251.79,662.70v6.0M1251.79,920.10v-6.0M1255.71,662.70v6.0M1255.71,920.10v-6.0M1259.21,662.70v11.0M1259.21,920.10v-11.0M1282.26,662.70v6.0M1282.26,920.10v-6.0M1295.74,662.70v6.0M1295.74,920.10v-6.0M1305.31,662.70v6.0M1305.31,920.10v-6.0M1312.72,662.70v6.0M1312.72,920.10v-6.0M1318.79,662.70v6.0M1318.79,920.10v-6.0M1323.91,662.70v6.0M1323.91,920.10v-6.0M1328.35,662.70v6.0M1328.35,920.10v-6.0M1332.27,662.70v6.0M1332.27,920.10v-6.0M1335.77,662.70v11.0M1335.77,920.10v-11.0M1358.82,662.70v6.0M1358.82,920.10v-6.0M989.50,896.70h11.0M1372.30,896.70h-11.0M989.50,857.70h6.0M1372.30,857.70h-6.0M989.50,818.70h11.0M1372.30,818.70h-11.0M989.50,779.70h6.0M1372.30,779.70h-6.0M989.50,740.70h11.0M1372.30,740.70h-11.0M989.50,701.70h6.0M1372.30,701.70h-6.0" stroke="#000" stroke-width="1.6" fill="none"/>
<text x="974.90" y="907.20" font-size="31.0" text-anchor="end" stroke="#000" stroke-width="0.4">0</text>
<text x="974.90" y="829.20" font-size="31.0" text-anchor="end" stroke="#000" stroke-width="0.4">2</text>
<text x="974.90" y="751.20" font-size="31.0" text-anchor="end" stroke="#000" stroke-width="0.4">4</text>
<text x="974.90" y="673.20" font-size="31.0" text-anchor="end" stroke="#000" stroke-width="0.4">6</text>
<path d="M989.50,891.71L991.10,891.70L992.69,891.70L994.28,891.69L995.88,891.68L997.47,891.67L999.07,891.66L1000.67,891.65L1002.26,891.64L1003.86,891.63L1005.45,891.62L1007.04,891.61L1008.64,891.60L1010.24,891.58L1011.83,891.57L1013.42,891.56L1015.02,891.54L1016.62,891.53L1018.21,891.51L1019.81,891.50L1021.40,891.48L1023.00,891.46L1024.59,891.44L1026.18,891.42L1027.78,891.40L1029.38,891.38L1030.97,891.36L1032.57,891.33L1034.16,891.31L1035.75,891.28L1037.35,891.25L1038.95,891.23L1040.54,891.20L1042.13,891.16L1043.73,891.13L1045.33,891.10L1046.92,891.06L1048.52,891.02L1050.11,890.98L1051.70,890.94L1053.30,890.90L1054.89,890.85L1056.49,890.81L1058.09,890.76L1059.68,890.70L1061.28,890.65L1062.87,890.59L1064.46,890.53L1066.06,890.47L1067.65,890.41L1069.25,890.34L1070.85,890.27L1072.44,890.19L1074.03,890.12L1075.63,890.03L1077.23,889.95L1078.82,889.86L1080.41,889.77L1082.01,889.67L1083.61,889.57L1085.20,889.46L1086.80,889.35L1088.39,889.23L1089.98,889.11L1091.58,888.98L1093.17,888.85L1094.77,888.71L1096.37,888.56L1097.96,888.41L1099.56,888.25L1101.15,888.08L1102.74,887.91L1104.34,887.73L1105.93,887.53L1107.53,887.34L1109.12,887.13L1110.72,886.91L1112.32,886.68L1113.91,886.45L1115.50,886.20L1117.10,885.94L1118.69,885.67L1120.29,885.39L1121.88,885.10L1123.48,884.79L1125.08,884.47L1126.67,884.14L1128.27,883.79L1129.86,883.43L1131.45,883.05L1133.05,882.66L1134.64,882.25L1136.24,881.82L1137.84,881.37L1139.43,880.91L1141.03,880.42L1142.62,879.92L1144.22,879.40L1145.81,878.85L1147.40,878.29L1149.00,877.70L1150.60,877.08L1152.19,876.45L1153.79,875.78L1155.38,875.10L1156.97,874.38L1158.57,873.64L1160.16,872.88L1161.76,872.08L1163.36,871.25L1164.95,870.40L1166.55,869.51L1168.14,868.60L1169.73,867.65L1171.33,866.67L1172.92,865.65L1174.52,864.61L1176.12,863.52L1177.71,862.41L1179.30,861.26L1180.90,860.07L1182.50,858.85L1184.09,857.59L1185.68,856.29L1187.28,854.96L1188.88,853.59L1190.47,852.19L1192.07,850.74L1193.66,849.27L1195.26,847.75L1196.85,846.20L1198.44,844.62L1200.04,843.00L1201.63,841.34L1203.23,839.65L1204.83,837.93L1206.42,836.18L1208.01,834.39L1209.61,832.58L1211.20,830.74L1212.80,828.87L1214.39,826.97L1215.99,825.05L1217.59,823.11L1219.18,821.14L1220.78,819.16L1222.37,817.16L1223.96,815.15L1225.56,813.12L1227.15,811.07L1228.75,809.02L1230.35,806.97L1231.94,804.90L1233.54,802.84L1235.13,800.77L1236.72,798.71L1238.32,796.64L1239.91,794.59L1241.51,792.54L1243.11,790.50L1244.70,788.48L1246.30,786.46L1247.89,784.47L1249.49,782.49L1251.08,780.53L1252.67,778.60L1254.27,776.68L1255.87,774.80L1257.46,772.93L1259.06,771.10L1260.65,769.29L1262.24,767.52L1263.84,765.77L1265.43,764.06L1267.03,762.38L1268.62,760.74L1270.22,759.13L1271.82,757.55L1273.41,756.01L1275.00,754.51L1276.60,753.04L1278.20,751.61L1279.79,750.22L1281.38,748.86L1282.98,747.54L1284.58,746.25L1286.17,745.00L1287.77,743.79L1289.36,742.62L1290.95,741.47L1292.55,740.37L1294.14,739.30L1295.74,738.26L1297.34,737.25L1298.93,736.28L1300.53,735.34L1302.12,734.44L1303.72,733.56L1305.31,732.71L1306.90,731.90L1308.50,731.11L1310.10,730.35L1311.69,729.62L1313.29,728.91L1314.88,728.23L1316.47,727.58L1318.07,726.95L1319.66,726.34L1321.26,725.76L1322.86,725.20L1324.45,724.66L1326.05,724.14L1327.64,723.64L1329.24,723.17L1330.83,722.71L1332.42,722.27L1334.02,721.84L1335.62,721.44L1337.21,721.05L1338.81,720.68L1340.40,720.32L1342.00,719.97L1343.59,719.64L1345.18,719.33L1346.78,719.03L1348.38,718.74L1349.97,718.46L1351.57,718.19L1353.16,717.94L1354.76,717.69L1356.35,717.46L1357.94,717.24L1359.54,717.02L1361.13,716.82L1362.73,716.62L1364.33,716.43L1365.92,716.25L1367.51,716.08L1369.11,715.92L1370.70,715.76L1372.30,715.61" fill="none" stroke="#3b5ba3" stroke-width="1.9"/>
<path d="M989.50,894.37L991.10,894.36L992.69,894.35L994.28,894.34L995.88,894.33L997.47,894.31L999.07,894.30L1000.67,894.29L1002.26,894.27L1003.86,894.26L1005.45,894.24L1007.04,894.22L1008.64,894.21L1010.24,894.19L1011.83,894.17L1013.42,894.15L1015.02,894.13L1016.62,894.11L1018.21,894.08L1019.81,894.06L1021.40,894.04L1023.00,894.01L1024.59,893.98L1026.18,893.95L1027.78,893.92L1029.38,893.89L1030.97,893.86L1032.57,893.82L1034.16,893.79L1035.75,893.75L1037.35,893.71L1038.95,893.67L1040.54,893.63L1042.13,893.58L1043.73,893.53L1045.33,893.48L1046.92,893.43L1048.52,893.38L1050.11,893.32L1051.70,893.26L1053.30,893.20L1054.89,893.13L1056.49,893.06L1058.09,892.99L1059.68,892.92L1061.28,892.84L1062.87,892.76L1064.46,892.67L1066.06,892.58L1067.65,892.49L1069.25,892.39L1070.85,892.29L1072.44,892.18L1074.03,892.07L1075.63,891.95L1077.23,891.83L1078.82,891.70L1080.41,891.56L1082.01,891.42L1083.61,891.28L1085.20,891.12L1086.80,890.96L1088.39,890.80L1089.98,890.62L1091.58,890.44L1093.17,890.25L1094.77,890.05L1096.37,889.84L1097.96,889.62L1099.56,889.39L1101.15,889.15L1102.74,888.90L1104.34,888.64L1105.93,888.37L1107.53,888.09L1109.12,887.80L1110.72,887.49L1112.32,887.17L1113.91,886.83L1115.50,886.48L1117.10,886.12L1118.69,885.73L1120.29,885.34L1121.88,884.92L1123.48,884.49L1125.08,884.04L1126.67,883.58L1128.27,883.09L1129.86,882.58L1131.45,882.05L1133.05,881.50L1134.64,880.93L1136.24,880.34L1137.84,879.72L1139.43,879.08L1141.03,878.41L1142.62,877.71L1144.22,876.99L1145.81,876.25L1147.40,875.47L1149.00,874.67L1150.60,873.83L1152.19,872.97L1153.79,872.07L1155.38,871.14L1156.97,870.18L1158.57,869.19L1160.16,868.16L1161.76,867.10L1163.36,866.00L1164.95,864.87L1166.55,863.70L1168.14,862.49L1169.73,861.25L1171.33,859.97L1172.92,858.65L1174.52,857.30L1176.12,855.91L1177.71,854.47L1179.30,853.01L1180.90,851.50L1182.50,849.95L1184.09,848.37L1185.68,846.75L1187.28,845.10L1188.88,843.40L1190.47,841.67L1192.07,839.91L1193.66,838.12L1195.26,836.29L1196.85,834.42L1198.44,832.53L1200.04,830.61L1201.63,828.66L1203.23,826.69L1204.83,824.68L1206.42,822.66L1208.01,820.62L1209.61,818.55L1211.20,816.47L1212.80,814.37L1214.39,812.26L1215.99,810.14L1217.59,808.00L1219.18,805.86L1220.78,803.72L1222.37,801.57L1223.96,799.43L1225.56,797.28L1227.15,795.14L1228.75,793.01L1230.35,790.88L1231.94,788.77L1233.54,786.67L1235.13,784.58L1236.72,782.51L1238.32,780.46L1239.91,778.43L1241.51,776.43L1243.11,774.45L1244.70,772.49L1246.30,770.56L1247.89,768.66L1249.49,766.80L1251.08,764.96L1252.67,763.16L1254.27,761.39L1255.87,759.65L1257.46,757.95L1259.06,756.29L1260.65,754.66L1262.24,753.07L1263.84,751.52L1265.43,750.00L1267.03,748.52L1268.62,747.09L1270.22,745.68L1271.82,744.32L1273.41,743.00L1275.00,741.71L1276.60,740.46L1278.20,739.24L1279.79,738.07L1281.38,736.93L1282.98,735.82L1284.58,734.75L1286.17,733.72L1287.77,732.72L1289.36,731.75L1290.95,730.81L1292.55,729.91L1294.14,729.04L1295.74,728.20L1297.34,727.39L1298.93,726.61L1300.53,725.85L1302.12,725.13L1303.72,724.43L1305.31,723.75L1306.90,723.11L1308.50,722.48L1310.10,721.88L1311.69,721.31L1313.29,720.75L1314.88,720.22L1316.47,719.71L1318.07,719.22L1319.66,718.74L1321.26,718.29L1322.86,717.86L1324.45,717.44L1326.05,717.04L1327.64,716.65L1329.24,716.29L1330.83,715.93L1332.42,715.59L1334.02,715.27L1335.62,714.96L1337.21,714.66L1338.81,714.38L1340.40,714.10L1342.00,713.84L1343.59,713.59L1345.18,713.35L1346.78,713.12L1348.38,712.90L1349.97,712.69L1351.57,712.49L1353.16,712.29L1354.76,712.11L1356.35,711.93L1357.94,711.76L1359.54,711.60L1361.13,711.45L1362.73,711.30L1364.33,711.16L1365.92,711.02L1367.51,710.89L1369.11,710.77L1370.70,710.65L1372.30,710.53" fill="none" stroke="#000" stroke-width="1.9"/>
<path d="M989.50,894.98L996.00,884.38L983.00,884.38Z" fill="#000" stroke-linejoin="miter"/>
<path d="M1126.09,894.20L1132.59,883.60L1119.59,883.60Z" fill="#000" stroke-linejoin="miter"/>
<path d="M1162.62,876.65L1169.12,866.05L1156.12,866.05Z" fill="#000" stroke-linejoin="miter"/>
<path d="M1199.15,827.12L1205.65,816.52L1192.65,816.52Z" fill="#000" stroke-linejoin="miter"/>
<path d="M1235.68,782.27L1242.18,771.67L1229.18,771.67Z" fill="#000" stroke-linejoin="miter"/>
<path d="M1272.21,753.41L1278.71,742.81L1265.71,742.81Z" fill="#000" stroke-linejoin="miter"/>
<path d="M1308.74,728.06L1315.24,717.46L1302.24,717.46Z" fill="#000" stroke-linejoin="miter"/>
<path d="M1345.27,710.51L1351.77,699.91L1338.77,699.91Z" fill="#000" stroke-linejoin="miter"/>
<path d="M989.50,889.40L994.90,880.60L984.10,880.60Z" fill="#fff" stroke="#3b5ba3" stroke-width="1.9" stroke-linejoin="miter"/>
<path d="M1126.09,891.74L1131.49,882.94L1120.69,882.94Z" fill="#fff" stroke="#3b5ba3" stroke-width="1.9" stroke-linejoin="miter"/>
<path d="M1162.62,886.28L1168.02,877.48L1157.22,877.48Z" fill="#fff" stroke="#3b5ba3" stroke-width="1.9" stroke-linejoin="miter"/>
<path d="M1199.15,849.23L1204.55,840.43L1193.75,840.43Z" fill="#fff" stroke="#3b5ba3" stroke-width="1.9" stroke-linejoin="miter"/>
<path d="M1235.68,802.04L1241.08,793.24L1230.28,793.24Z" fill="#fff" stroke="#3b5ba3" stroke-width="1.9" stroke-linejoin="miter"/>
<path d="M1272.21,766.16L1277.61,757.36L1266.81,757.36Z" fill="#fff" stroke="#3b5ba3" stroke-width="1.9" stroke-linejoin="miter"/>
<path d="M1308.74,732.62L1314.14,723.82L1303.34,723.82Z" fill="#fff" stroke="#3b5ba3" stroke-width="1.9" stroke-linejoin="miter"/>
<path d="M1345.27,720.92L1350.67,712.12L1339.87,712.12Z" fill="#fff" stroke="#3b5ba3" stroke-width="1.9" stroke-linejoin="miter"/>
<text transform="matrix(0.91,0,0,1,107.874,0)" x="1198.60" y="802.50" font-size="21.5" text-anchor="middle" fill="#000" stroke="#000" stroke-width="0.55">WT</text>
<text transform="matrix(0.967,0,0,1,42.291,0)" x="1281.55" y="808.20" font-size="21.5" text-anchor="middle" fill="#3b5ba3" stroke="#3b5ba3" stroke-width="0.4">T465A</text>
</g>
<g>
<path d="M1424.10,920.10V662.70H1806.90V920.10H1450.90M1439.00,920.10H1424.10" fill="none" stroke="#000" stroke-width="2.0" stroke-linecap="square"/>
<line x1="1433.10" y1="930.70" x2="1446.20" y2="909.10" stroke="#000" stroke-width="1.7"/>
<line x1="1443.90" y1="930.70" x2="1457.00" y2="909.10" stroke="#000" stroke-width="1.7"/>
<path d="M1433.67,662.70v6.0M1441.08,662.70v6.0M1447.15,662.70v6.0M1452.27,662.70v6.0M1456.71,662.70v6.0M1456.71,920.10v-6.0M1460.63,662.70v6.0M1460.63,920.10v-6.0M1464.13,662.70v11.0M1464.13,920.10v-11.0M1487.18,662.70v6.0M1487.18,920.10v-6.0M1500.66,662.70v6.0M1500.66,920.10v-6.0M1510.23,662.70v6.0M1510.23,920.10v-6.0M1517.64,662.70v6.0M1517.64,920.10v-6.0M1523.71,662.70v6.0M1523.71,920.10v-6.0M1528.83,662.70v6.0M1528.83,920.10v-6.0M1533.27,662.70v6.0M1533.27,920.10v-6.0M1537.19,662.70v6.0M1537.19,920.10v-6.0M1540.69,662.70v11.0M1540.69,920.10v-11.0M1563.74,662.70v6.0M1563.74,920.10v-6.0M1577.22,662.70v6.0M1577.22,920.10v-6.0M1586.79,662.70v6.0M1586.79,920.10v-6.0M1594.20,662.70v6.0M1594.20,920.10v-6.0M1600.27,662.70v6.0M1600.27,920.10v-6.0M1605.39,662.70v6.0M1605.39,920.10v-6.0M1609.83,662.70v6.0M1609.83,920.10v-6.0M1613.75,662.70v6.0M1613.75,920.10v-6.0M1617.25,662.70v11.0M1617.25,920.10v-11.0M1640.30,662.70v6.0M1640.30,920.10v-6.0M1653.78,662.70v6.0M1653.78,920.10v-6.0M1663.35,662.70v6.0M1663.35,920.10v-6.0M1670.76,662.70v6.0M1670.76,920.10v-6.0M1676.83,662.70v6.0M1676.83,920.10v-6.0M1681.95,662.70v6.0M1681.95,920.10v-6.0M1686.39,662.70v6.0M1686.39,920.10v-6.0M1690.31,662.70v6.0M1690.31,920.10v-6.0M1693.81,662.70v11.0M1693.81,920.10v-11.0M1716.86,662.70v6.0M1716.86,920.10v-6.0M1730.34,662.70v6.0M1730.34,920.10v-6.0M1739.91,662.70v6.0M1739.91,920.10v-6.0M1747.32,662.70v6.0M1747.32,920.10v-6.0M1753.39,662.70v6.0M1753.39,920.10v-6.0M1758.51,662.70v6.0M1758.51,920.10v-6.0M1762.95,662.70v6.0M1762.95,920.10v-6.0M1766.87,662.70v6.0M1766.87,920.10v-6.0M1770.37,662.70v11.0M1770.37,920.10v-11.0M1793.42,662.70v6.0M1793.42,920.10v-6.0M1424.10,896.70h11.0M1806.90,896.70h-11.0M1424.10,857.70h6.0M1806.90,857.70h-6.0M1424.10,818.70h11.0M1806.90,818.70h-11.0M1424.10,779.70h6.0M1806.90,779.70h-6.0M1424.10,740.70h11.0M1806.90,740.70h-11.0M1424.10,701.70h6.0M1806.90,701.70h-6.0" stroke="#000" stroke-width="1.6" fill="none"/>
<text x="1409.50" y="907.20" font-size="31.0" text-anchor="end" stroke="#000" stroke-width="0.4">0</text>
<text x="1409.50" y="829.20" font-size="31.0" text-anchor="end" stroke="#000" stroke-width="0.4">2</text>
<text x="1409.50" y="751.20" font-size="31.0" text-anchor="end" stroke="#000" stroke-width="0.4">4</text>
<text x="1409.50" y="673.20" font-size="31.0" text-anchor="end" stroke="#000" stroke-width="0.4">6</text>
<path d="M1424.10,890.77L1425.69,890.76L1427.29,890.76L1428.88,890.76L1430.48,890.75L1432.07,890.75L1433.67,890.75L1435.26,890.75L1436.86,890.74L1438.45,890.74L1440.05,890.73L1441.64,890.73L1443.24,890.72L1444.84,890.72L1446.43,890.72L1448.02,890.71L1449.62,890.70L1451.21,890.70L1452.81,890.69L1454.40,890.69L1456.00,890.68L1457.59,890.67L1459.19,890.66L1460.78,890.66L1462.38,890.65L1463.97,890.64L1465.57,890.63L1467.16,890.62L1468.76,890.61L1470.35,890.60L1471.95,890.58L1473.55,890.57L1475.14,890.56L1476.73,890.54L1478.33,890.53L1479.92,890.51L1481.52,890.50L1483.12,890.48L1484.71,890.46L1486.30,890.44L1487.90,890.42L1489.49,890.40L1491.09,890.38L1492.68,890.36L1494.28,890.33L1495.88,890.30L1497.47,890.28L1499.06,890.25L1500.66,890.22L1502.25,890.18L1503.85,890.15L1505.44,890.11L1507.04,890.07L1508.63,890.03L1510.23,889.99L1511.83,889.95L1513.42,889.90L1515.01,889.85L1516.61,889.80L1518.20,889.74L1519.80,889.68L1521.39,889.62L1522.99,889.56L1524.58,889.49L1526.18,889.41L1527.77,889.34L1529.37,889.26L1530.96,889.17L1532.56,889.08L1534.15,888.99L1535.75,888.89L1537.34,888.78L1538.94,888.67L1540.53,888.56L1542.13,888.44L1543.72,888.31L1545.32,888.17L1546.91,888.03L1548.51,887.88L1550.10,887.72L1551.70,887.55L1553.29,887.37L1554.89,887.19L1556.48,886.99L1558.08,886.79L1559.67,886.57L1561.27,886.35L1562.87,886.11L1564.46,885.86L1566.05,885.59L1567.65,885.31L1569.24,885.02L1570.84,884.71L1572.43,884.39L1574.03,884.05L1575.62,883.69L1577.22,883.32L1578.82,882.93L1580.41,882.51L1582.00,882.08L1583.60,881.63L1585.19,881.15L1586.79,880.65L1588.38,880.13L1589.98,879.58L1591.57,879.01L1593.17,878.41L1594.76,877.78L1596.36,877.12L1597.95,876.44L1599.55,875.72L1601.14,874.97L1602.74,874.19L1604.33,873.37L1605.93,872.52L1607.52,871.63L1609.12,870.71L1610.71,869.75L1612.31,868.75L1613.90,867.71L1615.50,866.63L1617.10,865.50L1618.69,864.34L1620.28,863.14L1621.88,861.89L1623.47,860.60L1625.07,859.26L1626.66,857.88L1628.26,856.46L1629.86,854.99L1631.45,853.48L1633.04,851.93L1634.64,850.33L1636.23,848.69L1637.83,847.01L1639.42,845.29L1641.02,843.53L1642.61,841.73L1644.21,839.89L1645.80,838.02L1647.40,836.11L1648.99,834.17L1650.59,832.20L1652.18,830.21L1653.78,828.19L1655.38,826.14L1656.97,824.08L1658.56,822.00L1660.16,819.90L1661.75,817.80L1663.35,815.68L1664.94,813.56L1666.54,811.43L1668.13,809.31L1669.73,807.19L1671.32,805.08L1672.92,802.97L1674.51,800.88L1676.11,798.80L1677.70,796.74L1679.30,794.71L1680.89,792.69L1682.49,790.70L1684.09,788.74L1685.68,786.81L1687.27,784.92L1688.87,783.05L1690.46,781.23L1692.06,779.44L1693.65,777.69L1695.25,775.97L1696.84,774.30L1698.44,772.68L1700.03,771.09L1701.63,769.55L1703.22,768.05L1704.82,766.59L1706.41,765.18L1708.01,763.82L1709.60,762.49L1711.20,761.21L1712.80,759.98L1714.39,758.78L1715.98,757.63L1717.58,756.52L1719.17,755.45L1720.77,754.42L1722.37,753.43L1723.96,752.48L1725.55,751.56L1727.15,750.69L1728.74,749.85L1730.34,749.04L1731.93,748.26L1733.53,747.52L1735.12,746.81L1736.72,746.14L1738.32,745.49L1739.91,744.87L1741.50,744.27L1743.10,743.71L1744.69,743.17L1746.29,742.65L1747.88,742.16L1749.48,741.69L1751.07,741.24L1752.67,740.81L1754.26,740.40L1755.86,740.02L1757.45,739.65L1759.05,739.30L1760.64,738.96L1762.24,738.64L1763.84,738.34L1765.43,738.05L1767.02,737.78L1768.62,737.51L1770.21,737.27L1771.81,737.03L1773.40,736.81L1775.00,736.59L1776.60,736.39L1778.19,736.20L1779.78,736.02L1781.38,735.84L1782.97,735.68L1784.57,735.52L1786.16,735.37L1787.76,735.23L1789.36,735.10L1790.95,734.97L1792.54,734.85L1794.14,734.73L1795.73,734.62L1797.33,734.52L1798.92,734.42L1800.52,734.33L1802.11,734.24L1803.71,734.16L1805.30,734.08L1806.90,734.00" fill="none" stroke="#000" stroke-width="1.9" stroke-dasharray="9.8 7"/>
<path d="M1424.10,891.06L1425.69,891.06L1427.29,891.05L1428.88,891.04L1430.48,891.03L1432.07,891.02L1433.67,891.01L1435.26,891.00L1436.86,890.99L1438.45,890.98L1440.05,890.97L1441.64,890.96L1443.24,890.94L1444.84,890.93L1446.43,890.92L1448.02,890.90L1449.62,890.89L1451.21,890.87L1452.81,890.85L1454.40,890.83L1456.00,890.82L1457.59,890.79L1459.19,890.77L1460.78,890.75L1462.38,890.73L1463.97,890.70L1465.57,890.68L1467.16,890.65L1468.76,890.62L1470.35,890.59L1471.95,890.56L1473.55,890.52L1475.14,890.49L1476.73,890.45L1478.33,890.41L1479.92,890.37L1481.52,890.33L1483.12,890.28L1484.71,890.23L1486.30,890.18L1487.90,890.13L1489.49,890.07L1491.09,890.01L1492.68,889.95L1494.28,889.89L1495.88,889.82L1497.47,889.74L1499.06,889.67L1500.66,889.59L1502.25,889.50L1503.85,889.42L1505.44,889.32L1507.04,889.22L1508.63,889.12L1510.23,889.01L1511.83,888.90L1513.42,888.78L1515.01,888.65L1516.61,888.52L1518.20,888.38L1519.80,888.24L1521.39,888.08L1522.99,887.92L1524.58,887.75L1526.18,887.57L1527.77,887.39L1529.37,887.19L1530.96,886.98L1532.56,886.77L1534.15,886.54L1535.75,886.30L1537.34,886.05L1538.94,885.79L1540.53,885.51L1542.13,885.22L1543.72,884.92L1545.32,884.60L1546.91,884.26L1548.51,883.91L1550.10,883.54L1551.70,883.16L1553.29,882.75L1554.89,882.33L1556.48,881.89L1558.08,881.42L1559.67,880.94L1561.27,880.43L1562.87,879.89L1564.46,879.34L1566.05,878.75L1567.65,878.15L1569.24,877.51L1570.84,876.84L1572.43,876.15L1574.03,875.42L1575.62,874.67L1577.22,873.88L1578.82,873.06L1580.41,872.20L1582.00,871.31L1583.60,870.38L1585.19,869.41L1586.79,868.41L1588.38,867.36L1589.98,866.28L1591.57,865.15L1593.17,863.98L1594.76,862.77L1596.36,861.51L1597.95,860.21L1599.55,858.87L1601.14,857.48L1602.74,856.04L1604.33,854.56L1605.93,853.03L1607.52,851.45L1609.12,849.83L1610.71,848.16L1612.31,846.44L1613.90,844.68L1615.50,842.88L1617.10,841.02L1618.69,839.13L1620.28,837.19L1621.88,835.21L1623.47,833.19L1625.07,831.14L1626.66,829.04L1628.26,826.91L1629.86,824.75L1631.45,822.56L1633.04,820.33L1634.64,818.08L1636.23,815.81L1637.83,813.52L1639.42,811.20L1641.02,808.88L1642.61,806.54L1644.21,804.19L1645.80,801.83L1647.40,799.47L1648.99,797.11L1650.59,794.75L1652.18,792.40L1653.78,790.06L1655.38,787.73L1656.97,785.41L1658.56,783.11L1660.16,780.84L1661.75,778.58L1663.35,776.35L1664.94,774.15L1666.54,771.98L1668.13,769.85L1669.73,767.74L1671.32,765.68L1672.92,763.65L1674.51,761.66L1676.11,759.72L1677.70,757.81L1679.30,755.95L1680.89,754.14L1682.49,752.37L1684.09,750.64L1685.68,748.96L1687.27,747.33L1688.87,745.74L1690.46,744.20L1692.06,742.71L1693.65,741.26L1695.25,739.86L1696.84,738.51L1698.44,737.20L1700.03,735.93L1701.63,734.71L1703.22,733.53L1704.82,732.40L1706.41,731.30L1708.01,730.25L1709.60,729.24L1711.20,728.26L1712.80,727.33L1714.39,726.43L1715.98,725.56L1717.58,724.73L1719.17,723.94L1720.77,723.17L1722.37,722.44L1723.96,721.74L1725.55,721.07L1727.15,720.43L1728.74,719.81L1730.34,719.22L1731.93,718.66L1733.53,718.12L1735.12,717.61L1736.72,717.12L1738.32,716.65L1739.91,716.20L1741.50,715.77L1743.10,715.37L1744.69,714.98L1746.29,714.60L1747.88,714.25L1749.48,713.91L1751.07,713.59L1752.67,713.28L1754.26,712.99L1755.86,712.71L1757.45,712.44L1759.05,712.19L1760.64,711.95L1762.24,711.72L1763.84,711.50L1765.43,711.29L1767.02,711.09L1768.62,710.90L1770.21,710.72L1771.81,710.55L1773.40,710.39L1775.00,710.23L1776.60,710.09L1778.19,709.95L1779.78,709.81L1781.38,709.69L1782.97,709.56L1784.57,709.45L1786.16,709.34L1787.76,709.24L1789.36,709.14L1790.95,709.04L1792.54,708.95L1794.14,708.87L1795.73,708.79L1797.33,708.71L1798.92,708.64L1800.52,708.57L1802.11,708.50L1803.71,708.44L1805.30,708.38L1806.90,708.32" fill="none" stroke="#000" stroke-width="1.9"/>
<path d="M1424.10,879.39L1430.10,885.39L1424.10,891.39L1418.10,885.39Z" fill="#000"/>
<path d="M1560.69,880.95L1566.69,886.95L1560.69,892.95L1554.69,886.95Z" fill="#000"/>
<path d="M1597.22,861.45L1603.22,867.45L1597.22,873.45L1591.22,867.45Z" fill="#000"/>
<path d="M1633.75,797.10L1639.75,803.10L1633.75,809.10L1627.75,803.10Z" fill="#000"/>
<path d="M1670.28,762.00L1676.28,768.00L1670.28,774.00L1664.28,768.00Z" fill="#000"/>
<path d="M1706.81,732.36L1712.81,738.36L1706.81,744.36L1700.81,738.36Z" fill="#000"/>
<path d="M1743.34,700.38L1749.34,706.38L1743.34,712.38L1737.34,706.38Z" fill="#000"/>
<path d="M1779.87,703.89L1785.87,709.89L1779.87,715.89L1773.87,709.89Z" fill="#000"/>
<path d="M1424.10,881.66L1429.00,886.56L1424.10,891.46L1419.20,886.56Z" fill="#fff" stroke="#000" stroke-width="1.9"/>
<path d="M1560.69,882.05L1565.59,886.95L1560.69,891.85L1555.79,886.95Z" fill="#fff" stroke="#000" stroke-width="1.9"/>
<path d="M1597.22,878.54L1602.12,883.44L1597.22,888.34L1592.32,883.44Z" fill="#fff" stroke="#000" stroke-width="1.9"/>
<path d="M1633.75,846.95L1638.65,851.85L1633.75,856.75L1628.85,851.85Z" fill="#fff" stroke="#000" stroke-width="1.9"/>
<path d="M1670.28,802.10L1675.18,807.00L1670.28,811.90L1665.38,807.00Z" fill="#fff" stroke="#000" stroke-width="1.9"/>
<path d="M1706.81,757.64L1711.71,762.54L1706.81,767.44L1701.91,762.54Z" fill="#fff" stroke="#000" stroke-width="1.9"/>
<path d="M1743.34,738.14L1748.24,743.04L1743.34,747.94L1738.44,743.04Z" fill="#fff" stroke="#000" stroke-width="1.9"/>
<path d="M1779.87,728.00L1784.77,732.90L1779.87,737.80L1774.97,732.90Z" fill="#fff" stroke="#000" stroke-width="1.9"/>
<text transform="matrix(0.91,0,0,1,149.467,0)" x="1660.75" y="747.20" font-size="21.5" text-anchor="middle" fill="#000" stroke="#000" stroke-width="0.55">WT</text>
<text transform="matrix(0.97,0,0,1,51.101,0)" x="1703.35" y="840.50" font-size="21.5" text-anchor="middle" fill="#000" stroke="none">G461A</text>
</g>
<g>
<path d="M72.00,1220.20V962.80H454.80V1220.20H98.80M86.90,1220.20H72.00" fill="none" stroke="#000" stroke-width="2.0" stroke-linecap="square"/>
<line x1="81.00" y1="1230.80" x2="94.10" y2="1209.20" stroke="#000" stroke-width="1.7"/>
<line x1="91.80" y1="1230.80" x2="104.90" y2="1209.20" stroke="#000" stroke-width="1.7"/>
<path d="M81.57,962.80v6.0M88.98,962.80v6.0M95.05,962.80v6.0M100.17,962.80v6.0M104.61,962.80v6.0M104.61,1220.20v-6.0M108.53,962.80v6.0M108.53,1220.20v-6.0M112.03,962.80v11.0M112.03,1220.20v-11.0M135.08,962.80v6.0M135.08,1220.20v-6.0M148.56,962.80v6.0M148.56,1220.20v-6.0M158.13,962.80v6.0M158.13,1220.20v-6.0M165.54,962.80v6.0M165.54,1220.20v-6.0M171.61,962.80v6.0M171.61,1220.20v-6.0M176.73,962.80v6.0M176.73,1220.20v-6.0M181.17,962.80v6.0M181.17,1220.20v-6.0M185.09,962.80v6.0M185.09,1220.20v-6.0M188.59,962.80v11.0M188.59,1220.20v-11.0M211.64,962.80v6.0M211.64,1220.20v-6.0M225.12,962.80v6.0M225.12,1220.20v-6.0M234.69,962.80v6.0M234.69,1220.20v-6.0M242.10,962.80v6.0M242.10,1220.20v-6.0M248.17,962.80v6.0M248.17,1220.20v-6.0M253.29,962.80v6.0M253.29,1220.20v-6.0M257.73,962.80v6.0M257.73,1220.20v-6.0M261.65,962.80v6.0M261.65,1220.20v-6.0M265.15,962.80v11.0M265.15,1220.20v-11.0M288.20,962.80v6.0M288.20,1220.20v-6.0M301.68,962.80v6.0M301.68,1220.20v-6.0M311.25,962.80v6.0M311.25,1220.20v-6.0M318.66,962.80v6.0M318.66,1220.20v-6.0M324.73,962.80v6.0M324.73,1220.20v-6.0M329.85,962.80v6.0M329.85,1220.20v-6.0M334.29,962.80v6.0M334.29,1220.20v-6.0M338.21,962.80v6.0M338.21,1220.20v-6.0M341.71,962.80v11.0M341.71,1220.20v-11.0M364.76,962.80v6.0M364.76,1220.20v-6.0M378.24,962.80v6.0M378.24,1220.20v-6.0M387.81,962.80v6.0M387.81,1220.20v-6.0M395.22,962.80v6.0M395.22,1220.20v-6.0M401.29,962.80v6.0M401.29,1220.20v-6.0M406.41,962.80v6.0M406.41,1220.20v-6.0M410.85,962.80v6.0M410.85,1220.20v-6.0M414.77,962.80v6.0M414.77,1220.20v-6.0M418.27,962.80v11.0M418.27,1220.20v-11.0M441.32,962.80v6.0M441.32,1220.20v-6.0M72.00,1196.80h11.0M454.80,1196.80h-11.0M72.00,1167.55h6.0M454.80,1167.55h-6.0M72.00,1138.30h11.0M454.80,1138.30h-11.0M72.00,1109.05h6.0M454.80,1109.05h-6.0M72.00,1079.80h11.0M454.80,1079.80h-11.0M72.00,1050.55h6.0M454.80,1050.55h-6.0M72.00,1021.30h11.0M454.80,1021.30h-11.0M72.00,992.05h6.0M454.80,992.05h-6.0" stroke="#000" stroke-width="1.6" fill="none"/>
<text x="57.40" y="1207.30" font-size="31.0" text-anchor="end" stroke="#000" stroke-width="0.4">0</text>
<text x="57.40" y="1148.80" font-size="31.0" text-anchor="end" stroke="#000" stroke-width="0.4">2</text>
<text x="57.40" y="1090.30" font-size="31.0" text-anchor="end" stroke="#000" stroke-width="0.4">4</text>
<text x="57.40" y="1031.80" font-size="31.0" text-anchor="end" stroke="#000" stroke-width="0.4">6</text>
<text x="57.40" y="973.30" font-size="31.0" text-anchor="end" stroke="#000" stroke-width="0.4">8</text>
<path d="M72.00,1190.95L73.33,1190.95L74.66,1190.95L76.00,1190.95L77.33,1190.95L78.66,1190.95L79.99,1190.95L81.33,1190.95L82.66,1190.95L83.99,1190.95L85.32,1190.95L86.65,1190.95L87.99,1190.95L89.32,1190.95L90.65,1190.95L91.98,1190.95L93.31,1190.95L94.65,1190.95L95.98,1190.95L97.31,1190.95L98.64,1190.95L99.98,1190.95L101.31,1190.95L102.64,1190.95L103.97,1190.95L105.30,1190.95L106.64,1190.95L107.97,1190.95L109.30,1190.95L110.63,1190.95L111.97,1190.95L113.30,1190.95L114.63,1190.95L115.96,1190.95L117.29,1190.95L118.63,1190.95L119.96,1190.95L121.29,1190.95L122.62,1190.95L123.95,1190.95L125.29,1190.95L126.62,1190.95L127.95,1190.95L129.28,1190.95L130.62,1190.95L131.95,1190.95L133.28,1190.95L134.61,1190.95L135.94,1190.95L137.28,1190.95L138.61,1190.95L139.94,1190.95L141.27,1190.95L142.61,1190.95L143.94,1190.95L145.27,1190.95L146.60,1190.95L147.93,1190.95L149.27,1190.95L150.60,1190.95L151.93,1190.95L153.26,1190.95L154.59,1190.95L155.93,1190.95L157.26,1190.95L158.59,1190.95L159.92,1190.95L161.26,1190.95L162.59,1190.95L163.92,1190.95L165.25,1190.95L166.58,1190.95L167.92,1190.95L169.25,1190.95L170.58,1190.95L171.91,1190.95L173.25,1190.95L174.58,1190.95L175.91,1190.94L177.24,1190.94L178.57,1190.94L179.91,1190.94L181.24,1190.94L182.57,1190.94L183.90,1190.94L185.23,1190.94L186.57,1190.94L187.90,1190.94L189.23,1190.94L190.56,1190.94L191.90,1190.94L193.23,1190.94L194.56,1190.94L195.89,1190.94L197.22,1190.93L198.56,1190.93L199.89,1190.93L201.22,1190.93L202.55,1190.93L203.89,1190.93L205.22,1190.93L206.55,1190.92L207.88,1190.92L209.21,1190.92L210.55,1190.92L211.88,1190.92L213.21,1190.91L214.54,1190.91L215.87,1190.91L217.21,1190.91L218.54,1190.90L219.87,1190.90L221.20,1190.89L222.54,1190.89L223.87,1190.89L225.20,1190.88L226.53,1190.88L227.86,1190.87L229.20,1190.87L230.53,1190.86L231.86,1190.85L233.19,1190.85L234.53,1190.84L235.86,1190.83L237.19,1190.82L238.52,1190.81L239.85,1190.80L241.19,1190.79L242.52,1190.78L243.85,1190.77L245.18,1190.75L246.51,1190.74L247.85,1190.72L249.18,1190.71L250.51,1190.69L251.84,1190.67L253.18,1190.65L254.51,1190.63L255.84,1190.61L257.17,1190.58L258.50,1190.55L259.84,1190.52L261.17,1190.49L262.50,1190.46L263.83,1190.42L265.17,1190.39L266.50,1190.35L267.83,1190.30L269.16,1190.25L270.49,1190.20L271.83,1190.15L273.16,1190.09L274.49,1190.03L275.82,1189.96L277.15,1189.89L278.49,1189.81L279.82,1189.73L281.15,1189.64L282.48,1189.55L283.82,1189.45L285.15,1189.34L286.48,1189.22L287.81,1189.10L289.14,1188.97L290.48,1188.82L291.81,1188.67L293.14,1188.51L294.47,1188.33L295.81,1188.14L297.14,1187.94L298.47,1187.73L299.80,1187.50L301.13,1187.25L302.47,1186.99L303.80,1186.71L305.13,1186.40L306.46,1186.08L307.79,1185.74L309.13,1185.37L310.46,1184.98L311.79,1184.56L313.12,1184.11L314.46,1183.64L315.79,1183.13L317.12,1182.59L318.45,1182.01L319.78,1181.40L321.12,1180.75L322.45,1180.05L323.78,1179.31L325.11,1178.53L326.45,1177.70L327.78,1176.81L329.11,1175.88L330.44,1174.89L331.77,1173.84L333.11,1172.73L334.44,1171.56L335.77,1170.32L337.10,1169.02L338.43,1167.65L339.77,1166.20L341.10,1164.69L342.43,1163.10L343.76,1161.43L345.10,1159.69L346.43,1157.87L347.76,1155.98L349.09,1154.00L350.42,1151.95L351.76,1149.82L353.09,1147.61L354.42,1145.33L355.75,1142.98L357.09,1140.56L358.42,1138.07L359.75,1135.52L361.08,1132.91L362.41,1130.25L363.75,1127.54L365.08,1124.78L366.41,1121.99L367.74,1119.17L369.07,1116.32L370.41,1113.45L371.74,1110.58L373.07,1107.70L374.40,1104.82L375.74,1101.96L377.07,1099.11L378.40,1096.28L379.73,1093.49L381.06,1090.74L382.40,1088.02L383.73,1085.36L385.06,1082.75L386.39,1080.20L387.73,1077.71L389.06,1075.29L390.39,1072.94L391.72,1070.66" fill="none" stroke="#4393c6" stroke-width="1.9"/>
<path d="M72.00,1189.49L73.59,1189.49L75.19,1189.49L76.78,1189.49L78.38,1189.49L79.98,1189.49L81.57,1189.49L83.16,1189.49L84.76,1189.49L86.36,1189.49L87.95,1189.49L89.55,1189.49L91.14,1189.49L92.73,1189.49L94.33,1189.49L95.92,1189.49L97.52,1189.49L99.12,1189.49L100.71,1189.49L102.30,1189.49L103.90,1189.49L105.50,1189.49L107.09,1189.49L108.69,1189.49L110.28,1189.49L111.87,1189.49L113.47,1189.49L115.06,1189.49L116.66,1189.49L118.26,1189.49L119.85,1189.49L121.44,1189.49L123.04,1189.49L124.64,1189.49L126.23,1189.49L127.83,1189.49L129.42,1189.49L131.01,1189.49L132.61,1189.49L134.20,1189.49L135.80,1189.49L137.40,1189.49L138.99,1189.49L140.58,1189.49L142.18,1189.49L143.78,1189.49L145.37,1189.49L146.97,1189.49L148.56,1189.49L150.15,1189.49L151.75,1189.49L153.34,1189.49L154.94,1189.49L156.54,1189.49L158.13,1189.49L159.72,1189.49L161.32,1189.49L162.92,1189.49L164.51,1189.49L166.11,1189.49L167.70,1189.49L169.29,1189.49L170.89,1189.49L172.49,1189.49L174.08,1189.49L175.68,1189.49L177.27,1189.49L178.86,1189.49L180.46,1189.49L182.06,1189.49L183.65,1189.49L185.25,1189.49L186.84,1189.49L188.43,1189.49L190.03,1189.49L191.62,1189.49L193.22,1189.49L194.82,1189.49L196.41,1189.49L198.00,1189.49L199.60,1189.49L201.19,1189.49L202.79,1189.49L204.39,1189.49L205.98,1189.49L207.57,1189.49L209.17,1189.49L210.77,1189.49L212.36,1189.49L213.96,1189.49L215.55,1189.49L217.14,1189.49L218.74,1189.49L220.34,1189.49L221.93,1189.49L223.53,1189.49L225.12,1189.49L226.72,1189.49L228.31,1189.49L229.91,1189.49L231.50,1189.49L233.09,1189.49L234.69,1189.48L236.29,1189.48L237.88,1189.48L239.47,1189.48L241.07,1189.48L242.66,1189.48L244.26,1189.48L245.86,1189.47L247.45,1189.47L249.05,1189.47L250.64,1189.46L252.23,1189.45L253.83,1189.45L255.43,1189.44L257.02,1189.42L258.62,1189.41L260.21,1189.39L261.80,1189.36L263.40,1189.33L265.00,1189.29L266.59,1189.24L268.19,1189.18L269.78,1189.10L271.38,1189.01L272.97,1188.89L274.57,1188.74L276.16,1188.56L277.75,1188.33L279.35,1188.05L280.94,1187.69L282.54,1187.25L284.14,1186.71L285.73,1186.03L287.33,1185.19L288.92,1184.16L290.51,1182.88L292.11,1181.30L293.71,1179.38L295.30,1177.03L296.89,1174.17L298.49,1170.73L300.08,1166.61L301.68,1161.73L303.28,1156.00L304.87,1149.37L306.47,1141.81L308.06,1133.32L309.65,1123.98L311.25,1113.91L312.85,1103.30L314.44,1092.37L316.03,1081.38L317.63,1070.61L319.22,1060.29L320.82,1050.64L322.42,1041.79L324.01,1033.85L325.61,1026.85L327.20,1020.76L328.79,1015.54L330.39,1011.13L331.99,1007.42L333.58,1004.34L335.18,1001.80L336.77,999.71L338.36,998.00L339.96,996.61L341.56,995.48L343.15,994.57L344.75,993.83L346.34,993.23L347.94,992.75L349.53,992.37L351.12,992.05L352.72,991.80L354.31,991.60L355.91,991.44L357.50,991.31L359.10,991.21L360.69,991.13L362.29,991.06L363.88,991.01L365.48,990.96L367.07,990.93L368.67,990.90L370.27,990.88L371.86,990.86L373.45,990.85L375.05,990.84L376.64,990.83L378.24,990.82L379.83,990.82L381.43,990.81L383.03,990.81L384.62,990.80L386.22,990.80L387.81,990.80L389.40,990.80L391.00,990.80L392.60,990.80L394.19,990.80L395.79,990.79L397.38,990.79L398.97,990.79L400.57,990.79L402.17,990.79L403.76,990.79L405.36,990.79L406.95,990.79L408.54,990.79L410.14,990.79L411.74,990.79L413.33,990.79L414.93,990.79L416.52,990.79L418.12,990.79L419.71,990.79L421.31,990.79L422.90,990.79L424.50,990.79L426.09,990.79L427.69,990.79L429.28,990.79L430.88,990.79L432.47,990.79L434.07,990.79L435.66,990.79L437.25,990.79L438.85,990.79L440.44,990.79L442.04,990.79L443.64,990.79L445.23,990.79L446.82,990.79L448.42,990.79L450.01,990.79L451.61,990.79L453.21,990.79L454.80,990.79" fill="none" stroke="#000" stroke-width="1.9"/>
<path d="M72.00,1197.42L78.50,1186.82L65.50,1186.82Z" fill="#000" stroke-linejoin="miter"/>
<path d="M172.55,1195.08L179.05,1184.48L166.05,1184.48Z" fill="#000" stroke-linejoin="miter"/>
<path d="M209.08,1197.42L215.58,1186.82L202.58,1186.82Z" fill="#000" stroke-linejoin="miter"/>
<path d="M245.61,1198.59L252.11,1187.99L239.11,1187.99Z" fill="#000" stroke-linejoin="miter"/>
<path d="M282.14,1194.20L288.64,1183.60L275.64,1183.60Z" fill="#000" stroke-linejoin="miter"/>
<path d="M318.66,1073.11L325.16,1062.51L312.16,1062.51Z" fill="#000" stroke-linejoin="miter"/>
<path d="M355.19,995.89L361.69,985.29L348.69,985.29Z" fill="#000" stroke-linejoin="miter"/>
<path d="M391.72,997.93L398.22,987.34L385.22,987.34Z" fill="#000" stroke-linejoin="miter"/>
<path d="M72.00,1192.72L77.40,1183.92L66.60,1183.92Z" fill="#fff" stroke="#4393c6" stroke-width="1.9" stroke-linejoin="miter"/>
<path d="M172.55,1193.89L177.95,1185.09L167.15,1185.09Z" fill="#fff" stroke="#4393c6" stroke-width="1.9" stroke-linejoin="miter"/>
<path d="M209.08,1194.18L214.48,1185.38L203.68,1185.38Z" fill="#fff" stroke="#4393c6" stroke-width="1.9" stroke-linejoin="miter"/>
<path d="M245.61,1194.18L251.01,1185.38L240.21,1185.38Z" fill="#fff" stroke="#4393c6" stroke-width="1.9" stroke-linejoin="miter"/>
<path d="M282.14,1194.18L287.54,1185.38L276.74,1185.38Z" fill="#fff" stroke="#4393c6" stroke-width="1.9" stroke-linejoin="miter"/>
<path d="M318.66,1194.18L324.06,1185.38L313.26,1185.38Z" fill="#fff" stroke="#4393c6" stroke-width="1.9" stroke-linejoin="miter"/>
<path d="M355.19,1136.26L360.59,1127.46L349.79,1127.46Z" fill="#fff" stroke="#4393c6" stroke-width="1.9" stroke-linejoin="miter"/>
<path d="M391.72,1075.13L397.12,1066.33L386.32,1066.33Z" fill="#fff" stroke="#4393c6" stroke-width="1.9" stroke-linejoin="miter"/>
<text transform="matrix(0.91,0,0,1,31.891,0)" x="354.35" y="1027.60" font-size="21.5" text-anchor="middle" fill="#000" stroke="#000" stroke-width="0.55">WT</text>
<text transform="matrix(0.985,0,0,1,6.102,0)" x="406.80" y="1139.30" font-size="21.5" text-anchor="middle" fill="#4393c6" stroke="#4393c6" stroke-width="0.4">S458A</text>
</g>
<g>
<path d="M507.05,1220.20V962.80H889.85V1220.20H533.85M521.95,1220.20H507.05" fill="none" stroke="#000" stroke-width="2.0" stroke-linecap="square"/>
<line x1="516.05" y1="1230.80" x2="529.15" y2="1209.20" stroke="#000" stroke-width="1.7"/>
<line x1="526.85" y1="1230.80" x2="539.95" y2="1209.20" stroke="#000" stroke-width="1.7"/>
<path d="M516.62,962.80v6.0M524.03,962.80v6.0M530.10,962.80v6.0M535.22,962.80v6.0M539.66,962.80v6.0M539.66,1220.20v-6.0M543.58,962.80v6.0M543.58,1220.20v-6.0M547.08,962.80v11.0M547.08,1220.20v-11.0M570.13,962.80v6.0M570.13,1220.20v-6.0M583.61,962.80v6.0M583.61,1220.20v-6.0M593.18,962.80v6.0M593.18,1220.20v-6.0M600.59,962.80v6.0M600.59,1220.20v-6.0M606.66,962.80v6.0M606.66,1220.20v-6.0M611.78,962.80v6.0M611.78,1220.20v-6.0M616.22,962.80v6.0M616.22,1220.20v-6.0M620.14,962.80v6.0M620.14,1220.20v-6.0M623.64,962.80v11.0M623.64,1220.20v-11.0M646.69,962.80v6.0M646.69,1220.20v-6.0M660.17,962.80v6.0M660.17,1220.20v-6.0M669.74,962.80v6.0M669.74,1220.20v-6.0M677.15,962.80v6.0M677.15,1220.20v-6.0M683.22,962.80v6.0M683.22,1220.20v-6.0M688.34,962.80v6.0M688.34,1220.20v-6.0M692.78,962.80v6.0M692.78,1220.20v-6.0M696.70,962.80v6.0M696.70,1220.20v-6.0M700.20,962.80v11.0M700.20,1220.20v-11.0M723.25,962.80v6.0M723.25,1220.20v-6.0M736.73,962.80v6.0M736.73,1220.20v-6.0M746.30,962.80v6.0M746.30,1220.20v-6.0M753.71,962.80v6.0M753.71,1220.20v-6.0M759.78,962.80v6.0M759.78,1220.20v-6.0M764.90,962.80v6.0M764.90,1220.20v-6.0M769.34,962.80v6.0M769.34,1220.20v-6.0M773.26,962.80v6.0M773.26,1220.20v-6.0M776.76,962.80v11.0M776.76,1220.20v-11.0M799.81,962.80v6.0M799.81,1220.20v-6.0M813.29,962.80v6.0M813.29,1220.20v-6.0M822.86,962.80v6.0M822.86,1220.20v-6.0M830.27,962.80v6.0M830.27,1220.20v-6.0M836.34,962.80v6.0M836.34,1220.20v-6.0M841.46,962.80v6.0M841.46,1220.20v-6.0M845.90,962.80v6.0M845.90,1220.20v-6.0M849.82,962.80v6.0M849.82,1220.20v-6.0M853.32,962.80v11.0M853.32,1220.20v-11.0M876.37,962.80v6.0M876.37,1220.20v-6.0M507.05,1196.80h11.0M889.85,1196.80h-11.0M507.05,1167.55h6.0M889.85,1167.55h-6.0M507.05,1138.30h11.0M889.85,1138.30h-11.0M507.05,1109.05h6.0M889.85,1109.05h-6.0M507.05,1079.80h11.0M889.85,1079.80h-11.0M507.05,1050.55h6.0M889.85,1050.55h-6.0M507.05,1021.30h11.0M889.85,1021.30h-11.0M507.05,992.05h6.0M889.85,992.05h-6.0" stroke="#000" stroke-width="1.6" fill="none"/>
<text x="492.45" y="1207.30" font-size="31.0" text-anchor="end" stroke="#000" stroke-width="0.4">0</text>
<text x="492.45" y="1148.80" font-size="31.0" text-anchor="end" stroke="#000" stroke-width="0.4">2</text>
<text x="492.45" y="1090.30" font-size="31.0" text-anchor="end" stroke="#000" stroke-width="0.4">4</text>
<text x="492.45" y="1031.80" font-size="31.0" text-anchor="end" stroke="#000" stroke-width="0.4">6</text>
<text x="492.45" y="973.30" font-size="31.0" text-anchor="end" stroke="#000" stroke-width="0.4">8</text>
<path d="M507.05,1190.80L508.64,1190.80L510.24,1190.80L511.84,1190.80L513.43,1190.80L515.03,1190.80L516.62,1190.80L518.22,1190.80L519.81,1190.80L521.40,1190.80L523.00,1190.80L524.60,1190.80L526.19,1190.80L527.78,1190.80L529.38,1190.80L530.98,1190.80L532.57,1190.80L534.17,1190.80L535.76,1190.80L537.36,1190.80L538.95,1190.80L540.55,1190.80L542.14,1190.80L543.74,1190.80L545.33,1190.80L546.92,1190.80L548.52,1190.80L550.12,1190.80L551.71,1190.80L553.31,1190.80L554.90,1190.80L556.50,1190.80L558.09,1190.80L559.69,1190.80L561.28,1190.80L562.88,1190.80L564.47,1190.80L566.06,1190.80L567.66,1190.80L569.25,1190.80L570.85,1190.80L572.45,1190.80L574.04,1190.80L575.63,1190.80L577.23,1190.80L578.83,1190.80L580.42,1190.80L582.02,1190.80L583.61,1190.80L585.20,1190.80L586.80,1190.80L588.39,1190.80L589.99,1190.80L591.59,1190.80L593.18,1190.80L594.77,1190.80L596.37,1190.80L597.97,1190.80L599.56,1190.80L601.16,1190.80L602.75,1190.80L604.35,1190.80L605.94,1190.80L607.53,1190.80L609.13,1190.80L610.73,1190.80L612.32,1190.80L613.91,1190.80L615.51,1190.80L617.11,1190.80L618.70,1190.80L620.30,1190.80L621.89,1190.80L623.49,1190.80L625.08,1190.80L626.67,1190.80L628.27,1190.80L629.87,1190.80L631.46,1190.80L633.05,1190.80L634.65,1190.80L636.25,1190.80L637.84,1190.80L639.44,1190.80L641.03,1190.80L642.62,1190.80L644.22,1190.80L645.82,1190.80L647.41,1190.80L649.01,1190.80L650.60,1190.80L652.19,1190.80L653.79,1190.80L655.38,1190.80L656.98,1190.80L658.58,1190.80L660.17,1190.80L661.77,1190.80L663.36,1190.80L664.96,1190.80L666.55,1190.80L668.14,1190.80L669.74,1190.80L671.34,1190.80L672.93,1190.80L674.52,1190.80L676.12,1190.80L677.71,1190.80L679.31,1190.80L680.91,1190.80L682.50,1190.80L684.10,1190.80L685.69,1190.80L687.28,1190.80L688.88,1190.80L690.48,1190.80L692.07,1190.80L693.66,1190.79L695.26,1190.79L696.86,1190.79L698.45,1190.79L700.05,1190.79L701.64,1190.78L703.24,1190.78L704.83,1190.77L706.42,1190.77L708.02,1190.76L709.62,1190.75L711.21,1190.74L712.81,1190.73L714.40,1190.72L716.00,1190.70L717.59,1190.68L719.19,1190.66L720.78,1190.63L722.38,1190.59L723.97,1190.55L725.56,1190.51L727.16,1190.45L728.76,1190.38L730.35,1190.30L731.95,1190.21L733.54,1190.09L735.13,1189.96L736.73,1189.79L738.33,1189.60L739.92,1189.37L741.51,1189.10L743.11,1188.78L744.70,1188.40L746.30,1187.95L747.90,1187.42L749.49,1186.79L751.09,1186.05L752.68,1185.19L754.27,1184.17L755.87,1182.98L757.47,1181.59L759.06,1179.99L760.65,1178.13L762.25,1176.00L763.85,1173.58L765.44,1170.83L767.04,1167.75L768.63,1164.32L770.23,1160.54L771.82,1156.43L773.41,1152.01L775.01,1147.32L776.61,1142.41L778.20,1137.35L779.80,1132.21L781.39,1127.06L782.99,1122.00L784.58,1117.08L786.17,1112.38L787.77,1107.95L789.37,1103.83L790.96,1100.04L792.56,1096.60L794.15,1093.50L795.75,1090.74L797.34,1088.31L798.93,1086.17L800.53,1084.30L802.12,1082.69L803.72,1081.30L805.32,1080.10L806.91,1079.08L808.50,1078.20L810.10,1077.46L811.69,1076.83L813.29,1076.29L814.88,1075.84L816.48,1075.46L818.08,1075.13L819.67,1074.86L821.27,1074.63L822.86,1074.44L824.45,1074.28L826.05,1074.14L827.64,1074.03L829.24,1073.93L830.84,1073.85L832.43,1073.78L834.02,1073.72L835.62,1073.67L837.22,1073.63L838.81,1073.60L840.40,1073.57L842.00,1073.55L843.60,1073.53L845.19,1073.51L846.79,1073.50L848.38,1073.49L849.98,1073.48L851.57,1073.47L853.16,1073.46L854.76,1073.45L856.36,1073.45L857.95,1073.44L859.55,1073.44L861.14,1073.44L862.74,1073.44L864.33,1073.43L865.92,1073.43L867.52,1073.43L869.12,1073.43L870.71,1073.43L872.31,1073.43L873.90,1073.43L875.50,1073.43L877.09,1073.43L878.69,1073.43L880.28,1073.43L881.88,1073.43L883.47,1073.42L885.07,1073.42L886.66,1073.42L888.26,1073.42L889.85,1073.42" fill="none" stroke="#000" stroke-width="1.9" stroke-dasharray="9.8 7"/>
<path d="M507.05,1189.55L508.64,1189.55L510.24,1189.55L511.84,1189.55L513.43,1189.55L515.03,1189.55L516.62,1189.55L518.22,1189.55L519.81,1189.55L521.40,1189.55L523.00,1189.55L524.60,1189.55L526.19,1189.55L527.78,1189.55L529.38,1189.55L530.98,1189.55L532.57,1189.55L534.17,1189.55L535.76,1189.55L537.36,1189.55L538.95,1189.55L540.55,1189.55L542.14,1189.55L543.74,1189.55L545.33,1189.55L546.92,1189.55L548.52,1189.55L550.12,1189.55L551.71,1189.55L553.31,1189.55L554.90,1189.55L556.50,1189.55L558.09,1189.55L559.69,1189.55L561.28,1189.55L562.88,1189.55L564.47,1189.55L566.06,1189.55L567.66,1189.55L569.25,1189.55L570.85,1189.55L572.45,1189.55L574.04,1189.55L575.63,1189.55L577.23,1189.55L578.83,1189.55L580.42,1189.55L582.02,1189.55L583.61,1189.55L585.20,1189.55L586.80,1189.55L588.39,1189.55L589.99,1189.55L591.59,1189.55L593.18,1189.55L594.77,1189.55L596.37,1189.55L597.97,1189.55L599.56,1189.55L601.16,1189.55L602.75,1189.55L604.35,1189.55L605.94,1189.55L607.53,1189.55L609.13,1189.55L610.73,1189.55L612.32,1189.55L613.91,1189.55L615.51,1189.55L617.11,1189.55L618.70,1189.55L620.30,1189.54L621.89,1189.54L623.49,1189.54L625.08,1189.54L626.67,1189.54L628.27,1189.54L629.87,1189.54L631.46,1189.54L633.05,1189.54L634.65,1189.54L636.25,1189.54L637.84,1189.54L639.44,1189.54L641.03,1189.54L642.62,1189.54L644.22,1189.54L645.82,1189.53L647.41,1189.53L649.01,1189.53L650.60,1189.53L652.19,1189.53L653.79,1189.52L655.38,1189.52L656.98,1189.51L658.58,1189.51L660.17,1189.50L661.77,1189.50L663.36,1189.49L664.96,1189.48L666.55,1189.47L668.14,1189.46L669.74,1189.44L671.34,1189.43L672.93,1189.41L674.52,1189.39L676.12,1189.36L677.71,1189.33L679.31,1189.30L680.91,1189.26L682.50,1189.22L684.10,1189.16L685.69,1189.11L687.28,1189.04L688.88,1188.96L690.48,1188.86L692.07,1188.76L693.66,1188.63L695.26,1188.49L696.86,1188.33L698.45,1188.14L700.05,1187.92L701.64,1187.67L703.24,1187.38L704.83,1187.04L706.42,1186.66L708.02,1186.21L709.62,1185.70L711.21,1185.12L712.81,1184.44L714.40,1183.67L716.00,1182.79L717.59,1181.78L719.19,1180.63L720.78,1179.32L722.38,1177.84L723.97,1176.15L725.56,1174.26L727.16,1172.12L728.76,1169.73L730.35,1167.06L731.95,1164.10L733.54,1160.83L735.13,1157.25L736.73,1153.34L738.33,1149.12L739.92,1144.58L741.51,1139.75L743.11,1134.65L744.70,1129.33L746.30,1123.82L747.90,1118.17L749.49,1112.45L751.09,1106.70L752.68,1101.00L754.27,1095.40L755.87,1089.96L757.47,1084.72L759.06,1079.73L760.65,1075.02L762.25,1070.60L763.85,1066.51L765.44,1062.73L767.04,1059.27L768.63,1056.13L770.23,1053.29L771.82,1050.74L773.41,1048.45L775.01,1046.41L776.61,1044.61L778.20,1043.01L779.80,1041.59L781.39,1040.35L782.99,1039.26L784.58,1038.30L786.17,1037.47L787.77,1036.74L789.37,1036.10L790.96,1035.55L792.56,1035.06L794.15,1034.64L795.75,1034.28L797.34,1033.96L798.93,1033.69L800.53,1033.45L802.12,1033.24L803.72,1033.07L805.32,1032.91L806.91,1032.78L808.50,1032.66L810.10,1032.56L811.69,1032.47L813.29,1032.40L814.88,1032.33L816.48,1032.28L818.08,1032.23L819.67,1032.19L821.27,1032.15L822.86,1032.12L824.45,1032.09L826.05,1032.07L827.64,1032.05L829.24,1032.03L830.84,1032.01L832.43,1032.00L834.02,1031.99L835.62,1031.98L837.22,1031.97L838.81,1031.96L840.40,1031.96L842.00,1031.95L843.60,1031.95L845.19,1031.94L846.79,1031.94L848.38,1031.94L849.98,1031.93L851.57,1031.93L853.16,1031.93L854.76,1031.93L856.36,1031.93L857.95,1031.93L859.55,1031.92L861.14,1031.92L862.74,1031.92L864.33,1031.92L865.92,1031.92L867.52,1031.92L869.12,1031.92L870.71,1031.92L872.31,1031.92L873.90,1031.92L875.50,1031.92L877.09,1031.92L878.69,1031.92L880.28,1031.92L881.88,1031.92L883.47,1031.92L885.07,1031.92L886.66,1031.92L888.26,1031.92L889.85,1031.92" fill="none" stroke="#000" stroke-width="1.9"/>
<path d="M507.05,1183.49L513.05,1189.49L507.05,1195.49L501.05,1189.49Z" fill="#000"/>
<path d="M607.60,1184.37L613.60,1190.37L607.60,1196.37L601.60,1190.37Z" fill="#000"/>
<path d="M644.13,1184.37L650.13,1190.37L644.13,1196.37L638.13,1190.37Z" fill="#000"/>
<path d="M680.66,1182.61L686.66,1188.61L680.66,1194.61L674.66,1188.61Z" fill="#000"/>
<path d="M717.19,1177.34L723.19,1183.34L717.19,1189.34L711.19,1183.34Z" fill="#000"/>
<path d="M753.71,1096.61L759.71,1102.61L753.71,1108.61L747.71,1102.61Z" fill="#000"/>
<path d="M790.24,1027.00L796.24,1033.00L790.24,1039.00L784.24,1033.00Z" fill="#000"/>
<path d="M826.77,1028.17L832.77,1034.17L826.77,1040.17L820.77,1034.17Z" fill="#000"/>
<path d="M507.05,1186.34L511.95,1191.24L507.05,1196.14L502.15,1191.24Z" fill="#fff" stroke="#000" stroke-width="1.9"/>
<path d="M607.60,1185.76L612.50,1190.66L607.60,1195.56L602.70,1190.66Z" fill="#fff" stroke="#000" stroke-width="1.9"/>
<path d="M644.13,1185.46L649.03,1190.37L644.13,1195.27L639.23,1190.37Z" fill="#fff" stroke="#000" stroke-width="1.9"/>
<path d="M680.66,1185.76L685.56,1190.66L680.66,1195.56L675.76,1190.66Z" fill="#fff" stroke="#000" stroke-width="1.9"/>
<path d="M717.19,1184.59L722.09,1189.49L717.19,1194.39L712.29,1189.49Z" fill="#fff" stroke="#000" stroke-width="1.9"/>
<path d="M753.71,1179.61L758.61,1184.51L753.71,1189.41L748.81,1184.51Z" fill="#fff" stroke="#000" stroke-width="1.9"/>
<path d="M790.24,1095.96L795.14,1100.86L790.24,1105.76L785.34,1100.86Z" fill="#fff" stroke="#000" stroke-width="1.9"/>
<path d="M826.77,1069.05L831.67,1073.95L826.77,1078.85L821.87,1073.95Z" fill="#fff" stroke="#000" stroke-width="1.9"/>
<text transform="matrix(0.91,0,0,1,67.360,0)" x="748.45" y="1055.20" font-size="21.5" text-anchor="middle" fill="#000" stroke="#000" stroke-width="0.55">WT</text>
<text transform="matrix(0.952,0,0,1,39.434,0)" x="821.55" y="1135.90" font-size="21.5" text-anchor="middle" fill="#000" stroke="none">A457A</text>
</g>
<g>
<path d="M989.50,1220.20V962.80H1372.30V1220.20H1016.30M1004.40,1220.20H989.50" fill="none" stroke="#000" stroke-width="2.0" stroke-linecap="square"/>
<line x1="998.50" y1="1230.80" x2="1011.60" y2="1209.20" stroke="#000" stroke-width="1.7"/>
<line x1="1009.30" y1="1230.80" x2="1022.40" y2="1209.20" stroke="#000" stroke-width="1.7"/>
<path d="M999.07,962.80v6.0M1006.48,962.80v6.0M1012.55,962.80v6.0M1017.67,962.80v6.0M1022.11,962.80v6.0M1022.11,1220.20v-6.0M1026.03,962.80v6.0M1026.03,1220.20v-6.0M1029.53,962.80v11.0M1029.53,1220.20v-11.0M1052.58,962.80v6.0M1052.58,1220.20v-6.0M1066.06,962.80v6.0M1066.06,1220.20v-6.0M1075.63,962.80v6.0M1075.63,1220.20v-6.0M1083.04,962.80v6.0M1083.04,1220.20v-6.0M1089.11,962.80v6.0M1089.11,1220.20v-6.0M1094.23,962.80v6.0M1094.23,1220.20v-6.0M1098.67,962.80v6.0M1098.67,1220.20v-6.0M1102.59,962.80v6.0M1102.59,1220.20v-6.0M1106.09,962.80v11.0M1106.09,1220.20v-11.0M1129.14,962.80v6.0M1129.14,1220.20v-6.0M1142.62,962.80v6.0M1142.62,1220.20v-6.0M1152.19,962.80v6.0M1152.19,1220.20v-6.0M1159.60,962.80v6.0M1159.60,1220.20v-6.0M1165.67,962.80v6.0M1165.67,1220.20v-6.0M1170.79,962.80v6.0M1170.79,1220.20v-6.0M1175.23,962.80v6.0M1175.23,1220.20v-6.0M1179.15,962.80v6.0M1179.15,1220.20v-6.0M1182.65,962.80v11.0M1182.65,1220.20v-11.0M1205.70,962.80v6.0M1205.70,1220.20v-6.0M1219.18,962.80v6.0M1219.18,1220.20v-6.0M1228.75,962.80v6.0M1228.75,1220.20v-6.0M1236.16,962.80v6.0M1236.16,1220.20v-6.0M1242.23,962.80v6.0M1242.23,1220.20v-6.0M1247.35,962.80v6.0M1247.35,1220.20v-6.0M1251.79,962.80v6.0M1251.79,1220.20v-6.0M1255.71,962.80v6.0M1255.71,1220.20v-6.0M1259.21,962.80v11.0M1259.21,1220.20v-11.0M1282.26,962.80v6.0M1282.26,1220.20v-6.0M1295.74,962.80v6.0M1295.74,1220.20v-6.0M1305.31,962.80v6.0M1305.31,1220.20v-6.0M1312.72,962.80v6.0M1312.72,1220.20v-6.0M1318.79,962.80v6.0M1318.79,1220.20v-6.0M1323.91,962.80v6.0M1323.91,1220.20v-6.0M1328.35,962.80v6.0M1328.35,1220.20v-6.0M1332.27,962.80v6.0M1332.27,1220.20v-6.0M1335.77,962.80v11.0M1335.77,1220.20v-11.0M1358.82,962.80v6.0M1358.82,1220.20v-6.0M989.50,1196.80h11.0M1372.30,1196.80h-11.0M989.50,1157.80h6.0M1372.30,1157.80h-6.0M989.50,1118.80h11.0M1372.30,1118.80h-11.0M989.50,1079.80h6.0M1372.30,1079.80h-6.0M989.50,1040.80h11.0M1372.30,1040.80h-11.0M989.50,1001.80h6.0M1372.30,1001.80h-6.0" stroke="#000" stroke-width="1.6" fill="none"/>
<text x="974.90" y="1207.30" font-size="31.0" text-anchor="end" stroke="#000" stroke-width="0.4">0</text>
<text x="974.90" y="1129.30" font-size="31.0" text-anchor="end" stroke="#000" stroke-width="0.4">2</text>
<text x="974.90" y="1051.30" font-size="31.0" text-anchor="end" stroke="#000" stroke-width="0.4">4</text>
<text x="974.90" y="973.30" font-size="31.0" text-anchor="end" stroke="#000" stroke-width="0.4">6</text>
<path d="M989.50,1189.89L991.10,1189.89L992.69,1189.89L994.28,1189.88L995.88,1189.88L997.47,1189.88L999.07,1189.88L1000.67,1189.88L1002.26,1189.88L1003.86,1189.88L1005.45,1189.88L1007.04,1189.88L1008.64,1189.88L1010.24,1189.87L1011.83,1189.87L1013.42,1189.87L1015.02,1189.87L1016.62,1189.87L1018.21,1189.87L1019.81,1189.86L1021.40,1189.86L1023.00,1189.86L1024.59,1189.86L1026.18,1189.85L1027.78,1189.85L1029.38,1189.85L1030.97,1189.84L1032.57,1189.84L1034.16,1189.84L1035.75,1189.83L1037.35,1189.83L1038.95,1189.83L1040.54,1189.82L1042.13,1189.82L1043.73,1189.81L1045.33,1189.81L1046.92,1189.80L1048.52,1189.79L1050.11,1189.79L1051.70,1189.78L1053.30,1189.77L1054.89,1189.76L1056.49,1189.76L1058.09,1189.75L1059.68,1189.74L1061.28,1189.73L1062.87,1189.72L1064.46,1189.70L1066.06,1189.69L1067.65,1189.68L1069.25,1189.66L1070.85,1189.65L1072.44,1189.63L1074.03,1189.62L1075.63,1189.60L1077.23,1189.58L1078.82,1189.56L1080.41,1189.54L1082.01,1189.51L1083.61,1189.49L1085.20,1189.46L1086.80,1189.44L1088.39,1189.41L1089.98,1189.37L1091.58,1189.34L1093.17,1189.31L1094.77,1189.27L1096.37,1189.23L1097.96,1189.18L1099.56,1189.14L1101.15,1189.09L1102.74,1189.04L1104.34,1188.98L1105.93,1188.93L1107.53,1188.86L1109.12,1188.80L1110.72,1188.73L1112.32,1188.65L1113.91,1188.58L1115.50,1188.49L1117.10,1188.40L1118.69,1188.31L1120.29,1188.21L1121.88,1188.10L1123.48,1187.99L1125.08,1187.87L1126.67,1187.74L1128.27,1187.60L1129.86,1187.46L1131.45,1187.30L1133.05,1187.14L1134.64,1186.97L1136.24,1186.79L1137.84,1186.59L1139.43,1186.39L1141.03,1186.17L1142.62,1185.94L1144.22,1185.70L1145.81,1185.44L1147.40,1185.16L1149.00,1184.87L1150.60,1184.57L1152.19,1184.24L1153.79,1183.90L1155.38,1183.54L1156.97,1183.16L1158.57,1182.75L1160.16,1182.33L1161.76,1181.88L1163.36,1181.41L1164.95,1180.91L1166.55,1180.38L1168.14,1179.83L1169.73,1179.25L1171.33,1178.64L1172.92,1178.00L1174.52,1177.33L1176.12,1176.62L1177.71,1175.89L1179.30,1175.11L1180.90,1174.31L1182.50,1173.46L1184.09,1172.58L1185.68,1171.67L1187.28,1170.71L1188.88,1169.72L1190.47,1168.69L1192.07,1167.62L1193.66,1166.52L1195.26,1165.37L1196.85,1164.19L1198.44,1162.97L1200.04,1161.71L1201.63,1160.42L1203.23,1159.09L1204.83,1157.73L1206.42,1156.33L1208.01,1154.91L1209.61,1153.46L1211.20,1151.98L1212.80,1150.47L1214.39,1148.95L1215.99,1147.40L1217.59,1145.84L1219.18,1144.27L1220.78,1142.68L1222.37,1141.09L1223.96,1139.49L1225.56,1137.88L1227.15,1136.28L1228.75,1134.69L1230.35,1133.10L1231.94,1131.52L1233.54,1129.96L1235.13,1128.41L1236.72,1126.88L1238.32,1125.37L1239.91,1123.89L1241.51,1122.43L1243.11,1121.00L1244.70,1119.60L1246.30,1118.23L1247.89,1116.90L1249.49,1115.60L1251.08,1114.33L1252.67,1113.11L1254.27,1111.92L1255.87,1110.76L1257.46,1109.65L1259.06,1108.57L1260.65,1107.54L1262.24,1106.54L1263.84,1105.58L1265.43,1104.65L1267.03,1103.77L1268.62,1102.92L1270.22,1102.10L1271.82,1101.33L1273.41,1100.58L1275.00,1099.87L1276.60,1099.19L1278.20,1098.55L1279.79,1097.93L1281.38,1097.34L1282.98,1096.79L1284.58,1096.26L1286.17,1095.75L1287.77,1095.28L1289.36,1094.82L1290.95,1094.39L1292.55,1093.98L1294.14,1093.60L1295.74,1093.23L1297.34,1092.89L1298.93,1092.56L1300.53,1092.25L1302.12,1091.96L1303.72,1091.68L1305.31,1091.42L1306.90,1091.17L1308.50,1090.94L1310.10,1090.72L1311.69,1090.51L1313.29,1090.32L1314.88,1090.13L1316.47,1089.96L1318.07,1089.79L1319.66,1089.64L1321.26,1089.49L1322.86,1089.36L1324.45,1089.23L1326.05,1089.10L1327.64,1088.99L1329.24,1088.88L1330.83,1088.78L1332.42,1088.68L1334.02,1088.59L1335.62,1088.51L1337.21,1088.43L1338.81,1088.35L1340.40,1088.28L1342.00,1088.22L1343.59,1088.15L1345.18,1088.09L1346.78,1088.04L1348.38,1087.99L1349.97,1087.94L1351.57,1087.89L1353.16,1087.85L1354.76,1087.81L1356.35,1087.77L1357.94,1087.73L1359.54,1087.70L1361.13,1087.67L1362.73,1087.64L1364.33,1087.61L1365.92,1087.58L1367.51,1087.56L1369.11,1087.54L1370.70,1087.51L1372.30,1087.49" fill="none" stroke="#4393c6" stroke-width="1.9"/>
<path d="M989.50,1194.47L991.10,1194.46L992.69,1194.45L994.28,1194.44L995.88,1194.43L997.47,1194.41L999.07,1194.40L1000.67,1194.39L1002.26,1194.37L1003.86,1194.36L1005.45,1194.34L1007.04,1194.32L1008.64,1194.31L1010.24,1194.29L1011.83,1194.27L1013.42,1194.25L1015.02,1194.23L1016.62,1194.21L1018.21,1194.18L1019.81,1194.16L1021.40,1194.14L1023.00,1194.11L1024.59,1194.08L1026.18,1194.05L1027.78,1194.02L1029.38,1193.99L1030.97,1193.96L1032.57,1193.92L1034.16,1193.89L1035.75,1193.85L1037.35,1193.81L1038.95,1193.77L1040.54,1193.73L1042.13,1193.68L1043.73,1193.63L1045.33,1193.58L1046.92,1193.53L1048.52,1193.48L1050.11,1193.42L1051.70,1193.36L1053.30,1193.30L1054.89,1193.23L1056.49,1193.16L1058.09,1193.09L1059.68,1193.02L1061.28,1192.94L1062.87,1192.86L1064.46,1192.77L1066.06,1192.68L1067.65,1192.59L1069.25,1192.49L1070.85,1192.39L1072.44,1192.28L1074.03,1192.17L1075.63,1192.05L1077.23,1191.93L1078.82,1191.80L1080.41,1191.66L1082.01,1191.52L1083.61,1191.38L1085.20,1191.22L1086.80,1191.06L1088.39,1190.90L1089.98,1190.72L1091.58,1190.54L1093.17,1190.35L1094.77,1190.15L1096.37,1189.94L1097.96,1189.72L1099.56,1189.49L1101.15,1189.25L1102.74,1189.00L1104.34,1188.74L1105.93,1188.47L1107.53,1188.19L1109.12,1187.90L1110.72,1187.59L1112.32,1187.27L1113.91,1186.93L1115.50,1186.58L1117.10,1186.22L1118.69,1185.83L1120.29,1185.44L1121.88,1185.02L1123.48,1184.59L1125.08,1184.14L1126.67,1183.68L1128.27,1183.19L1129.86,1182.68L1131.45,1182.15L1133.05,1181.60L1134.64,1181.03L1136.24,1180.44L1137.84,1179.82L1139.43,1179.18L1141.03,1178.51L1142.62,1177.81L1144.22,1177.09L1145.81,1176.35L1147.40,1175.57L1149.00,1174.77L1150.60,1173.93L1152.19,1173.07L1153.79,1172.17L1155.38,1171.24L1156.97,1170.28L1158.57,1169.29L1160.16,1168.26L1161.76,1167.20L1163.36,1166.10L1164.95,1164.97L1166.55,1163.80L1168.14,1162.59L1169.73,1161.35L1171.33,1160.07L1172.92,1158.75L1174.52,1157.40L1176.12,1156.01L1177.71,1154.57L1179.30,1153.11L1180.90,1151.60L1182.50,1150.05L1184.09,1148.47L1185.68,1146.85L1187.28,1145.20L1188.88,1143.50L1190.47,1141.77L1192.07,1140.01L1193.66,1138.22L1195.26,1136.39L1196.85,1134.52L1198.44,1132.63L1200.04,1130.71L1201.63,1128.76L1203.23,1126.79L1204.83,1124.78L1206.42,1122.76L1208.01,1120.72L1209.61,1118.65L1211.20,1116.57L1212.80,1114.47L1214.39,1112.36L1215.99,1110.24L1217.59,1108.10L1219.18,1105.96L1220.78,1103.82L1222.37,1101.67L1223.96,1099.53L1225.56,1097.38L1227.15,1095.24L1228.75,1093.11L1230.35,1090.98L1231.94,1088.87L1233.54,1086.77L1235.13,1084.68L1236.72,1082.61L1238.32,1080.56L1239.91,1078.53L1241.51,1076.53L1243.11,1074.55L1244.70,1072.59L1246.30,1070.66L1247.89,1068.76L1249.49,1066.90L1251.08,1065.06L1252.67,1063.26L1254.27,1061.49L1255.87,1059.75L1257.46,1058.05L1259.06,1056.39L1260.65,1054.76L1262.24,1053.17L1263.84,1051.62L1265.43,1050.10L1267.03,1048.62L1268.62,1047.19L1270.22,1045.78L1271.82,1044.42L1273.41,1043.10L1275.00,1041.81L1276.60,1040.56L1278.20,1039.34L1279.79,1038.17L1281.38,1037.03L1282.98,1035.92L1284.58,1034.85L1286.17,1033.82L1287.77,1032.82L1289.36,1031.85L1290.95,1030.91L1292.55,1030.01L1294.14,1029.14L1295.74,1028.30L1297.34,1027.49L1298.93,1026.71L1300.53,1025.95L1302.12,1025.23L1303.72,1024.53L1305.31,1023.85L1306.90,1023.21L1308.50,1022.58L1310.10,1021.98L1311.69,1021.41L1313.29,1020.85L1314.88,1020.32L1316.47,1019.81L1318.07,1019.32L1319.66,1018.84L1321.26,1018.39L1322.86,1017.96L1324.45,1017.54L1326.05,1017.14L1327.64,1016.75L1329.24,1016.39L1330.83,1016.03L1332.42,1015.69L1334.02,1015.37L1335.62,1015.06L1337.21,1014.76L1338.81,1014.48L1340.40,1014.20L1342.00,1013.94L1343.59,1013.69L1345.18,1013.45L1346.78,1013.22L1348.38,1013.00L1349.97,1012.79L1351.57,1012.59L1353.16,1012.39L1354.76,1012.21L1356.35,1012.03L1357.94,1011.86L1359.54,1011.70L1361.13,1011.55L1362.73,1011.40L1364.33,1011.26L1365.92,1011.12L1367.51,1010.99L1369.11,1010.87L1370.70,1010.75L1372.30,1010.63" fill="none" stroke="#000" stroke-width="1.9"/>
<path d="M989.50,1195.08L996.00,1184.48L983.00,1184.48Z" fill="#000" stroke-linejoin="miter"/>
<path d="M1126.09,1194.30L1132.59,1183.70L1119.59,1183.70Z" fill="#000" stroke-linejoin="miter"/>
<path d="M1162.62,1176.75L1169.12,1166.15L1156.12,1166.15Z" fill="#000" stroke-linejoin="miter"/>
<path d="M1199.15,1127.22L1205.65,1116.62L1192.65,1116.62Z" fill="#000" stroke-linejoin="miter"/>
<path d="M1235.68,1082.37L1242.18,1071.77L1229.18,1071.77Z" fill="#000" stroke-linejoin="miter"/>
<path d="M1272.21,1053.51L1278.71,1042.91L1265.71,1042.91Z" fill="#000" stroke-linejoin="miter"/>
<path d="M1308.74,1028.16L1315.24,1017.56L1302.24,1017.56Z" fill="#000" stroke-linejoin="miter"/>
<path d="M1345.27,1010.61L1351.77,1000.01L1338.77,1000.01Z" fill="#000" stroke-linejoin="miter"/>
<path d="M989.50,1190.67L994.90,1181.87L984.10,1181.87Z" fill="#fff" stroke="#4393c6" stroke-width="1.9" stroke-linejoin="miter"/>
<path d="M1126.09,1190.67L1131.49,1181.87L1120.69,1181.87Z" fill="#fff" stroke="#4393c6" stroke-width="1.9" stroke-linejoin="miter"/>
<path d="M1162.62,1188.72L1168.02,1179.92L1157.22,1179.92Z" fill="#fff" stroke="#4393c6" stroke-width="1.9" stroke-linejoin="miter"/>
<path d="M1199.15,1167.27L1204.55,1158.47L1193.75,1158.47Z" fill="#fff" stroke="#4393c6" stroke-width="1.9" stroke-linejoin="miter"/>
<path d="M1235.68,1132.17L1241.08,1123.37L1230.28,1123.37Z" fill="#fff" stroke="#4393c6" stroke-width="1.9" stroke-linejoin="miter"/>
<path d="M1272.21,1117.35L1277.61,1108.55L1266.81,1108.55Z" fill="#fff" stroke="#4393c6" stroke-width="1.9" stroke-linejoin="miter"/>
<path d="M1308.74,1095.90L1314.14,1087.10L1303.34,1087.10Z" fill="#fff" stroke="#4393c6" stroke-width="1.9" stroke-linejoin="miter"/>
<path d="M1345.27,1091.22L1350.67,1082.42L1339.87,1082.42Z" fill="#fff" stroke="#4393c6" stroke-width="1.9" stroke-linejoin="miter"/>
<text transform="matrix(0.91,0,0,1,112.027,0)" x="1244.75" y="1046.00" font-size="21.5" text-anchor="middle" fill="#000" stroke="#000" stroke-width="0.55">WT</text>
<text transform="matrix(0.967,0,0,1,43.661,0)" x="1323.05" y="1130.10" font-size="21.5" text-anchor="middle" fill="#4393c6" stroke="#4393c6" stroke-width="0.4">S458A</text>
</g>
<g>
<path d="M1424.10,1220.20V962.80H1806.90V1220.20H1450.90M1439.00,1220.20H1424.10" fill="none" stroke="#000" stroke-width="2.0" stroke-linecap="square"/>
<line x1="1433.10" y1="1230.80" x2="1446.20" y2="1209.20" stroke="#000" stroke-width="1.7"/>
<line x1="1443.90" y1="1230.80" x2="1457.00" y2="1209.20" stroke="#000" stroke-width="1.7"/>
<path d="M1433.67,962.80v6.0M1441.08,962.80v6.0M1447.15,962.80v6.0M1452.27,962.80v6.0M1456.71,962.80v6.0M1456.71,1220.20v-6.0M1460.63,962.80v6.0M1460.63,1220.20v-6.0M1464.13,962.80v11.0M1464.13,1220.20v-11.0M1487.18,962.80v6.0M1487.18,1220.20v-6.0M1500.66,962.80v6.0M1500.66,1220.20v-6.0M1510.23,962.80v6.0M1510.23,1220.20v-6.0M1517.64,962.80v6.0M1517.64,1220.20v-6.0M1523.71,962.80v6.0M1523.71,1220.20v-6.0M1528.83,962.80v6.0M1528.83,1220.20v-6.0M1533.27,962.80v6.0M1533.27,1220.20v-6.0M1537.19,962.80v6.0M1537.19,1220.20v-6.0M1540.69,962.80v11.0M1540.69,1220.20v-11.0M1563.74,962.80v6.0M1563.74,1220.20v-6.0M1577.22,962.80v6.0M1577.22,1220.20v-6.0M1586.79,962.80v6.0M1586.79,1220.20v-6.0M1594.20,962.80v6.0M1594.20,1220.20v-6.0M1600.27,962.80v6.0M1600.27,1220.20v-6.0M1605.39,962.80v6.0M1605.39,1220.20v-6.0M1609.83,962.80v6.0M1609.83,1220.20v-6.0M1613.75,962.80v6.0M1613.75,1220.20v-6.0M1617.25,962.80v11.0M1617.25,1220.20v-11.0M1640.30,962.80v6.0M1640.30,1220.20v-6.0M1653.78,962.80v6.0M1653.78,1220.20v-6.0M1663.35,962.80v6.0M1663.35,1220.20v-6.0M1670.76,962.80v6.0M1670.76,1220.20v-6.0M1676.83,962.80v6.0M1676.83,1220.20v-6.0M1681.95,962.80v6.0M1681.95,1220.20v-6.0M1686.39,962.80v6.0M1686.39,1220.20v-6.0M1690.31,962.80v6.0M1690.31,1220.20v-6.0M1693.81,962.80v11.0M1693.81,1220.20v-11.0M1716.86,962.80v6.0M1716.86,1220.20v-6.0M1730.34,962.80v6.0M1730.34,1220.20v-6.0M1739.91,962.80v6.0M1739.91,1220.20v-6.0M1747.32,962.80v6.0M1747.32,1220.20v-6.0M1753.39,962.80v6.0M1753.39,1220.20v-6.0M1758.51,962.80v6.0M1758.51,1220.20v-6.0M1762.95,962.80v6.0M1762.95,1220.20v-6.0M1766.87,962.80v6.0M1766.87,1220.20v-6.0M1770.37,962.80v11.0M1770.37,1220.20v-11.0M1793.42,962.80v6.0M1793.42,1220.20v-6.0M1424.10,1196.80h11.0M1806.90,1196.80h-11.0M1424.10,1157.80h6.0M1806.90,1157.80h-6.0M1424.10,1118.80h11.0M1806.90,1118.80h-11.0M1424.10,1079.80h6.0M1806.90,1079.80h-6.0M1424.10,1040.80h11.0M1806.90,1040.80h-11.0M1424.10,1001.80h6.0M1806.90,1001.80h-6.0" stroke="#000" stroke-width="1.6" fill="none"/>
<text x="1409.50" y="1207.30" font-size="31.0" text-anchor="end" stroke="#000" stroke-width="0.4">0</text>
<text x="1409.50" y="1129.30" font-size="31.0" text-anchor="end" stroke="#000" stroke-width="0.4">2</text>
<text x="1409.50" y="1051.30" font-size="31.0" text-anchor="end" stroke="#000" stroke-width="0.4">4</text>
<text x="1409.50" y="973.30" font-size="31.0" text-anchor="end" stroke="#000" stroke-width="0.4">6</text>
<path d="M1424.10,1191.90L1425.69,1191.89L1427.29,1191.88L1428.88,1191.88L1430.48,1191.87L1432.07,1191.86L1433.67,1191.85L1435.26,1191.85L1436.86,1191.84L1438.45,1191.83L1440.05,1191.82L1441.64,1191.81L1443.24,1191.79L1444.84,1191.78L1446.43,1191.77L1448.02,1191.76L1449.62,1191.74L1451.21,1191.73L1452.81,1191.71L1454.40,1191.69L1456.00,1191.67L1457.59,1191.66L1459.19,1191.63L1460.78,1191.61L1462.38,1191.59L1463.97,1191.57L1465.57,1191.54L1467.16,1191.51L1468.76,1191.49L1470.35,1191.46L1471.95,1191.42L1473.55,1191.39L1475.14,1191.36L1476.73,1191.32L1478.33,1191.28L1479.92,1191.24L1481.52,1191.19L1483.12,1191.15L1484.71,1191.10L1486.30,1191.04L1487.90,1190.99L1489.49,1190.93L1491.09,1190.87L1492.68,1190.80L1494.28,1190.73L1495.88,1190.66L1497.47,1190.58L1499.06,1190.50L1500.66,1190.41L1502.25,1190.32L1503.85,1190.22L1505.44,1190.12L1507.04,1190.01L1508.63,1189.90L1510.23,1189.77L1511.83,1189.65L1513.42,1189.51L1515.01,1189.37L1516.61,1189.22L1518.20,1189.06L1519.80,1188.89L1521.39,1188.71L1522.99,1188.52L1524.58,1188.32L1526.18,1188.12L1527.77,1187.89L1529.37,1187.66L1530.96,1187.41L1532.56,1187.15L1534.15,1186.88L1535.75,1186.59L1537.34,1186.29L1538.94,1185.96L1540.53,1185.62L1542.13,1185.27L1543.72,1184.89L1545.32,1184.49L1546.91,1184.08L1548.51,1183.63L1550.10,1183.17L1551.70,1182.68L1553.29,1182.17L1554.89,1181.63L1556.48,1181.06L1558.08,1180.47L1559.67,1179.84L1561.27,1179.18L1562.87,1178.49L1564.46,1177.77L1566.05,1177.01L1567.65,1176.21L1569.24,1175.38L1570.84,1174.51L1572.43,1173.59L1574.03,1172.64L1575.62,1171.64L1577.22,1170.59L1578.82,1169.50L1580.41,1168.37L1582.00,1167.18L1583.60,1165.94L1585.19,1164.66L1586.79,1163.32L1588.38,1161.93L1589.98,1160.49L1591.57,1158.99L1593.17,1157.44L1594.76,1155.83L1596.36,1154.17L1597.95,1152.45L1599.55,1150.68L1601.14,1148.86L1602.74,1146.98L1604.33,1145.04L1605.93,1143.05L1607.52,1141.01L1609.12,1138.92L1610.71,1136.79L1612.31,1134.60L1613.90,1132.37L1615.50,1130.10L1617.10,1127.79L1618.69,1125.44L1620.28,1123.05L1621.88,1120.64L1623.47,1118.19L1625.07,1115.73L1626.66,1113.24L1628.26,1110.73L1629.86,1108.21L1631.45,1105.69L1633.04,1103.15L1634.64,1100.62L1636.23,1098.09L1637.83,1095.56L1639.42,1093.05L1641.02,1090.55L1642.61,1088.07L1644.21,1085.62L1645.80,1083.19L1647.40,1080.78L1648.99,1078.41L1650.59,1076.08L1652.18,1073.79L1653.78,1071.53L1655.38,1069.32L1656.97,1067.16L1658.56,1065.04L1660.16,1062.98L1661.75,1060.96L1663.35,1059.00L1664.94,1057.09L1666.54,1055.23L1668.13,1053.43L1669.73,1051.68L1671.32,1049.99L1672.92,1048.35L1674.51,1046.77L1676.11,1045.24L1677.70,1043.77L1679.30,1042.35L1680.89,1040.99L1682.49,1039.67L1684.09,1038.41L1685.68,1037.20L1687.27,1036.03L1688.87,1034.92L1690.46,1033.85L1692.06,1032.82L1693.65,1031.84L1695.25,1030.91L1696.84,1030.01L1698.44,1029.16L1700.03,1028.34L1701.63,1027.56L1703.22,1026.82L1704.82,1026.11L1706.41,1025.43L1708.01,1024.79L1709.60,1024.18L1711.20,1023.59L1712.80,1023.04L1714.39,1022.51L1715.98,1022.01L1717.58,1021.53L1719.17,1021.08L1720.77,1020.65L1722.37,1020.24L1723.96,1019.86L1725.55,1019.49L1727.15,1019.14L1728.74,1018.81L1730.34,1018.49L1731.93,1018.20L1733.53,1017.91L1735.12,1017.64L1736.72,1017.39L1738.32,1017.15L1739.91,1016.92L1741.50,1016.71L1743.10,1016.50L1744.69,1016.31L1746.29,1016.13L1747.88,1015.95L1749.48,1015.79L1751.07,1015.63L1752.67,1015.48L1754.26,1015.34L1755.86,1015.21L1757.45,1015.09L1759.05,1014.97L1760.64,1014.86L1762.24,1014.75L1763.84,1014.65L1765.43,1014.56L1767.02,1014.47L1768.62,1014.38L1770.21,1014.30L1771.81,1014.23L1773.40,1014.16L1775.00,1014.09L1776.60,1014.02L1778.19,1013.96L1779.78,1013.91L1781.38,1013.85L1782.97,1013.80L1784.57,1013.75L1786.16,1013.71L1787.76,1013.66L1789.36,1013.62L1790.95,1013.58L1792.54,1013.55L1794.14,1013.51L1795.73,1013.48L1797.33,1013.45L1798.92,1013.42L1800.52,1013.39L1802.11,1013.36L1803.71,1013.34L1805.30,1013.32L1806.90,1013.29" fill="none" stroke="#000" stroke-width="1.9" stroke-dasharray="9.8 7"/>
<path d="M1424.10,1191.16L1425.69,1191.16L1427.29,1191.15L1428.88,1191.14L1430.48,1191.13L1432.07,1191.12L1433.67,1191.11L1435.26,1191.10L1436.86,1191.09L1438.45,1191.08L1440.05,1191.07L1441.64,1191.06L1443.24,1191.04L1444.84,1191.03L1446.43,1191.02L1448.02,1191.00L1449.62,1190.99L1451.21,1190.97L1452.81,1190.95L1454.40,1190.93L1456.00,1190.92L1457.59,1190.89L1459.19,1190.87L1460.78,1190.85L1462.38,1190.83L1463.97,1190.80L1465.57,1190.78L1467.16,1190.75L1468.76,1190.72L1470.35,1190.69L1471.95,1190.66L1473.55,1190.62L1475.14,1190.59L1476.73,1190.55L1478.33,1190.51L1479.92,1190.47L1481.52,1190.43L1483.12,1190.38L1484.71,1190.33L1486.30,1190.28L1487.90,1190.23L1489.49,1190.17L1491.09,1190.11L1492.68,1190.05L1494.28,1189.99L1495.88,1189.92L1497.47,1189.84L1499.06,1189.77L1500.66,1189.69L1502.25,1189.60L1503.85,1189.52L1505.44,1189.42L1507.04,1189.32L1508.63,1189.22L1510.23,1189.11L1511.83,1189.00L1513.42,1188.88L1515.01,1188.75L1516.61,1188.62L1518.20,1188.48L1519.80,1188.34L1521.39,1188.18L1522.99,1188.02L1524.58,1187.85L1526.18,1187.67L1527.77,1187.49L1529.37,1187.29L1530.96,1187.08L1532.56,1186.87L1534.15,1186.64L1535.75,1186.40L1537.34,1186.15L1538.94,1185.89L1540.53,1185.61L1542.13,1185.32L1543.72,1185.02L1545.32,1184.70L1546.91,1184.36L1548.51,1184.01L1550.10,1183.64L1551.70,1183.26L1553.29,1182.85L1554.89,1182.43L1556.48,1181.99L1558.08,1181.52L1559.67,1181.04L1561.27,1180.53L1562.87,1179.99L1564.46,1179.44L1566.05,1178.85L1567.65,1178.25L1569.24,1177.61L1570.84,1176.94L1572.43,1176.25L1574.03,1175.52L1575.62,1174.77L1577.22,1173.98L1578.82,1173.16L1580.41,1172.30L1582.00,1171.41L1583.60,1170.48L1585.19,1169.51L1586.79,1168.51L1588.38,1167.46L1589.98,1166.38L1591.57,1165.25L1593.17,1164.08L1594.76,1162.87L1596.36,1161.61L1597.95,1160.31L1599.55,1158.97L1601.14,1157.58L1602.74,1156.14L1604.33,1154.66L1605.93,1153.13L1607.52,1151.55L1609.12,1149.93L1610.71,1148.26L1612.31,1146.54L1613.90,1144.78L1615.50,1142.98L1617.10,1141.12L1618.69,1139.23L1620.28,1137.29L1621.88,1135.31L1623.47,1133.29L1625.07,1131.24L1626.66,1129.14L1628.26,1127.01L1629.86,1124.85L1631.45,1122.66L1633.04,1120.43L1634.64,1118.18L1636.23,1115.91L1637.83,1113.62L1639.42,1111.30L1641.02,1108.98L1642.61,1106.64L1644.21,1104.29L1645.80,1101.93L1647.40,1099.57L1648.99,1097.21L1650.59,1094.85L1652.18,1092.50L1653.78,1090.16L1655.38,1087.83L1656.97,1085.51L1658.56,1083.21L1660.16,1080.94L1661.75,1078.68L1663.35,1076.45L1664.94,1074.25L1666.54,1072.08L1668.13,1069.95L1669.73,1067.84L1671.32,1065.78L1672.92,1063.75L1674.51,1061.76L1676.11,1059.82L1677.70,1057.91L1679.30,1056.05L1680.89,1054.24L1682.49,1052.47L1684.09,1050.74L1685.68,1049.06L1687.27,1047.43L1688.87,1045.84L1690.46,1044.30L1692.06,1042.81L1693.65,1041.36L1695.25,1039.96L1696.84,1038.61L1698.44,1037.30L1700.03,1036.03L1701.63,1034.81L1703.22,1033.63L1704.82,1032.50L1706.41,1031.40L1708.01,1030.35L1709.60,1029.34L1711.20,1028.36L1712.80,1027.43L1714.39,1026.53L1715.98,1025.66L1717.58,1024.83L1719.17,1024.04L1720.77,1023.27L1722.37,1022.54L1723.96,1021.84L1725.55,1021.17L1727.15,1020.53L1728.74,1019.91L1730.34,1019.32L1731.93,1018.76L1733.53,1018.22L1735.12,1017.71L1736.72,1017.22L1738.32,1016.75L1739.91,1016.30L1741.50,1015.87L1743.10,1015.47L1744.69,1015.08L1746.29,1014.70L1747.88,1014.35L1749.48,1014.01L1751.07,1013.69L1752.67,1013.38L1754.26,1013.09L1755.86,1012.81L1757.45,1012.54L1759.05,1012.29L1760.64,1012.05L1762.24,1011.82L1763.84,1011.60L1765.43,1011.39L1767.02,1011.19L1768.62,1011.00L1770.21,1010.82L1771.81,1010.65L1773.40,1010.49L1775.00,1010.33L1776.60,1010.19L1778.19,1010.05L1779.78,1009.91L1781.38,1009.79L1782.97,1009.66L1784.57,1009.55L1786.16,1009.44L1787.76,1009.34L1789.36,1009.24L1790.95,1009.14L1792.54,1009.05L1794.14,1008.97L1795.73,1008.89L1797.33,1008.81L1798.92,1008.74L1800.52,1008.67L1802.11,1008.60L1803.71,1008.54L1805.30,1008.48L1806.90,1008.42" fill="none" stroke="#000" stroke-width="1.9"/>
<path d="M1424.10,1179.49L1430.10,1185.49L1424.10,1191.49L1418.10,1185.49Z" fill="#000"/>
<path d="M1560.69,1181.05L1566.69,1187.05L1560.69,1193.05L1554.69,1187.05Z" fill="#000"/>
<path d="M1597.22,1161.55L1603.22,1167.55L1597.22,1173.55L1591.22,1167.55Z" fill="#000"/>
<path d="M1633.75,1097.20L1639.75,1103.20L1633.75,1109.20L1627.75,1103.20Z" fill="#000"/>
<path d="M1670.28,1062.10L1676.28,1068.10L1670.28,1074.10L1664.28,1068.10Z" fill="#000"/>
<path d="M1706.81,1032.46L1712.81,1038.46L1706.81,1044.46L1700.81,1038.46Z" fill="#000"/>
<path d="M1743.34,1000.48L1749.34,1006.48L1743.34,1012.48L1737.34,1006.48Z" fill="#000"/>
<path d="M1779.87,1003.99L1785.87,1009.99L1779.87,1015.99L1773.87,1009.99Z" fill="#000"/>
<path d="M1424.10,1181.76L1429.00,1186.66L1424.10,1191.56L1419.20,1186.66Z" fill="#fff" stroke="#000" stroke-width="1.9"/>
<path d="M1560.69,1177.86L1565.59,1182.76L1560.69,1187.66L1555.79,1182.76Z" fill="#fff" stroke="#000" stroke-width="1.9"/>
<path d="M1597.22,1148.22L1602.12,1153.12L1597.22,1158.02L1592.32,1153.12Z" fill="#fff" stroke="#000" stroke-width="1.9"/>
<path d="M1633.75,1079.58L1638.65,1084.48L1633.75,1089.38L1628.85,1084.48Z" fill="#fff" stroke="#000" stroke-width="1.9"/>
<path d="M1670.28,1046.43L1675.18,1051.33L1670.28,1056.23L1665.38,1051.33Z" fill="#fff" stroke="#000" stroke-width="1.9"/>
<path d="M1706.81,1021.47L1711.71,1026.37L1706.81,1031.27L1701.91,1026.37Z" fill="#fff" stroke="#000" stroke-width="1.9"/>
<path d="M1743.34,1005.87L1748.24,1010.77L1743.34,1015.67L1738.44,1010.77Z" fill="#fff" stroke="#000" stroke-width="1.9"/>
<path d="M1779.87,1004.70L1784.77,1009.60L1779.87,1014.50L1774.97,1009.60Z" fill="#fff" stroke="#000" stroke-width="1.9"/>
<text transform="matrix(0.95,0,0,1,80.675,0)" x="1613.50" y="1064.40" font-size="21.5" text-anchor="middle" fill="#000" stroke="none">A457A</text>
<text transform="matrix(0.91,0,0,1,151.312,0)" x="1681.25" y="1099.00" font-size="21.5" text-anchor="middle" fill="#000" stroke="#000" stroke-width="0.55">WT</text>
</g>
<g>
<path d="M72.00,1520.40V1263.00H454.80V1520.40H98.80M86.90,1520.40H72.00" fill="none" stroke="#000" stroke-width="2.0" stroke-linecap="square"/>
<line x1="81.00" y1="1531.00" x2="94.10" y2="1509.40" stroke="#000" stroke-width="1.7"/>
<line x1="91.80" y1="1531.00" x2="104.90" y2="1509.40" stroke="#000" stroke-width="1.7"/>
<path d="M81.57,1263.00v6.0M88.98,1263.00v6.0M95.05,1263.00v6.0M100.17,1263.00v6.0M104.61,1263.00v6.0M104.61,1520.40v-6.0M108.53,1263.00v6.0M108.53,1520.40v-6.0M112.03,1263.00v11.0M112.03,1520.40v-11.0M135.08,1263.00v6.0M135.08,1520.40v-6.0M148.56,1263.00v6.0M148.56,1520.40v-6.0M158.13,1263.00v6.0M158.13,1520.40v-6.0M165.54,1263.00v6.0M165.54,1520.40v-6.0M171.61,1263.00v6.0M171.61,1520.40v-6.0M176.73,1263.00v6.0M176.73,1520.40v-6.0M181.17,1263.00v6.0M181.17,1520.40v-6.0M185.09,1263.00v6.0M185.09,1520.40v-6.0M188.59,1263.00v11.0M188.59,1520.40v-11.0M211.64,1263.00v6.0M211.64,1520.40v-6.0M225.12,1263.00v6.0M225.12,1520.40v-6.0M234.69,1263.00v6.0M234.69,1520.40v-6.0M242.10,1263.00v6.0M242.10,1520.40v-6.0M248.17,1263.00v6.0M248.17,1520.40v-6.0M253.29,1263.00v6.0M253.29,1520.40v-6.0M257.73,1263.00v6.0M257.73,1520.40v-6.0M261.65,1263.00v6.0M261.65,1520.40v-6.0M265.15,1263.00v11.0M265.15,1520.40v-11.0M288.20,1263.00v6.0M288.20,1520.40v-6.0M301.68,1263.00v6.0M301.68,1520.40v-6.0M311.25,1263.00v6.0M311.25,1520.40v-6.0M318.66,1263.00v6.0M318.66,1520.40v-6.0M324.73,1263.00v6.0M324.73,1520.40v-6.0M329.85,1263.00v6.0M329.85,1520.40v-6.0M334.29,1263.00v6.0M334.29,1520.40v-6.0M338.21,1263.00v6.0M338.21,1520.40v-6.0M341.71,1263.00v11.0M341.71,1520.40v-11.0M364.76,1263.00v6.0M364.76,1520.40v-6.0M378.24,1263.00v6.0M378.24,1520.40v-6.0M387.81,1263.00v6.0M387.81,1520.40v-6.0M395.22,1263.00v6.0M395.22,1520.40v-6.0M401.29,1263.00v6.0M401.29,1520.40v-6.0M406.41,1263.00v6.0M406.41,1520.40v-6.0M410.85,1263.00v6.0M410.85,1520.40v-6.0M414.77,1263.00v6.0M414.77,1520.40v-6.0M418.27,1263.00v11.0M418.27,1520.40v-11.0M441.32,1263.00v6.0M441.32,1520.40v-6.0M72.00,1497.00h11.0M454.80,1497.00h-11.0M72.00,1458.00h6.0M454.80,1458.00h-6.0M72.00,1419.00h11.0M454.80,1419.00h-11.0M72.00,1380.00h6.0M454.80,1380.00h-6.0M72.00,1341.00h11.0M454.80,1341.00h-11.0M72.00,1302.00h6.0M454.80,1302.00h-6.0" stroke="#000" stroke-width="1.6" fill="none"/>
<text x="57.40" y="1507.50" font-size="31.0" text-anchor="end" stroke="#000" stroke-width="0.4">0</text>
<text x="57.40" y="1429.50" font-size="31.0" text-anchor="end" stroke="#000" stroke-width="0.4">2</text>
<text x="57.40" y="1351.50" font-size="31.0" text-anchor="end" stroke="#000" stroke-width="0.4">4</text>
<text x="57.40" y="1273.50" font-size="31.0" text-anchor="end" stroke="#000" stroke-width="0.4">6</text>
<text transform="matrix(0.925,0,0,1,5.400,0)" x="72.00" y="1554.70" font-size="31.5" text-anchor="middle" stroke="#000" stroke-width="0.4">0</text>
<text transform="matrix(0.925,0,0,1,6.730,0)" x="89.73" y="1554.70" font-size="31.5" stroke="#000" stroke-width="0.4">10<tspan dy="-10.5" font-size="21">−7</tspan></text>
<text transform="matrix(0.925,0,0,1,12.472,0)" x="166.29" y="1554.70" font-size="31.5" stroke="#000" stroke-width="0.4">10<tspan dy="-10.5" font-size="21">−6</tspan></text>
<text transform="matrix(0.925,0,0,1,18.214,0)" x="242.85" y="1554.70" font-size="31.5" stroke="#000" stroke-width="0.4">10<tspan dy="-10.5" font-size="21">−5</tspan></text>
<text transform="matrix(0.925,0,0,1,23.956,0)" x="319.41" y="1554.70" font-size="31.5" stroke="#000" stroke-width="0.4">10<tspan dy="-10.5" font-size="21">−4</tspan></text>
<text transform="matrix(0.925,0,0,1,29.698,0)" x="395.97" y="1554.70" font-size="31.5" stroke="#000" stroke-width="0.4">10<tspan dy="-10.5" font-size="21">−3</tspan></text>
<text transform="matrix(0.925,0,0,1,19.755,0)" x="263.40" y="1589.90" font-size="31.5" text-anchor="middle" stroke="#000" stroke-width="0.4">[VUAA1] (M)</text>
<path d="M72.00,1491.27L73.59,1491.27L75.19,1491.27L76.78,1491.27L78.38,1491.27L79.98,1491.27L81.57,1491.27L83.16,1491.27L84.76,1491.27L86.36,1491.27L87.95,1491.27L89.55,1491.27L91.14,1491.27L92.73,1491.27L94.33,1491.27L95.92,1491.27L97.52,1491.27L99.12,1491.27L100.71,1491.27L102.30,1491.27L103.90,1491.27L105.50,1491.27L107.09,1491.27L108.69,1491.27L110.28,1491.27L111.87,1491.27L113.47,1491.27L115.06,1491.27L116.66,1491.27L118.26,1491.27L119.85,1491.27L121.44,1491.27L123.04,1491.27L124.64,1491.27L126.23,1491.27L127.83,1491.27L129.42,1491.27L131.01,1491.27L132.61,1491.27L134.20,1491.27L135.80,1491.27L137.40,1491.27L138.99,1491.27L140.58,1491.27L142.18,1491.27L143.78,1491.27L145.37,1491.27L146.97,1491.27L148.56,1491.27L150.15,1491.27L151.75,1491.27L153.34,1491.27L154.94,1491.27L156.54,1491.27L158.13,1491.27L159.72,1491.27L161.32,1491.27L162.92,1491.27L164.51,1491.27L166.11,1491.27L167.70,1491.27L169.29,1491.27L170.89,1491.27L172.49,1491.27L174.08,1491.27L175.68,1491.27L177.27,1491.27L178.86,1491.27L180.46,1491.27L182.06,1491.27L183.65,1491.27L185.25,1491.27L186.84,1491.27L188.43,1491.27L190.03,1491.27L191.62,1491.27L193.22,1491.27L194.82,1491.27L196.41,1491.27L198.00,1491.27L199.60,1491.27L201.19,1491.27L202.79,1491.27L204.39,1491.27L205.98,1491.27L207.57,1491.27L209.17,1491.27L210.77,1491.27L212.36,1491.27L213.96,1491.27L215.55,1491.27L217.14,1491.27L218.74,1491.27L220.34,1491.27L221.93,1491.27L223.53,1491.27L225.12,1491.27L226.72,1491.27L228.31,1491.27L229.91,1491.27L231.50,1491.27L233.09,1491.27L234.69,1491.27L236.29,1491.26L237.88,1491.26L239.47,1491.26L241.07,1491.26L242.66,1491.26L244.26,1491.26L245.86,1491.26L247.45,1491.26L249.05,1491.26L250.64,1491.26L252.23,1491.26L253.83,1491.25L255.43,1491.25L257.02,1491.25L258.62,1491.25L260.21,1491.24L261.80,1491.24L263.40,1491.23L265.00,1491.22L266.59,1491.22L268.19,1491.21L269.78,1491.20L271.38,1491.18L272.97,1491.17L274.57,1491.15L276.16,1491.13L277.75,1491.11L279.35,1491.08L280.94,1491.04L282.54,1491.00L284.14,1490.95L285.73,1490.89L287.33,1490.82L288.92,1490.74L290.51,1490.65L292.11,1490.53L293.71,1490.40L295.30,1490.24L296.89,1490.06L298.49,1489.84L300.08,1489.58L301.68,1489.27L303.28,1488.91L304.87,1488.49L306.47,1487.99L308.06,1487.41L309.65,1486.72L311.25,1485.92L312.85,1484.98L314.44,1483.88L316.03,1482.61L317.63,1481.14L319.22,1479.43L320.82,1477.47L322.42,1475.22L324.01,1472.66L325.61,1469.75L327.20,1466.48L328.79,1462.84L330.39,1458.80L331.99,1454.37L333.58,1449.56L335.18,1444.39L336.77,1438.92L338.36,1433.19L339.96,1427.26L341.56,1421.23L343.15,1415.16L344.75,1409.15L346.34,1403.29L347.94,1397.63L349.53,1392.25L351.12,1387.20L352.72,1382.51L354.31,1378.20L355.91,1374.29L357.50,1370.77L359.10,1367.62L360.69,1364.83L362.29,1362.37L363.88,1360.22L365.48,1358.34L367.07,1356.71L368.67,1355.31L370.27,1354.09L371.86,1353.05L373.45,1352.16L375.05,1351.40L376.64,1350.75L378.24,1350.19L379.83,1349.72L381.43,1349.32L383.03,1348.97L384.62,1348.69L386.22,1348.44L387.81,1348.23L389.40,1348.05L391.00,1347.90L392.60,1347.78L394.19,1347.67L395.79,1347.58L397.38,1347.50L398.97,1347.44L400.57,1347.38L402.17,1347.34L403.76,1347.30L405.36,1347.27L406.95,1347.24L408.54,1347.21L410.14,1347.19L411.74,1347.18L413.33,1347.16L414.93,1347.15L416.52,1347.14L418.12,1347.13L419.71,1347.12L421.31,1347.12L422.90,1347.11L424.50,1347.11L426.09,1347.10L427.69,1347.10L429.28,1347.10L430.88,1347.10L432.47,1347.09L434.07,1347.09L435.66,1347.09L437.25,1347.09L438.85,1347.09L440.44,1347.09L442.04,1347.09L443.64,1347.09L445.23,1347.09L446.82,1347.09L448.42,1347.09L450.01,1347.09L451.61,1347.09L453.21,1347.09L454.80,1347.08" fill="none" stroke="#000" stroke-width="1.9" stroke-dasharray="9.8 7"/>
<path d="M72.00,1491.89L73.59,1491.89L75.19,1491.89L76.78,1491.89L78.38,1491.89L79.98,1491.89L81.57,1491.89L83.16,1491.89L84.76,1491.89L86.36,1491.89L87.95,1491.89L89.55,1491.89L91.14,1491.89L92.73,1491.89L94.33,1491.89L95.92,1491.89L97.52,1491.89L99.12,1491.89L100.71,1491.89L102.30,1491.89L103.90,1491.89L105.50,1491.89L107.09,1491.89L108.69,1491.89L110.28,1491.89L111.87,1491.89L113.47,1491.89L115.06,1491.89L116.66,1491.89L118.26,1491.89L119.85,1491.89L121.44,1491.89L123.04,1491.89L124.64,1491.89L126.23,1491.89L127.83,1491.89L129.42,1491.89L131.01,1491.89L132.61,1491.89L134.20,1491.89L135.80,1491.89L137.40,1491.89L138.99,1491.89L140.58,1491.89L142.18,1491.89L143.78,1491.89L145.37,1491.89L146.97,1491.89L148.56,1491.89L150.15,1491.89L151.75,1491.89L153.34,1491.89L154.94,1491.89L156.54,1491.89L158.13,1491.89L159.72,1491.89L161.32,1491.89L162.92,1491.89L164.51,1491.89L166.11,1491.89L167.70,1491.89L169.29,1491.89L170.89,1491.89L172.49,1491.89L174.08,1491.89L175.68,1491.89L177.27,1491.89L178.86,1491.89L180.46,1491.89L182.06,1491.89L183.65,1491.89L185.25,1491.89L186.84,1491.89L188.43,1491.89L190.03,1491.89L191.62,1491.89L193.22,1491.89L194.82,1491.89L196.41,1491.89L198.00,1491.88L199.60,1491.88L201.19,1491.88L202.79,1491.88L204.39,1491.88L205.98,1491.88L207.57,1491.88L209.17,1491.87L210.77,1491.87L212.36,1491.87L213.96,1491.87L215.55,1491.86L217.14,1491.86L218.74,1491.85L220.34,1491.85L221.93,1491.84L223.53,1491.83L225.12,1491.83L226.72,1491.82L228.31,1491.80L229.91,1491.79L231.50,1491.78L233.09,1491.76L234.69,1491.74L236.29,1491.72L237.88,1491.69L239.47,1491.66L241.07,1491.62L242.66,1491.58L244.26,1491.54L245.86,1491.48L247.45,1491.42L249.05,1491.35L250.64,1491.27L252.23,1491.18L253.83,1491.07L255.43,1490.95L257.02,1490.81L258.62,1490.64L260.21,1490.46L261.80,1490.24L263.40,1490.00L265.00,1489.71L266.59,1489.39L268.19,1489.02L269.78,1488.60L271.38,1488.11L272.97,1487.56L274.57,1486.92L276.16,1486.20L277.75,1485.38L279.35,1484.44L280.94,1483.38L282.54,1482.18L284.14,1480.81L285.73,1479.28L287.33,1477.55L288.92,1475.61L290.51,1473.44L292.11,1471.03L293.71,1468.36L295.30,1465.41L296.89,1462.18L298.49,1458.65L300.08,1454.83L301.68,1450.71L303.28,1446.31L304.87,1441.65L306.47,1436.75L308.06,1431.64L309.65,1426.37L311.25,1420.98L312.85,1415.52L314.44,1410.04L316.03,1404.61L317.63,1399.26L319.22,1394.05L320.82,1389.03L322.42,1384.22L324.01,1379.67L325.61,1375.39L327.20,1371.39L328.79,1367.69L330.39,1364.29L331.99,1361.18L333.58,1358.35L335.18,1355.78L336.77,1353.48L338.36,1351.41L339.96,1349.56L341.56,1347.92L343.15,1346.45L344.75,1345.16L346.34,1344.02L347.94,1343.01L349.53,1342.12L351.12,1341.34L352.72,1340.66L354.31,1340.06L355.91,1339.54L357.50,1339.08L359.10,1338.68L360.69,1338.33L362.29,1338.02L363.88,1337.76L365.48,1337.52L367.07,1337.32L368.67,1337.15L370.27,1336.99L371.86,1336.86L373.45,1336.74L375.05,1336.64L376.64,1336.55L378.24,1336.48L379.83,1336.41L381.43,1336.35L383.03,1336.30L384.62,1336.26L386.22,1336.22L387.81,1336.19L389.40,1336.16L391.00,1336.13L392.60,1336.11L394.19,1336.09L395.79,1336.08L397.38,1336.06L398.97,1336.05L400.57,1336.04L402.17,1336.03L403.76,1336.02L405.36,1336.02L406.95,1336.01L408.54,1336.00L410.14,1336.00L411.74,1336.00L413.33,1335.99L414.93,1335.99L416.52,1335.99L418.12,1335.98L419.71,1335.98L421.31,1335.98L422.90,1335.98L424.50,1335.98L426.09,1335.98L427.69,1335.98L429.28,1335.97L430.88,1335.97L432.47,1335.97L434.07,1335.97L435.66,1335.97L437.25,1335.97L438.85,1335.97L440.44,1335.97L442.04,1335.97L443.64,1335.97L445.23,1335.97L446.82,1335.97L448.42,1335.97L450.01,1335.97L451.61,1335.97L453.21,1335.97L454.80,1335.97" fill="none" stroke="#000" stroke-width="1.9"/>
<path d="M72.00,1485.07L78.50,1495.67L65.50,1495.67Z" fill="#000" stroke-linejoin="miter"/>
<path d="M172.55,1484.29L179.05,1494.89L166.05,1494.89Z" fill="#000" stroke-linejoin="miter"/>
<path d="M209.08,1484.29L215.58,1494.89L202.58,1494.89Z" fill="#000" stroke-linejoin="miter"/>
<path d="M245.61,1482.73L252.11,1493.33L239.11,1493.33Z" fill="#000" stroke-linejoin="miter"/>
<path d="M282.14,1476.10L288.64,1486.70L275.64,1486.70Z" fill="#000" stroke-linejoin="miter"/>
<path d="M318.66,1387.18L325.16,1397.78L312.16,1397.78Z" fill="#000" stroke-linejoin="miter"/>
<path d="M355.19,1335.31L361.69,1345.91L348.69,1345.91Z" fill="#000" stroke-linejoin="miter"/>
<path d="M391.72,1327.12L398.22,1337.72L385.22,1337.72Z" fill="#000" stroke-linejoin="miter"/>
<path d="M72.00,1485.97L77.40,1494.77L66.60,1494.77Z" fill="#fff" stroke="#000" stroke-width="1.9" stroke-linejoin="miter"/>
<path d="M172.55,1485.19L177.95,1493.99L167.15,1493.99Z" fill="#fff" stroke="#000" stroke-width="1.9" stroke-linejoin="miter"/>
<path d="M209.08,1485.19L214.48,1493.99L203.68,1493.99Z" fill="#fff" stroke="#000" stroke-width="1.9" stroke-linejoin="miter"/>
<path d="M245.61,1485.97L251.01,1494.77L240.21,1494.77Z" fill="#fff" stroke="#000" stroke-width="1.9" stroke-linejoin="miter"/>
<path d="M282.14,1484.80L287.54,1493.60L276.74,1493.60Z" fill="#fff" stroke="#000" stroke-width="1.9" stroke-linejoin="miter"/>
<path d="M318.66,1473.10L324.06,1481.90L313.26,1481.90Z" fill="#fff" stroke="#000" stroke-width="1.9" stroke-linejoin="miter"/>
<path d="M355.19,1366.24L360.59,1375.04L349.79,1375.04Z" fill="#fff" stroke="#000" stroke-width="1.9" stroke-linejoin="miter"/>
<path d="M391.72,1340.50L397.12,1349.30L386.32,1349.30Z" fill="#fff" stroke="#000" stroke-width="1.9" stroke-linejoin="miter"/>
<text transform="matrix(0.91,0,0,1,27.535,0)" x="305.95" y="1373.70" font-size="21.5" text-anchor="middle" fill="#000" stroke="#000" stroke-width="0.55">WT</text>
<text transform="matrix(0.977,0,0,1,8.778,0)" x="381.65" y="1466.50" font-size="21.5" text-anchor="middle" fill="#000" stroke="none">D454A</text>
</g>
<g>
<path d="M507.05,1520.40V1263.00H889.85V1520.40H533.85M521.95,1520.40H507.05" fill="none" stroke="#000" stroke-width="2.0" stroke-linecap="square"/>
<line x1="516.05" y1="1531.00" x2="529.15" y2="1509.40" stroke="#000" stroke-width="1.7"/>
<line x1="526.85" y1="1531.00" x2="539.95" y2="1509.40" stroke="#000" stroke-width="1.7"/>
<path d="M516.62,1263.00v6.0M524.03,1263.00v6.0M530.10,1263.00v6.0M535.22,1263.00v6.0M539.66,1263.00v6.0M539.66,1520.40v-6.0M543.58,1263.00v6.0M543.58,1520.40v-6.0M547.08,1263.00v11.0M547.08,1520.40v-11.0M570.13,1263.00v6.0M570.13,1520.40v-6.0M583.61,1263.00v6.0M583.61,1520.40v-6.0M593.18,1263.00v6.0M593.18,1520.40v-6.0M600.59,1263.00v6.0M600.59,1520.40v-6.0M606.66,1263.00v6.0M606.66,1520.40v-6.0M611.78,1263.00v6.0M611.78,1520.40v-6.0M616.22,1263.00v6.0M616.22,1520.40v-6.0M620.14,1263.00v6.0M620.14,1520.40v-6.0M623.64,1263.00v11.0M623.64,1520.40v-11.0M646.69,1263.00v6.0M646.69,1520.40v-6.0M660.17,1263.00v6.0M660.17,1520.40v-6.0M669.74,1263.00v6.0M669.74,1520.40v-6.0M677.15,1263.00v6.0M677.15,1520.40v-6.0M683.22,1263.00v6.0M683.22,1520.40v-6.0M688.34,1263.00v6.0M688.34,1520.40v-6.0M692.78,1263.00v6.0M692.78,1520.40v-6.0M696.70,1263.00v6.0M696.70,1520.40v-6.0M700.20,1263.00v11.0M700.20,1520.40v-11.0M723.25,1263.00v6.0M723.25,1520.40v-6.0M736.73,1263.00v6.0M736.73,1520.40v-6.0M746.30,1263.00v6.0M746.30,1520.40v-6.0M753.71,1263.00v6.0M753.71,1520.40v-6.0M759.78,1263.00v6.0M759.78,1520.40v-6.0M764.90,1263.00v6.0M764.90,1520.40v-6.0M769.34,1263.00v6.0M769.34,1520.40v-6.0M773.26,1263.00v6.0M773.26,1520.40v-6.0M776.76,1263.00v11.0M776.76,1520.40v-11.0M799.81,1263.00v6.0M799.81,1520.40v-6.0M813.29,1263.00v6.0M813.29,1520.40v-6.0M822.86,1263.00v6.0M822.86,1520.40v-6.0M830.27,1263.00v6.0M830.27,1520.40v-6.0M836.34,1263.00v6.0M836.34,1520.40v-6.0M841.46,1263.00v6.0M841.46,1520.40v-6.0M845.90,1263.00v6.0M845.90,1520.40v-6.0M849.82,1263.00v6.0M849.82,1520.40v-6.0M853.32,1263.00v11.0M853.32,1520.40v-11.0M876.37,1263.00v6.0M876.37,1520.40v-6.0M507.05,1497.00h11.0M889.85,1497.00h-11.0M507.05,1458.00h6.0M889.85,1458.00h-6.0M507.05,1419.00h11.0M889.85,1419.00h-11.0M507.05,1380.00h6.0M889.85,1380.00h-6.0M507.05,1341.00h11.0M889.85,1341.00h-11.0M507.05,1302.00h6.0M889.85,1302.00h-6.0" stroke="#000" stroke-width="1.6" fill="none"/>
<text x="492.45" y="1507.50" font-size="31.0" text-anchor="end" stroke="#000" stroke-width="0.4">0</text>
<text x="492.45" y="1429.50" font-size="31.0" text-anchor="end" stroke="#000" stroke-width="0.4">2</text>
<text x="492.45" y="1351.50" font-size="31.0" text-anchor="end" stroke="#000" stroke-width="0.4">4</text>
<text x="492.45" y="1273.50" font-size="31.0" text-anchor="end" stroke="#000" stroke-width="0.4">6</text>
<text transform="matrix(0.925,0,0,1,38.029,0)" x="507.05" y="1554.70" font-size="31.5" text-anchor="middle" stroke="#000" stroke-width="0.4">0</text>
<text transform="matrix(0.925,0,0,1,39.359,0)" x="524.78" y="1554.70" font-size="31.5" stroke="#000" stroke-width="0.4">10<tspan dy="-10.5" font-size="21">−7</tspan></text>
<text transform="matrix(0.925,0,0,1,45.101,0)" x="601.34" y="1554.70" font-size="31.5" stroke="#000" stroke-width="0.4">10<tspan dy="-10.5" font-size="21">−6</tspan></text>
<text transform="matrix(0.925,0,0,1,50.843,0)" x="677.90" y="1554.70" font-size="31.5" stroke="#000" stroke-width="0.4">10<tspan dy="-10.5" font-size="21">−5</tspan></text>
<text transform="matrix(0.925,0,0,1,56.585,0)" x="754.46" y="1554.70" font-size="31.5" stroke="#000" stroke-width="0.4">10<tspan dy="-10.5" font-size="21">−4</tspan></text>
<text transform="matrix(0.925,0,0,1,62.327,0)" x="831.02" y="1554.70" font-size="31.5" stroke="#000" stroke-width="0.4">10<tspan dy="-10.5" font-size="21">−3</tspan></text>
<text transform="matrix(0.925,0,0,1,52.384,0)" x="698.45" y="1589.90" font-size="31.5" text-anchor="middle" stroke="#000" stroke-width="0.4">[VUAA1] (M)</text>
<path d="M507.05,1495.05H889.85" fill="none" stroke="#000" stroke-width="1.9" stroke-dasharray="9.8 7"/>
<path d="M507.05,1489.20L508.64,1489.20L510.24,1489.20L511.84,1489.20L513.43,1489.20L515.03,1489.20L516.62,1489.20L518.22,1489.20L519.81,1489.20L521.40,1489.20L523.00,1489.20L524.60,1489.20L526.19,1489.20L527.78,1489.20L529.38,1489.20L530.98,1489.20L532.57,1489.20L534.17,1489.20L535.76,1489.20L537.36,1489.20L538.95,1489.20L540.55,1489.20L542.14,1489.20L543.74,1489.20L545.33,1489.20L546.92,1489.20L548.52,1489.20L550.12,1489.20L551.71,1489.20L553.31,1489.20L554.90,1489.20L556.50,1489.20L558.09,1489.20L559.69,1489.20L561.28,1489.20L562.88,1489.20L564.47,1489.20L566.06,1489.20L567.66,1489.20L569.25,1489.20L570.85,1489.20L572.45,1489.20L574.04,1489.20L575.63,1489.20L577.23,1489.20L578.83,1489.20L580.42,1489.20L582.02,1489.20L583.61,1489.20L585.20,1489.20L586.80,1489.20L588.39,1489.20L589.99,1489.20L591.59,1489.20L593.18,1489.20L594.77,1489.20L596.37,1489.20L597.97,1489.20L599.56,1489.20L601.16,1489.20L602.75,1489.20L604.35,1489.20L605.94,1489.20L607.53,1489.20L609.13,1489.20L610.73,1489.20L612.32,1489.20L613.91,1489.20L615.51,1489.20L617.11,1489.20L618.70,1489.20L620.30,1489.20L621.89,1489.20L623.49,1489.20L625.08,1489.20L626.67,1489.20L628.27,1489.20L629.87,1489.20L631.46,1489.20L633.05,1489.20L634.65,1489.20L636.25,1489.20L637.84,1489.20L639.44,1489.20L641.03,1489.20L642.62,1489.20L644.22,1489.20L645.82,1489.20L647.41,1489.20L649.01,1489.20L650.60,1489.20L652.19,1489.20L653.79,1489.20L655.38,1489.20L656.98,1489.20L658.58,1489.20L660.17,1489.20L661.77,1489.20L663.36,1489.20L664.96,1489.20L666.55,1489.20L668.14,1489.20L669.74,1489.20L671.34,1489.20L672.93,1489.19L674.52,1489.19L676.12,1489.19L677.71,1489.19L679.31,1489.19L680.91,1489.18L682.50,1489.18L684.10,1489.18L685.69,1489.17L687.28,1489.17L688.88,1489.16L690.48,1489.15L692.07,1489.14L693.66,1489.12L695.26,1489.10L696.86,1489.08L698.45,1489.06L700.05,1489.02L701.64,1488.98L703.24,1488.93L704.83,1488.87L706.42,1488.80L708.02,1488.70L709.62,1488.59L711.21,1488.45L712.81,1488.28L714.40,1488.07L716.00,1487.82L717.59,1487.51L719.19,1487.13L720.78,1486.66L722.38,1486.09L723.97,1485.39L725.56,1484.54L727.16,1483.51L728.76,1482.27L730.35,1480.76L731.95,1478.94L733.54,1476.77L735.13,1474.17L736.73,1471.09L738.33,1467.46L739.92,1463.23L741.51,1458.34L743.11,1452.75L744.70,1446.45L746.30,1439.45L747.90,1431.80L749.49,1423.59L751.09,1414.94L752.68,1406.02L754.27,1397.00L755.87,1388.07L757.47,1379.41L759.06,1371.20L760.65,1363.54L762.25,1356.53L763.85,1350.22L765.44,1344.63L767.04,1339.73L768.63,1335.49L770.23,1331.85L771.82,1328.77L773.41,1326.16L775.01,1323.98L776.61,1322.16L778.20,1320.65L779.80,1319.40L781.39,1318.37L782.99,1317.52L784.58,1316.82L786.17,1316.25L787.77,1315.78L789.37,1315.40L790.96,1315.08L792.56,1314.83L794.15,1314.62L795.75,1314.45L797.34,1314.31L798.93,1314.20L800.53,1314.10L802.12,1314.03L803.72,1313.97L805.32,1313.92L806.91,1313.88L808.50,1313.84L810.10,1313.82L811.69,1313.80L813.29,1313.78L814.88,1313.76L816.48,1313.75L818.08,1313.74L819.67,1313.73L821.27,1313.73L822.86,1313.72L824.45,1313.72L826.05,1313.72L827.64,1313.71L829.24,1313.71L830.84,1313.71L832.43,1313.71L834.02,1313.71L835.62,1313.70L837.22,1313.70L838.81,1313.70L840.40,1313.70L842.00,1313.70L843.60,1313.70L845.19,1313.70L846.79,1313.70L848.38,1313.70L849.98,1313.70L851.57,1313.70L853.16,1313.70L854.76,1313.70L856.36,1313.70L857.95,1313.70L859.55,1313.70L861.14,1313.70L862.74,1313.70L864.33,1313.70L865.92,1313.70L867.52,1313.70L869.12,1313.70L870.71,1313.70L872.31,1313.70L873.90,1313.70L875.50,1313.70L877.09,1313.70L878.69,1313.70L880.28,1313.70L881.88,1313.70L883.47,1313.70L885.07,1313.70L886.66,1313.70L888.26,1313.70L889.85,1313.70" fill="none" stroke="#000" stroke-width="1.9"/>
<circle cx="507.05" cy="1490.37" r="5.9" fill="#000"/>
<circle cx="607.60" cy="1493.10" r="5.9" fill="#000"/>
<circle cx="644.13" cy="1490.37" r="5.9" fill="#000"/>
<circle cx="680.66" cy="1487.64" r="5.9" fill="#000"/>
<circle cx="717.19" cy="1482.18" r="5.9" fill="#000"/>
<circle cx="753.71" cy="1399.89" r="5.9" fill="#000"/>
<circle cx="790.24" cy="1309.80" r="5.9" fill="#000"/>
<circle cx="826.77" cy="1319.55" r="5.9" fill="#000"/>
<circle cx="507.05" cy="1495.83" r="4.9" fill="#fff" stroke="#000" stroke-width="1.9"/>
<circle cx="607.60" cy="1495.05" r="4.9" fill="#fff" stroke="#000" stroke-width="1.9"/>
<circle cx="644.13" cy="1495.44" r="4.9" fill="#fff" stroke="#000" stroke-width="1.9"/>
<circle cx="680.66" cy="1495.44" r="4.9" fill="#fff" stroke="#000" stroke-width="1.9"/>
<circle cx="717.19" cy="1495.05" r="4.9" fill="#fff" stroke="#000" stroke-width="1.9"/>
<circle cx="753.71" cy="1495.05" r="4.9" fill="#fff" stroke="#000" stroke-width="1.9"/>
<circle cx="790.24" cy="1495.05" r="4.9" fill="#fff" stroke="#000" stroke-width="1.9"/>
<circle cx="826.77" cy="1495.05" r="4.9" fill="#fff" stroke="#000" stroke-width="1.9"/>
<text transform="matrix(0.91,0,0,1,67.122,0)" x="745.80" y="1340.30" font-size="21.5" text-anchor="middle" fill="#000" stroke="#000" stroke-width="0.55">WT</text>
<text transform="matrix(0.957,0,0,1,34.759,0)" x="808.35" y="1476.20" font-size="21.5" text-anchor="middle" fill="#000" stroke="none">GCaMP</text>
</g>
<g>
<path d="M989.50,1520.40V1263.00H1372.30V1520.40H1016.30M1004.40,1520.40H989.50" fill="none" stroke="#000" stroke-width="2.0" stroke-linecap="square"/>
<line x1="998.50" y1="1531.00" x2="1011.60" y2="1509.40" stroke="#000" stroke-width="1.7"/>
<line x1="1009.30" y1="1531.00" x2="1022.40" y2="1509.40" stroke="#000" stroke-width="1.7"/>
<path d="M999.07,1263.00v6.0M1006.48,1263.00v6.0M1012.55,1263.00v6.0M1017.67,1263.00v6.0M1022.11,1263.00v6.0M1022.11,1520.40v-6.0M1026.03,1263.00v6.0M1026.03,1520.40v-6.0M1029.53,1263.00v11.0M1029.53,1520.40v-11.0M1052.58,1263.00v6.0M1052.58,1520.40v-6.0M1066.06,1263.00v6.0M1066.06,1520.40v-6.0M1075.63,1263.00v6.0M1075.63,1520.40v-6.0M1083.04,1263.00v6.0M1083.04,1520.40v-6.0M1089.11,1263.00v6.0M1089.11,1520.40v-6.0M1094.23,1263.00v6.0M1094.23,1520.40v-6.0M1098.67,1263.00v6.0M1098.67,1520.40v-6.0M1102.59,1263.00v6.0M1102.59,1520.40v-6.0M1106.09,1263.00v11.0M1106.09,1520.40v-11.0M1129.14,1263.00v6.0M1129.14,1520.40v-6.0M1142.62,1263.00v6.0M1142.62,1520.40v-6.0M1152.19,1263.00v6.0M1152.19,1520.40v-6.0M1159.60,1263.00v6.0M1159.60,1520.40v-6.0M1165.67,1263.00v6.0M1165.67,1520.40v-6.0M1170.79,1263.00v6.0M1170.79,1520.40v-6.0M1175.23,1263.00v6.0M1175.23,1520.40v-6.0M1179.15,1263.00v6.0M1179.15,1520.40v-6.0M1182.65,1263.00v11.0M1182.65,1520.40v-11.0M1205.70,1263.00v6.0M1205.70,1520.40v-6.0M1219.18,1263.00v6.0M1219.18,1520.40v-6.0M1228.75,1263.00v6.0M1228.75,1520.40v-6.0M1236.16,1263.00v6.0M1236.16,1520.40v-6.0M1242.23,1263.00v6.0M1242.23,1520.40v-6.0M1247.35,1263.00v6.0M1247.35,1520.40v-6.0M1251.79,1263.00v6.0M1251.79,1520.40v-6.0M1255.71,1263.00v6.0M1255.71,1520.40v-6.0M1259.21,1263.00v11.0M1259.21,1520.40v-11.0M1282.26,1263.00v6.0M1282.26,1520.40v-6.0M1295.74,1263.00v6.0M1295.74,1520.40v-6.0M1305.31,1263.00v6.0M1305.31,1520.40v-6.0M1312.72,1263.00v6.0M1312.72,1520.40v-6.0M1318.79,1263.00v6.0M1318.79,1520.40v-6.0M1323.91,1263.00v6.0M1323.91,1520.40v-6.0M1328.35,1263.00v6.0M1328.35,1520.40v-6.0M1332.27,1263.00v6.0M1332.27,1520.40v-6.0M1335.77,1263.00v11.0M1335.77,1520.40v-11.0M1358.82,1263.00v6.0M1358.82,1520.40v-6.0M989.50,1497.00h11.0M1372.30,1497.00h-11.0M989.50,1458.00h6.0M1372.30,1458.00h-6.0M989.50,1419.00h11.0M1372.30,1419.00h-11.0M989.50,1380.00h6.0M1372.30,1380.00h-6.0M989.50,1341.00h11.0M1372.30,1341.00h-11.0M989.50,1302.00h6.0M1372.30,1302.00h-6.0" stroke="#000" stroke-width="1.6" fill="none"/>
<text x="974.90" y="1507.50" font-size="31.0" text-anchor="end" stroke="#000" stroke-width="0.4">0</text>
<text x="974.90" y="1429.50" font-size="31.0" text-anchor="end" stroke="#000" stroke-width="0.4">1</text>
<text x="974.90" y="1351.50" font-size="31.0" text-anchor="end" stroke="#000" stroke-width="0.4">2</text>
<text x="974.90" y="1273.50" font-size="31.0" text-anchor="end" stroke="#000" stroke-width="0.4">3</text>
<text transform="matrix(0.925,0,0,1,74.212,0)" x="989.50" y="1554.70" font-size="31.5" text-anchor="middle" stroke="#000" stroke-width="0.4">0</text>
<text transform="matrix(0.925,0,0,1,75.542,0)" x="1007.23" y="1554.70" font-size="31.5" stroke="#000" stroke-width="0.4">10<tspan dy="-10.5" font-size="21">−9</tspan></text>
<text transform="matrix(0.925,0,0,1,81.284,0)" x="1083.79" y="1554.70" font-size="31.5" stroke="#000" stroke-width="0.4">10<tspan dy="-10.5" font-size="21">−8</tspan></text>
<text transform="matrix(0.925,0,0,1,87.026,0)" x="1160.35" y="1554.70" font-size="31.5" stroke="#000" stroke-width="0.4">10<tspan dy="-10.5" font-size="21">−7</tspan></text>
<text transform="matrix(0.925,0,0,1,92.768,0)" x="1236.91" y="1554.70" font-size="31.5" stroke="#000" stroke-width="0.4">10<tspan dy="-10.5" font-size="21">−6</tspan></text>
<text transform="matrix(0.925,0,0,1,98.510,0)" x="1313.47" y="1554.70" font-size="31.5" stroke="#000" stroke-width="0.4">10<tspan dy="-10.5" font-size="21">−5</tspan></text>
<text transform="matrix(0.925,0,0,1,88.567,0)" x="1180.90" y="1589.90" font-size="31.5" text-anchor="middle" stroke="#000" stroke-width="0.4">[Eugenol] (M)</text>
<path d="M989.50,1487.64L991.10,1487.64L992.69,1487.64L994.28,1487.64L995.88,1487.64L997.47,1487.64L999.07,1487.64L1000.67,1487.64L1002.26,1487.64L1003.86,1487.64L1005.45,1487.64L1007.04,1487.64L1008.64,1487.64L1010.24,1487.64L1011.83,1487.64L1013.42,1487.64L1015.02,1487.64L1016.62,1487.64L1018.21,1487.64L1019.81,1487.64L1021.40,1487.64L1023.00,1487.64L1024.59,1487.64L1026.18,1487.64L1027.78,1487.64L1029.38,1487.64L1030.97,1487.64L1032.57,1487.64L1034.16,1487.64L1035.75,1487.64L1037.35,1487.64L1038.95,1487.63L1040.54,1487.63L1042.13,1487.63L1043.73,1487.63L1045.33,1487.63L1046.92,1487.63L1048.52,1487.63L1050.11,1487.63L1051.70,1487.63L1053.30,1487.63L1054.89,1487.63L1056.49,1487.63L1058.09,1487.63L1059.68,1487.63L1061.28,1487.63L1062.87,1487.63L1064.46,1487.63L1066.06,1487.62L1067.65,1487.62L1069.25,1487.62L1070.85,1487.62L1072.44,1487.62L1074.03,1487.62L1075.63,1487.62L1077.23,1487.62L1078.82,1487.61L1080.41,1487.61L1082.01,1487.61L1083.61,1487.61L1085.20,1487.61L1086.80,1487.60L1088.39,1487.60L1089.98,1487.60L1091.58,1487.60L1093.17,1487.59L1094.77,1487.59L1096.37,1487.59L1097.96,1487.58L1099.56,1487.58L1101.15,1487.57L1102.74,1487.57L1104.34,1487.57L1105.93,1487.56L1107.53,1487.56L1109.12,1487.55L1110.72,1487.54L1112.32,1487.54L1113.91,1487.53L1115.50,1487.52L1117.10,1487.51L1118.69,1487.51L1120.29,1487.50L1121.88,1487.49L1123.48,1487.48L1125.08,1487.47L1126.67,1487.45L1128.27,1487.44L1129.86,1487.43L1131.45,1487.41L1133.05,1487.40L1134.64,1487.38L1136.24,1487.37L1137.84,1487.35L1139.43,1487.33L1141.03,1487.31L1142.62,1487.29L1144.22,1487.26L1145.81,1487.24L1147.40,1487.21L1149.00,1487.18L1150.60,1487.15L1152.19,1487.12L1153.79,1487.08L1155.38,1487.04L1156.97,1487.00L1158.57,1486.96L1160.16,1486.92L1161.76,1486.87L1163.36,1486.82L1164.95,1486.76L1166.55,1486.70L1168.14,1486.64L1169.73,1486.58L1171.33,1486.50L1172.92,1486.43L1174.52,1486.35L1176.12,1486.26L1177.71,1486.17L1179.30,1486.08L1180.90,1485.97L1182.50,1485.87L1184.09,1485.75L1185.68,1485.63L1187.28,1485.49L1188.88,1485.35L1190.47,1485.21L1192.07,1485.05L1193.66,1484.88L1195.26,1484.70L1196.85,1484.51L1198.44,1484.31L1200.04,1484.10L1201.63,1483.88L1203.23,1483.64L1204.83,1483.39L1206.42,1483.12L1208.01,1482.84L1209.61,1482.54L1211.20,1482.22L1212.80,1481.89L1214.39,1481.53L1215.99,1481.16L1217.59,1480.77L1219.18,1480.36L1220.78,1479.92L1222.37,1479.47L1223.96,1478.99L1225.56,1478.49L1227.15,1477.96L1228.75,1477.41L1230.35,1476.83L1231.94,1476.22L1233.54,1475.59L1235.13,1474.94L1236.72,1474.25L1238.32,1473.54L1239.91,1472.80L1241.51,1472.04L1243.11,1471.24L1244.70,1470.42L1246.30,1469.58L1247.89,1468.70L1249.49,1467.81L1251.08,1466.89L1252.67,1465.94L1254.27,1464.98L1255.87,1463.99L1257.46,1462.99L1259.06,1461.97L1260.65,1460.93L1262.24,1459.88L1263.84,1458.82L1265.43,1457.75L1267.03,1456.67L1268.62,1455.59L1270.22,1454.50L1271.82,1453.42L1273.41,1452.33L1275.00,1451.25L1276.60,1450.18L1278.20,1449.11L1279.79,1448.06L1281.38,1447.02L1282.98,1445.99L1284.58,1444.98L1286.17,1443.99L1287.77,1443.02L1289.36,1442.07L1290.95,1441.14L1292.55,1440.24L1294.14,1439.36L1295.74,1438.50L1297.34,1437.68L1298.93,1436.87L1300.53,1436.10L1302.12,1435.35L1303.72,1434.63L1305.31,1433.94L1306.90,1433.27L1308.50,1432.64L1310.10,1432.02L1311.69,1431.44L1313.29,1430.88L1314.88,1430.34L1316.47,1429.83L1318.07,1429.35L1319.66,1428.88L1321.26,1428.44L1322.86,1428.02L1324.45,1427.62L1326.05,1427.25L1327.64,1426.89L1329.24,1426.55L1330.83,1426.23L1332.42,1425.92L1334.02,1425.64L1335.62,1425.36L1337.21,1425.11L1338.81,1424.86L1340.40,1424.63L1342.00,1424.42L1343.59,1424.21L1345.18,1424.02L1346.78,1423.84L1348.38,1423.67L1349.97,1423.51L1351.57,1423.36L1353.16,1423.22L1354.76,1423.08L1356.35,1422.96L1357.94,1422.84L1359.54,1422.73L1361.13,1422.62L1362.73,1422.52L1364.33,1422.43L1365.92,1422.34L1367.51,1422.26L1369.11,1422.19L1370.70,1422.11L1372.30,1422.05" fill="none" stroke="#000" stroke-width="1.9" stroke-dasharray="9.8 7"/>
<path d="M989.50,1496.45L991.10,1496.45L992.69,1496.44L994.28,1496.44L995.88,1496.43L997.47,1496.42L999.07,1496.42L1000.67,1496.41L1002.26,1496.41L1003.86,1496.40L1005.45,1496.39L1007.04,1496.38L1008.64,1496.38L1010.24,1496.37L1011.83,1496.36L1013.42,1496.35L1015.02,1496.34L1016.62,1496.33L1018.21,1496.32L1019.81,1496.30L1021.40,1496.29L1023.00,1496.28L1024.59,1496.26L1026.18,1496.25L1027.78,1496.23L1029.38,1496.22L1030.97,1496.20L1032.57,1496.18L1034.16,1496.16L1035.75,1496.14L1037.35,1496.12L1038.95,1496.10L1040.54,1496.08L1042.13,1496.05L1043.73,1496.02L1045.33,1496.00L1046.92,1495.97L1048.52,1495.94L1050.11,1495.90L1051.70,1495.87L1053.30,1495.83L1054.89,1495.79L1056.49,1495.75L1058.09,1495.71L1059.68,1495.66L1061.28,1495.62L1062.87,1495.57L1064.46,1495.51L1066.06,1495.46L1067.65,1495.40L1069.25,1495.34L1070.85,1495.27L1072.44,1495.20L1074.03,1495.13L1075.63,1495.05L1077.23,1494.97L1078.82,1494.88L1080.41,1494.79L1082.01,1494.70L1083.61,1494.60L1085.20,1494.49L1086.80,1494.38L1088.39,1494.26L1089.98,1494.14L1091.58,1494.01L1093.17,1493.87L1094.77,1493.73L1096.37,1493.58L1097.96,1493.42L1099.56,1493.25L1101.15,1493.07L1102.74,1492.88L1104.34,1492.68L1105.93,1492.48L1107.53,1492.26L1109.12,1492.03L1110.72,1491.78L1112.32,1491.53L1113.91,1491.26L1115.50,1490.98L1117.10,1490.68L1118.69,1490.37L1120.29,1490.04L1121.88,1489.69L1123.48,1489.33L1125.08,1488.95L1126.67,1488.54L1128.27,1488.12L1129.86,1487.68L1131.45,1487.21L1133.05,1486.73L1134.64,1486.21L1136.24,1485.67L1137.84,1485.11L1139.43,1484.52L1141.03,1483.90L1142.62,1483.25L1144.22,1482.57L1145.81,1481.86L1147.40,1481.11L1149.00,1480.33L1150.60,1479.51L1152.19,1478.66L1153.79,1477.77L1155.38,1476.84L1156.97,1475.87L1158.57,1474.85L1160.16,1473.80L1161.76,1472.69L1163.36,1471.55L1164.95,1470.35L1166.55,1469.11L1168.14,1467.82L1169.73,1466.48L1171.33,1465.09L1172.92,1463.65L1174.52,1462.15L1176.12,1460.61L1177.71,1459.00L1179.30,1457.35L1180.90,1455.64L1182.50,1453.88L1184.09,1452.06L1185.68,1450.19L1187.28,1448.27L1188.88,1446.29L1190.47,1444.26L1192.07,1442.18L1193.66,1440.05L1195.26,1437.87L1196.85,1435.65L1198.44,1433.38L1200.04,1431.06L1201.63,1428.71L1203.23,1426.31L1204.83,1423.88L1206.42,1421.42L1208.01,1418.93L1209.61,1416.40L1211.20,1413.86L1212.80,1411.29L1214.39,1408.71L1215.99,1406.11L1217.59,1403.50L1219.18,1400.89L1220.78,1398.28L1222.37,1395.66L1223.96,1393.05L1225.56,1390.45L1227.15,1387.86L1228.75,1385.29L1230.35,1382.74L1231.94,1380.21L1233.54,1377.70L1235.13,1375.23L1236.72,1372.79L1238.32,1370.38L1239.91,1368.01L1241.51,1365.69L1243.11,1363.40L1244.70,1361.16L1246.30,1358.97L1247.89,1356.82L1249.49,1354.72L1251.08,1352.68L1252.67,1350.68L1254.27,1348.74L1255.87,1346.85L1257.46,1345.02L1259.06,1343.24L1260.65,1341.51L1262.24,1339.84L1263.84,1338.22L1265.43,1336.65L1267.03,1335.14L1268.62,1333.68L1270.22,1332.27L1271.82,1330.92L1273.41,1329.61L1275.00,1328.35L1276.60,1327.14L1278.20,1325.98L1279.79,1324.86L1281.38,1323.79L1282.98,1322.76L1284.58,1321.78L1286.17,1320.83L1287.77,1319.93L1289.36,1319.06L1290.95,1318.24L1292.55,1317.44L1294.14,1316.69L1295.74,1315.96L1297.34,1315.27L1298.93,1314.61L1300.53,1313.98L1302.12,1313.38L1303.72,1312.81L1305.31,1312.26L1306.90,1311.74L1308.50,1311.24L1310.10,1310.77L1311.69,1310.32L1313.29,1309.89L1314.88,1309.48L1316.47,1309.10L1318.07,1308.73L1319.66,1308.37L1321.26,1308.04L1322.86,1307.72L1324.45,1307.42L1326.05,1307.13L1327.64,1306.86L1329.24,1306.60L1330.83,1306.35L1332.42,1306.12L1334.02,1305.89L1335.62,1305.68L1337.21,1305.48L1338.81,1305.29L1340.40,1305.11L1342.00,1304.94L1343.59,1304.77L1345.18,1304.62L1346.78,1304.47L1348.38,1304.33L1349.97,1304.20L1351.57,1304.07L1353.16,1303.95L1354.76,1303.84L1356.35,1303.73L1357.94,1303.63L1359.54,1303.54L1361.13,1303.44L1362.73,1303.36L1364.33,1303.27L1365.92,1303.20L1367.51,1303.12L1369.11,1303.05L1370.70,1302.98L1372.30,1302.92" fill="none" stroke="#000" stroke-width="1.9"/>
<path d="M989.50,1487.80L996.00,1498.40L983.00,1498.40Z" fill="#000" stroke-linejoin="miter"/>
<path d="M1126.09,1483.90L1132.59,1494.50L1119.59,1494.50Z" fill="#000" stroke-linejoin="miter"/>
<path d="M1162.62,1472.98L1169.12,1483.58L1156.12,1483.58Z" fill="#000" stroke-linejoin="miter"/>
<path d="M1199.15,1424.62L1205.65,1435.22L1192.65,1435.22Z" fill="#000" stroke-linejoin="miter"/>
<path d="M1235.68,1366.90L1242.18,1377.50L1229.18,1377.50Z" fill="#000" stroke-linejoin="miter"/>
<path d="M1272.21,1325.56L1278.71,1336.16L1265.71,1336.16Z" fill="#000" stroke-linejoin="miter"/>
<path d="M1308.74,1301.38L1315.24,1311.98L1302.24,1311.98Z" fill="#000" stroke-linejoin="miter"/>
<path d="M1345.27,1298.26L1351.77,1308.86L1338.77,1308.86Z" fill="#000" stroke-linejoin="miter"/>
<path d="M989.50,1483.24L994.90,1492.04L984.10,1492.04Z" fill="#fff" stroke="#000" stroke-width="1.9" stroke-linejoin="miter"/>
<path d="M1126.09,1480.12L1131.49,1488.92L1120.69,1488.92Z" fill="#fff" stroke="#000" stroke-width="1.9" stroke-linejoin="miter"/>
<path d="M1162.62,1480.12L1168.02,1488.92L1157.22,1488.92Z" fill="#fff" stroke="#000" stroke-width="1.9" stroke-linejoin="miter"/>
<path d="M1199.15,1480.12L1204.55,1488.92L1193.75,1488.92Z" fill="#fff" stroke="#000" stroke-width="1.9" stroke-linejoin="miter"/>
<path d="M1235.68,1470.76L1241.08,1479.56L1230.28,1479.56Z" fill="#fff" stroke="#000" stroke-width="1.9" stroke-linejoin="miter"/>
<path d="M1272.21,1448.14L1277.61,1456.94L1266.81,1456.94Z" fill="#fff" stroke="#000" stroke-width="1.9" stroke-linejoin="miter"/>
<path d="M1308.74,1426.30L1314.14,1435.10L1303.34,1435.10Z" fill="#fff" stroke="#000" stroke-width="1.9" stroke-linejoin="miter"/>
<path d="M1345.27,1417.72L1350.67,1426.52L1339.87,1426.52Z" fill="#fff" stroke="#000" stroke-width="1.9" stroke-linejoin="miter"/>
<text transform="matrix(0.91,0,0,1,111.091,0)" x="1234.35" y="1344.90" font-size="21.5" text-anchor="middle" fill="#000" stroke="#000" stroke-width="0.55">WT</text>
<text transform="matrix(0.996,0,0,1,5.219,0)" x="1304.85" y="1410.50" font-size="21.5" text-anchor="middle" fill="#000" stroke="none">D454A</text>
</g>
<g>
<path d="M1424.10,1520.40V1263.00H1806.90V1520.40H1450.90M1439.00,1520.40H1424.10" fill="none" stroke="#000" stroke-width="2.0" stroke-linecap="square"/>
<line x1="1433.10" y1="1531.00" x2="1446.20" y2="1509.40" stroke="#000" stroke-width="1.7"/>
<line x1="1443.90" y1="1531.00" x2="1457.00" y2="1509.40" stroke="#000" stroke-width="1.7"/>
<path d="M1433.67,1263.00v6.0M1441.08,1263.00v6.0M1447.15,1263.00v6.0M1452.27,1263.00v6.0M1456.71,1263.00v6.0M1456.71,1520.40v-6.0M1460.63,1263.00v6.0M1460.63,1520.40v-6.0M1464.13,1263.00v11.0M1464.13,1520.40v-11.0M1487.18,1263.00v6.0M1487.18,1520.40v-6.0M1500.66,1263.00v6.0M1500.66,1520.40v-6.0M1510.23,1263.00v6.0M1510.23,1520.40v-6.0M1517.64,1263.00v6.0M1517.64,1520.40v-6.0M1523.71,1263.00v6.0M1523.71,1520.40v-6.0M1528.83,1263.00v6.0M1528.83,1520.40v-6.0M1533.27,1263.00v6.0M1533.27,1520.40v-6.0M1537.19,1263.00v6.0M1537.19,1520.40v-6.0M1540.69,1263.00v11.0M1540.69,1520.40v-11.0M1563.74,1263.00v6.0M1563.74,1520.40v-6.0M1577.22,1263.00v6.0M1577.22,1520.40v-6.0M1586.79,1263.00v6.0M1586.79,1520.40v-6.0M1594.20,1263.00v6.0M1594.20,1520.40v-6.0M1600.27,1263.00v6.0M1600.27,1520.40v-6.0M1605.39,1263.00v6.0M1605.39,1520.40v-6.0M1609.83,1263.00v6.0M1609.83,1520.40v-6.0M1613.75,1263.00v6.0M1613.75,1520.40v-6.0M1617.25,1263.00v11.0M1617.25,1520.40v-11.0M1640.30,1263.00v6.0M1640.30,1520.40v-6.0M1653.78,1263.00v6.0M1653.78,1520.40v-6.0M1663.35,1263.00v6.0M1663.35,1520.40v-6.0M1670.76,1263.00v6.0M1670.76,1520.40v-6.0M1676.83,1263.00v6.0M1676.83,1520.40v-6.0M1681.95,1263.00v6.0M1681.95,1520.40v-6.0M1686.39,1263.00v6.0M1686.39,1520.40v-6.0M1690.31,1263.00v6.0M1690.31,1520.40v-6.0M1693.81,1263.00v11.0M1693.81,1520.40v-11.0M1716.86,1263.00v6.0M1716.86,1520.40v-6.0M1730.34,1263.00v6.0M1730.34,1520.40v-6.0M1739.91,1263.00v6.0M1739.91,1520.40v-6.0M1747.32,1263.00v6.0M1747.32,1520.40v-6.0M1753.39,1263.00v6.0M1753.39,1520.40v-6.0M1758.51,1263.00v6.0M1758.51,1520.40v-6.0M1762.95,1263.00v6.0M1762.95,1520.40v-6.0M1766.87,1263.00v6.0M1766.87,1520.40v-6.0M1770.37,1263.00v11.0M1770.37,1520.40v-11.0M1793.42,1263.00v6.0M1793.42,1520.40v-6.0M1424.10,1497.00h11.0M1806.90,1497.00h-11.0M1424.10,1458.00h6.0M1806.90,1458.00h-6.0M1424.10,1419.00h11.0M1806.90,1419.00h-11.0M1424.10,1380.00h6.0M1806.90,1380.00h-6.0M1424.10,1341.00h11.0M1806.90,1341.00h-11.0M1424.10,1302.00h6.0M1806.90,1302.00h-6.0" stroke="#000" stroke-width="1.6" fill="none"/>
<text x="1409.50" y="1507.50" font-size="31.0" text-anchor="end" stroke="#000" stroke-width="0.4">0</text>
<text x="1409.50" y="1429.50" font-size="31.0" text-anchor="end" stroke="#000" stroke-width="0.4">2</text>
<text x="1409.50" y="1351.50" font-size="31.0" text-anchor="end" stroke="#000" stroke-width="0.4">4</text>
<text x="1409.50" y="1273.50" font-size="31.0" text-anchor="end" stroke="#000" stroke-width="0.4">6</text>
<text transform="matrix(0.925,0,0,1,106.807,0)" x="1424.10" y="1554.70" font-size="31.5" text-anchor="middle" stroke="#000" stroke-width="0.4">0</text>
<text transform="matrix(0.925,0,0,1,108.137,0)" x="1441.83" y="1554.70" font-size="31.5" stroke="#000" stroke-width="0.4">10<tspan dy="-10.5" font-size="21">−9</tspan></text>
<text transform="matrix(0.925,0,0,1,113.879,0)" x="1518.39" y="1554.70" font-size="31.5" stroke="#000" stroke-width="0.4">10<tspan dy="-10.5" font-size="21">−8</tspan></text>
<text transform="matrix(0.925,0,0,1,119.621,0)" x="1594.95" y="1554.70" font-size="31.5" stroke="#000" stroke-width="0.4">10<tspan dy="-10.5" font-size="21">−7</tspan></text>
<text transform="matrix(0.925,0,0,1,125.363,0)" x="1671.51" y="1554.70" font-size="31.5" stroke="#000" stroke-width="0.4">10<tspan dy="-10.5" font-size="21">−6</tspan></text>
<text transform="matrix(0.925,0,0,1,131.105,0)" x="1748.07" y="1554.70" font-size="31.5" stroke="#000" stroke-width="0.4">10<tspan dy="-10.5" font-size="21">−5</tspan></text>
<text transform="matrix(0.925,0,0,1,121.162,0)" x="1615.50" y="1589.90" font-size="31.5" text-anchor="middle" stroke="#000" stroke-width="0.4">[Eugenol] (M)</text>
<path d="M1424.10,1491.15H1806.90" fill="none" stroke="#000" stroke-width="1.9" stroke-dasharray="9.8 7"/>
<path d="M1424.10,1491.36L1425.69,1491.36L1427.29,1491.35L1428.88,1491.34L1430.48,1491.33L1432.07,1491.32L1433.67,1491.31L1435.26,1491.30L1436.86,1491.29L1438.45,1491.28L1440.05,1491.27L1441.64,1491.26L1443.24,1491.24L1444.84,1491.23L1446.43,1491.22L1448.02,1491.20L1449.62,1491.19L1451.21,1491.17L1452.81,1491.15L1454.40,1491.13L1456.00,1491.12L1457.59,1491.09L1459.19,1491.07L1460.78,1491.05L1462.38,1491.03L1463.97,1491.00L1465.57,1490.98L1467.16,1490.95L1468.76,1490.92L1470.35,1490.89L1471.95,1490.86L1473.55,1490.82L1475.14,1490.79L1476.73,1490.75L1478.33,1490.71L1479.92,1490.67L1481.52,1490.63L1483.12,1490.58L1484.71,1490.53L1486.30,1490.48L1487.90,1490.43L1489.49,1490.37L1491.09,1490.31L1492.68,1490.25L1494.28,1490.19L1495.88,1490.12L1497.47,1490.04L1499.06,1489.97L1500.66,1489.89L1502.25,1489.80L1503.85,1489.72L1505.44,1489.62L1507.04,1489.52L1508.63,1489.42L1510.23,1489.31L1511.83,1489.20L1513.42,1489.08L1515.01,1488.95L1516.61,1488.82L1518.20,1488.68L1519.80,1488.54L1521.39,1488.38L1522.99,1488.22L1524.58,1488.05L1526.18,1487.87L1527.77,1487.69L1529.37,1487.49L1530.96,1487.28L1532.56,1487.07L1534.15,1486.84L1535.75,1486.60L1537.34,1486.35L1538.94,1486.09L1540.53,1485.81L1542.13,1485.52L1543.72,1485.22L1545.32,1484.90L1546.91,1484.56L1548.51,1484.21L1550.10,1483.84L1551.70,1483.46L1553.29,1483.05L1554.89,1482.63L1556.48,1482.19L1558.08,1481.72L1559.67,1481.24L1561.27,1480.73L1562.87,1480.19L1564.46,1479.64L1566.05,1479.05L1567.65,1478.45L1569.24,1477.81L1570.84,1477.14L1572.43,1476.45L1574.03,1475.72L1575.62,1474.97L1577.22,1474.18L1578.82,1473.36L1580.41,1472.50L1582.00,1471.61L1583.60,1470.68L1585.19,1469.71L1586.79,1468.71L1588.38,1467.66L1589.98,1466.58L1591.57,1465.45L1593.17,1464.28L1594.76,1463.07L1596.36,1461.81L1597.95,1460.51L1599.55,1459.17L1601.14,1457.78L1602.74,1456.34L1604.33,1454.86L1605.93,1453.33L1607.52,1451.75L1609.12,1450.13L1610.71,1448.46L1612.31,1446.74L1613.90,1444.98L1615.50,1443.18L1617.10,1441.32L1618.69,1439.43L1620.28,1437.49L1621.88,1435.51L1623.47,1433.49L1625.07,1431.44L1626.66,1429.34L1628.26,1427.21L1629.86,1425.05L1631.45,1422.86L1633.04,1420.63L1634.64,1418.38L1636.23,1416.11L1637.83,1413.82L1639.42,1411.50L1641.02,1409.18L1642.61,1406.84L1644.21,1404.49L1645.80,1402.13L1647.40,1399.77L1648.99,1397.41L1650.59,1395.05L1652.18,1392.70L1653.78,1390.36L1655.38,1388.03L1656.97,1385.71L1658.56,1383.41L1660.16,1381.14L1661.75,1378.88L1663.35,1376.65L1664.94,1374.45L1666.54,1372.28L1668.13,1370.15L1669.73,1368.04L1671.32,1365.98L1672.92,1363.95L1674.51,1361.96L1676.11,1360.02L1677.70,1358.11L1679.30,1356.25L1680.89,1354.44L1682.49,1352.67L1684.09,1350.94L1685.68,1349.26L1687.27,1347.63L1688.87,1346.04L1690.46,1344.50L1692.06,1343.01L1693.65,1341.56L1695.25,1340.16L1696.84,1338.81L1698.44,1337.50L1700.03,1336.23L1701.63,1335.01L1703.22,1333.83L1704.82,1332.70L1706.41,1331.60L1708.01,1330.55L1709.60,1329.54L1711.20,1328.56L1712.80,1327.63L1714.39,1326.73L1715.98,1325.86L1717.58,1325.03L1719.17,1324.24L1720.77,1323.47L1722.37,1322.74L1723.96,1322.04L1725.55,1321.37L1727.15,1320.73L1728.74,1320.11L1730.34,1319.52L1731.93,1318.96L1733.53,1318.42L1735.12,1317.91L1736.72,1317.42L1738.32,1316.95L1739.91,1316.50L1741.50,1316.07L1743.10,1315.67L1744.69,1315.28L1746.29,1314.90L1747.88,1314.55L1749.48,1314.21L1751.07,1313.89L1752.67,1313.58L1754.26,1313.29L1755.86,1313.01L1757.45,1312.74L1759.05,1312.49L1760.64,1312.25L1762.24,1312.02L1763.84,1311.80L1765.43,1311.59L1767.02,1311.39L1768.62,1311.20L1770.21,1311.02L1771.81,1310.85L1773.40,1310.69L1775.00,1310.53L1776.60,1310.39L1778.19,1310.25L1779.78,1310.11L1781.38,1309.99L1782.97,1309.86L1784.57,1309.75L1786.16,1309.64L1787.76,1309.54L1789.36,1309.44L1790.95,1309.34L1792.54,1309.25L1794.14,1309.17L1795.73,1309.09L1797.33,1309.01L1798.92,1308.94L1800.52,1308.87L1802.11,1308.80L1803.71,1308.74L1805.30,1308.68L1806.90,1308.62" fill="none" stroke="#000" stroke-width="1.9"/>
<path d="M1424.10,1479.69L1430.10,1485.69L1424.10,1491.69L1418.10,1485.69Z" fill="#000"/>
<path d="M1560.69,1481.25L1566.69,1487.25L1560.69,1493.25L1554.69,1487.25Z" fill="#000"/>
<path d="M1597.22,1461.75L1603.22,1467.75L1597.22,1473.75L1591.22,1467.75Z" fill="#000"/>
<path d="M1633.75,1397.40L1639.75,1403.40L1633.75,1409.40L1627.75,1403.40Z" fill="#000"/>
<path d="M1670.28,1362.30L1676.28,1368.30L1670.28,1374.30L1664.28,1368.30Z" fill="#000"/>
<path d="M1706.81,1332.66L1712.81,1338.66L1706.81,1344.66L1700.81,1338.66Z" fill="#000"/>
<path d="M1743.34,1300.68L1749.34,1306.68L1743.34,1312.68L1737.34,1306.68Z" fill="#000"/>
<path d="M1779.87,1304.19L1785.87,1310.19L1779.87,1316.19L1773.87,1310.19Z" fill="#000"/>
<path d="M1424.10,1487.81L1429.00,1492.71L1424.10,1497.61L1419.20,1492.71Z" fill="#fff" stroke="#000" stroke-width="1.9"/>
<path d="M1560.69,1486.64L1565.59,1491.54L1560.69,1496.44L1555.79,1491.54Z" fill="#fff" stroke="#000" stroke-width="1.9"/>
<path d="M1597.22,1486.64L1602.12,1491.54L1597.22,1496.44L1592.32,1491.54Z" fill="#fff" stroke="#000" stroke-width="1.9"/>
<path d="M1633.75,1486.64L1638.65,1491.54L1633.75,1496.44L1628.85,1491.54Z" fill="#fff" stroke="#000" stroke-width="1.9"/>
<path d="M1670.28,1486.25L1675.18,1491.15L1670.28,1496.05L1665.38,1491.15Z" fill="#fff" stroke="#000" stroke-width="1.9"/>
<path d="M1706.81,1486.64L1711.71,1491.54L1706.81,1496.44L1701.91,1491.54Z" fill="#fff" stroke="#000" stroke-width="1.9"/>
<path d="M1743.34,1483.52L1748.24,1488.42L1743.34,1493.32L1738.44,1488.42Z" fill="#fff" stroke="#000" stroke-width="1.9"/>
<path d="M1779.87,1484.30L1784.77,1489.20L1779.87,1494.10L1774.97,1489.20Z" fill="#fff" stroke="#000" stroke-width="1.9"/>
<text transform="matrix(0.91,0,0,1,148.999,0)" x="1655.55" y="1346.00" font-size="21.5" text-anchor="middle" fill="#000" stroke="#000" stroke-width="0.55">WT</text>
<text transform="matrix(0.982,0,0,1,30.961,0)" x="1720.05" y="1476.20" font-size="21.5" text-anchor="middle" fill="#000" stroke="none">Orco+GCaMP</text>
</g>
<text x="21.5" y="1635" font-size="33" font-weight="bold">c</text>
<text x="938.5" y="1635" font-size="33" font-weight="bold">d</text>
<line x1="70" y1="1635.3" x2="891.6" y2="1635.3" stroke="#000" stroke-width="4.2"/>
<line x1="71" y1="1692" x2="890.6" y2="1692" stroke="#000" stroke-width="2.1"/>
<line x1="71" y1="1753" x2="890.6" y2="1753" stroke="#000" stroke-width="2.1"/>
<line x1="71" y1="2235" x2="891.6" y2="2235" stroke="#000" stroke-width="4.2"/>
<text transform="matrix(0.925,0,0,1,35.947,0)" x="479.30" y="1676.00" font-size="31.5" text-anchor="middle" stroke="#000" stroke-width="0.4">Orco Homomers / VUAA1</text>
<text transform="matrix(0.925,0,0,1,10.005,0)" x="133.40" y="1732.30" font-size="31.5" text-anchor="middle" stroke="#000" stroke-width="0.4">Orco</text>
<text transform="matrix(0.925,0,0,1,16.462,0)" x="219.50" y="1732.30" font-size="31.5" text-anchor="middle" font-style="italic" stroke="#000" stroke-width="0.4">N</text>
<text transform="matrix(0.925,0,0,1,24.922,0)" x="332.30" y="1732.30" font-size="31.5" text-anchor="middle" stroke="#000" stroke-width="0.4">(Δ<tspan font-style="italic">F</tspan>/<tspan font-style="italic">F</tspan><tspan dy="8.2" font-size="22.5">o</tspan><tspan dy="-8.2">)</tspan><tspan dy="8.2" font-size="22.5">norm</tspan></text>
<text transform="matrix(0.925,0,0,1,38.962,0)" x="519.50" y="1732.30" font-size="31.5" text-anchor="middle" stroke="#000" stroke-width="0.4">log(<tspan font-style="italic">EC</tspan><tspan dy="8.2" font-size="22.5">50</tspan><tspan dy="-8.2"> (M))</tspan></text>
<text transform="matrix(0.925,0,0,1,51.862,0)" x="691.50" y="1732.30" font-size="31.5" text-anchor="middle" font-style="italic" stroke="#000" stroke-width="0.4">n</text>
<text transform="matrix(0.925,0,0,1,61.800,0)" x="824.00" y="1732.30" font-size="31.5" text-anchor="middle" stroke="#000" stroke-width="0.4">P value</text>
<text transform="matrix(0.925,0,0,1,10.005,0)" x="133.40" y="1815.40" font-size="31.5" text-anchor="middle" stroke="#000" stroke-width="0.4">WT</text>
<text transform="matrix(0.925,0,0,1,16.462,0)" x="219.50" y="1815.40" font-size="31.5" text-anchor="middle" stroke="#000" stroke-width="0.4">7</text>
<text transform="matrix(0.925,0,0,1,24.922,0)" x="332.30" y="1815.40" font-size="31.5" text-anchor="middle" stroke="#000" stroke-width="0.4">0.98 ± 0.07</text>
<text transform="matrix(0.925,0,0,1,38.962,0)" x="519.50" y="1815.40" font-size="31.5" text-anchor="middle" stroke="#000" stroke-width="0.4">–4.27 ± 0.13</text>
<text transform="matrix(0.925,0,0,1,51.862,0)" x="691.50" y="1815.40" font-size="31.5" text-anchor="middle" stroke="#000" stroke-width="0.4">2.4 ± 0.8</text>
<text transform="matrix(0.925,0,0,1,61.800,0)" x="824.00" y="1815.40" font-size="31.5" text-anchor="middle" stroke="#000" stroke-width="0.4">-</text>
<text transform="matrix(0.925,0,0,1,10.005,0)" x="133.40" y="1857.06" font-size="31.5" text-anchor="middle" stroke="#000" stroke-width="0.4">L473A</text>
<text transform="matrix(0.925,0,0,1,16.462,0)" x="219.50" y="1857.06" font-size="31.5" text-anchor="middle" stroke="#000" stroke-width="0.4">7</text>
<text transform="matrix(0.925,0,0,1,24.922,0)" x="332.30" y="1857.06" font-size="31.5" text-anchor="middle" stroke="#000" stroke-width="0.4">0.89 ± 0.14</text>
<text transform="matrix(0.925,0,0,1,38.962,0)" x="519.50" y="1857.06" font-size="31.5" text-anchor="middle" stroke="#000" stroke-width="0.4">–5.59 ± 0.29</text>
<text transform="matrix(0.925,0,0,1,51.862,0)" x="691.50" y="1857.06" font-size="31.5" text-anchor="middle" stroke="#000" stroke-width="0.4">1.1 ± 0.2</text>
<text transform="matrix(0.925,0,0,1,61.800,0)" x="824.00" y="1857.06" font-size="31.5" text-anchor="middle" stroke="#000" stroke-width="0.4">6x10<tspan dy="-8.3" font-size="22">−8</tspan></text>
<text transform="matrix(0.925,0,0,1,10.005,0)" x="133.40" y="1898.72" font-size="31.5" text-anchor="middle" stroke="#000" stroke-width="0.4">V471A</text>
<text transform="matrix(0.925,0,0,1,16.462,0)" x="219.50" y="1898.72" font-size="31.5" text-anchor="middle" stroke="#000" stroke-width="0.4">6</text>
<text transform="matrix(0.925,0,0,1,24.922,0)" x="332.30" y="1898.72" font-size="31.5" text-anchor="middle" stroke="#000" stroke-width="0.4">0.88 ± 0.24</text>
<text transform="matrix(0.925,0,0,1,38.962,0)" x="519.50" y="1898.72" font-size="31.5" text-anchor="middle" stroke="#000" stroke-width="0.4">–4.47 ± 0.05</text>
<text transform="matrix(0.925,0,0,1,51.862,0)" x="691.50" y="1898.72" font-size="31.5" text-anchor="middle" stroke="#000" stroke-width="0.4">3.0 ± 0.4</text>
<text transform="matrix(0.925,0,0,1,61.800,0)" x="824.00" y="1898.72" font-size="31.5" text-anchor="middle" stroke="#000" stroke-width="0.4">0.23</text>
<text transform="matrix(0.925,0,0,1,10.005,0)" x="133.40" y="1940.38" font-size="31.5" text-anchor="middle" stroke="#000" stroke-width="0.4">V469A</text>
<text transform="matrix(0.925,0,0,1,16.462,0)" x="219.50" y="1940.38" font-size="31.5" text-anchor="middle" stroke="#000" stroke-width="0.4">7</text>
<text transform="matrix(0.925,0,0,1,24.922,0)" x="332.30" y="1940.38" font-size="31.5" text-anchor="middle" stroke="#000" stroke-width="0.4">0.68 ± 0.12</text>
<text transform="matrix(0.925,0,0,1,38.962,0)" x="519.50" y="1940.38" font-size="31.5" text-anchor="middle" stroke="#000" stroke-width="0.4">–5.39 ± 0.21</text>
<text transform="matrix(0.925,0,0,1,51.862,0)" x="691.50" y="1940.38" font-size="31.5" text-anchor="middle" stroke="#000" stroke-width="0.4">2.1 ± 0.4</text>
<text transform="matrix(0.925,0,0,1,61.800,0)" x="824.00" y="1940.38" font-size="31.5" text-anchor="middle" stroke="#000" stroke-width="0.4">6x10<tspan dy="-8.3" font-size="22">−8</tspan></text>
<text transform="matrix(0.925,0,0,1,10.005,0)" x="133.40" y="1982.04" font-size="31.5" text-anchor="middle" stroke="#000" stroke-width="0.4">Y466A</text>
<text transform="matrix(0.925,0,0,1,16.462,0)" x="219.50" y="1982.04" font-size="31.5" text-anchor="middle" stroke="#000" stroke-width="0.4">6</text>
<text transform="matrix(0.925,0,0,1,24.922,0)" x="332.30" y="1982.04" font-size="31.5" text-anchor="middle" stroke="#000" stroke-width="0.4">0.84 ± 0.10</text>
<text transform="matrix(0.925,0,0,1,38.962,0)" x="519.50" y="1982.04" font-size="31.5" text-anchor="middle" stroke="#000" stroke-width="0.4">–4.23 ± 0.06</text>
<text transform="matrix(0.925,0,0,1,51.862,0)" x="691.50" y="1982.04" font-size="31.5" text-anchor="middle" stroke="#000" stroke-width="0.4">2.0 ± 0.4</text>
<text transform="matrix(0.925,0,0,1,61.800,0)" x="824.00" y="1982.04" font-size="31.5" text-anchor="middle" stroke="#000" stroke-width="0.4">1.00</text>
<text transform="matrix(0.925,0,0,1,10.005,0)" x="133.40" y="2023.70" font-size="31.5" text-anchor="middle" stroke="#000" stroke-width="0.4">T465A</text>
<text transform="matrix(0.925,0,0,1,16.462,0)" x="219.50" y="2023.70" font-size="31.5" text-anchor="middle" stroke="#000" stroke-width="0.4">8</text>
<text transform="matrix(0.925,0,0,1,24.922,0)" x="332.30" y="2023.70" font-size="31.5" text-anchor="middle" stroke="#000" stroke-width="0.4">0.88 ± 0.09</text>
<text x="528.50" y="2033.00" font-size="37.5" text-anchor="middle" stroke="#000" stroke-width="0.4">*</text>
<text transform="matrix(0.925,0,0,1,10.005,0)" x="133.40" y="2065.36" font-size="31.5" text-anchor="middle" stroke="#000" stroke-width="0.4">G461A</text>
<text transform="matrix(0.925,0,0,1,16.462,0)" x="219.50" y="2065.36" font-size="31.5" text-anchor="middle" stroke="#000" stroke-width="0.4">7</text>
<text transform="matrix(0.925,0,0,1,24.922,0)" x="332.30" y="2065.36" font-size="31.5" text-anchor="middle" stroke="#000" stroke-width="0.4">1.19 ± 0.31</text>
<text transform="matrix(0.925,0,0,1,38.962,0)" x="519.50" y="2065.36" font-size="31.5" text-anchor="middle" stroke="#000" stroke-width="0.4">–4.17 ± 0.10</text>
<text transform="matrix(0.925,0,0,1,51.862,0)" x="691.50" y="2065.36" font-size="31.5" text-anchor="middle" stroke="#000" stroke-width="0.4">3.7 ± 0.5</text>
<text transform="matrix(0.925,0,0,1,61.800,0)" x="824.00" y="2065.36" font-size="31.5" text-anchor="middle" stroke="#000" stroke-width="0.4">0.89</text>
<text transform="matrix(0.925,0,0,1,10.005,0)" x="133.40" y="2107.02" font-size="31.5" text-anchor="middle" stroke="#000" stroke-width="0.4">S458A</text>
<text transform="matrix(0.925,0,0,1,16.462,0)" x="219.50" y="2107.02" font-size="31.5" text-anchor="middle" stroke="#000" stroke-width="0.4">6</text>
<text transform="matrix(0.925,0,0,1,24.922,0)" x="332.30" y="2107.02" font-size="31.5" text-anchor="middle" stroke="#000" stroke-width="0.4">0.70 ± 0.10</text>
<text x="528.50" y="2116.32" font-size="37.5" text-anchor="middle" stroke="#000" stroke-width="0.4">*</text>
<text transform="matrix(0.925,0,0,1,10.005,0)" x="133.40" y="2148.68" font-size="31.5" text-anchor="middle" stroke="#000" stroke-width="0.4">A457V</text>
<text transform="matrix(0.925,0,0,1,16.462,0)" x="219.50" y="2148.68" font-size="31.5" text-anchor="middle" stroke="#000" stroke-width="0.4">8</text>
<text transform="matrix(0.925,0,0,1,24.922,0)" x="332.30" y="2148.68" font-size="31.5" text-anchor="middle" stroke="#000" stroke-width="0.4">0.79 ± 0.28</text>
<text transform="matrix(0.925,0,0,1,38.962,0)" x="519.50" y="2148.68" font-size="31.5" text-anchor="middle" stroke="#000" stroke-width="0.4">–3.95 ± 0.10</text>
<text transform="matrix(0.925,0,0,1,51.862,0)" x="691.50" y="2148.68" font-size="31.5" text-anchor="middle" stroke="#000" stroke-width="0.4">3.6 ± 0.7</text>
<text transform="matrix(0.925,0,0,1,61.800,0)" x="824.00" y="2148.68" font-size="31.5" text-anchor="middle" stroke="#000" stroke-width="0.4">0.004</text>
<text transform="matrix(0.925,0,0,1,10.005,0)" x="133.40" y="2190.34" font-size="31.5" text-anchor="middle" stroke="#000" stroke-width="0.4">D454A</text>
<text transform="matrix(0.925,0,0,1,16.462,0)" x="219.50" y="2190.34" font-size="31.5" text-anchor="middle" stroke="#000" stroke-width="0.4">6</text>
<text transform="matrix(0.925,0,0,1,24.922,0)" x="332.30" y="2190.34" font-size="31.5" text-anchor="middle" stroke="#000" stroke-width="0.4">0.95 ± 0.20</text>
<text transform="matrix(0.925,0,0,1,38.962,0)" x="519.50" y="2190.34" font-size="31.5" text-anchor="middle" stroke="#000" stroke-width="0.4">–4.05 ± 0.10</text>
<text transform="matrix(0.925,0,0,1,51.862,0)" x="691.50" y="2190.34" font-size="31.5" text-anchor="middle" stroke="#000" stroke-width="0.4">4.2 ± 1.2</text>
<text transform="matrix(0.925,0,0,1,61.800,0)" x="824.00" y="2190.34" font-size="31.5" text-anchor="middle" stroke="#000" stroke-width="0.4">0.16</text>
<line x1="987.5" y1="1635.3" x2="1809" y2="1635.3" stroke="#000" stroke-width="4.2"/>
<line x1="988.5" y1="1692" x2="1808" y2="1692" stroke="#000" stroke-width="2.1"/>
<line x1="988.5" y1="1753" x2="1808" y2="1753" stroke="#000" stroke-width="2.1"/>
<line x1="988.5" y1="2235" x2="1809" y2="2235" stroke="#000" stroke-width="4.2"/>
<text transform="matrix(0.925,0,0,1,104.756,0)" x="1396.75" y="1676.00" font-size="31.5" text-anchor="middle" stroke="#000" stroke-width="0.4">Orco + OR65 Heteromers / Eugenol</text>
<text transform="matrix(0.925,0,0,1,78.840,0)" x="1051.20" y="1732.30" font-size="31.5" text-anchor="middle" stroke="#000" stroke-width="0.4">Orco</text>
<text transform="matrix(0.925,0,0,1,85.560,0)" x="1140.80" y="1732.30" font-size="31.5" text-anchor="middle" font-style="italic" stroke="#000" stroke-width="0.4">N</text>
<text transform="matrix(0.925,0,0,1,94.155,0)" x="1255.40" y="1732.30" font-size="31.5" text-anchor="middle" stroke="#000" stroke-width="0.4">(Δ<tspan font-style="italic">F</tspan>/<tspan font-style="italic">F</tspan><tspan dy="8.2" font-size="22.5">o</tspan><tspan dy="-8.2">)</tspan><tspan dy="8.2" font-size="22.5">norm</tspan></text>
<text transform="matrix(0.925,0,0,1,108.045,0)" x="1440.60" y="1732.30" font-size="31.5" text-anchor="middle" stroke="#000" stroke-width="0.4">log(<tspan font-style="italic">EC</tspan><tspan dy="8.2" font-size="22.5">50</tspan><tspan dy="-8.2"> (M))</tspan></text>
<text transform="matrix(0.925,0,0,1,120.772,0)" x="1610.30" y="1732.30" font-size="31.5" text-anchor="middle" font-style="italic" stroke="#000" stroke-width="0.4">n</text>
<text transform="matrix(0.925,0,0,1,130.605,0)" x="1741.40" y="1732.30" font-size="31.5" text-anchor="middle" stroke="#000" stroke-width="0.4">P value</text>
<text transform="matrix(0.925,0,0,1,78.840,0)" x="1051.20" y="1815.40" font-size="31.5" text-anchor="middle" stroke="#000" stroke-width="0.4">WT</text>
<text transform="matrix(0.925,0,0,1,85.560,0)" x="1140.80" y="1815.40" font-size="31.5" text-anchor="middle" stroke="#000" stroke-width="0.4">10</text>
<text transform="matrix(0.925,0,0,1,94.155,0)" x="1255.40" y="1815.40" font-size="31.5" text-anchor="middle" stroke="#000" stroke-width="0.4">0.98 ± 0.14</text>
<text transform="matrix(0.925,0,0,1,108.045,0)" x="1440.60" y="1815.40" font-size="31.5" text-anchor="middle" stroke="#000" stroke-width="0.4">–6.63 ± 0.26</text>
<text transform="matrix(0.925,0,0,1,120.772,0)" x="1610.30" y="1815.40" font-size="31.5" text-anchor="middle" stroke="#000" stroke-width="0.4">1.0 ± 0.2</text>
<text transform="matrix(0.925,0,0,1,130.605,0)" x="1741.40" y="1815.40" font-size="31.5" text-anchor="middle" stroke="#000" stroke-width="0.4">-</text>
<text transform="matrix(0.925,0,0,1,78.840,0)" x="1051.20" y="1857.06" font-size="31.5" text-anchor="middle" stroke="#000" stroke-width="0.4">L473A</text>
<text transform="matrix(0.925,0,0,1,85.560,0)" x="1140.80" y="1857.06" font-size="31.5" text-anchor="middle" stroke="#000" stroke-width="0.4">9</text>
<text transform="matrix(0.925,0,0,1,94.155,0)" x="1255.40" y="1857.06" font-size="31.5" text-anchor="middle" stroke="#000" stroke-width="0.4">0.89 ± 0.18</text>
<text transform="matrix(0.925,0,0,1,108.045,0)" x="1440.60" y="1857.06" font-size="31.5" text-anchor="middle" stroke="#000" stroke-width="0.4">–7.79 ± 0.21</text>
<text transform="matrix(0.925,0,0,1,120.772,0)" x="1610.30" y="1857.06" font-size="31.5" text-anchor="middle" stroke="#000" stroke-width="0.4">1.1 ± 0.2</text>
<text transform="matrix(0.925,0,0,1,130.605,0)" x="1741.40" y="1857.06" font-size="31.5" text-anchor="middle" stroke="#000" stroke-width="0.4">9x10<tspan dy="-8.3" font-size="22">−8</tspan></text>
<text transform="matrix(0.925,0,0,1,78.840,0)" x="1051.20" y="1898.72" font-size="31.5" text-anchor="middle" stroke="#000" stroke-width="0.4">V471A</text>
<text transform="matrix(0.925,0,0,1,85.560,0)" x="1140.80" y="1898.72" font-size="31.5" text-anchor="middle" stroke="#000" stroke-width="0.4">6</text>
<text transform="matrix(0.925,0,0,1,94.155,0)" x="1255.40" y="1898.72" font-size="31.5" text-anchor="middle" stroke="#000" stroke-width="0.4">0.60 ± 0.27</text>
<text transform="matrix(0.925,0,0,1,108.045,0)" x="1440.60" y="1898.72" font-size="31.5" text-anchor="middle" stroke="#000" stroke-width="0.4">–6.37 ± 0.24</text>
<text transform="matrix(0.925,0,0,1,120.772,0)" x="1610.30" y="1898.72" font-size="31.5" text-anchor="middle" stroke="#000" stroke-width="0.4">0.9 ± 0.3</text>
<text transform="matrix(0.925,0,0,1,130.605,0)" x="1741.40" y="1898.72" font-size="31.5" text-anchor="middle" stroke="#000" stroke-width="0.4">0.30</text>
<text transform="matrix(0.925,0,0,1,78.840,0)" x="1051.20" y="1940.38" font-size="31.5" text-anchor="middle" stroke="#000" stroke-width="0.4">V469A</text>
<text transform="matrix(0.925,0,0,1,85.560,0)" x="1140.80" y="1940.38" font-size="31.5" text-anchor="middle" stroke="#000" stroke-width="0.4">9</text>
<text transform="matrix(0.925,0,0,1,94.155,0)" x="1255.40" y="1940.38" font-size="31.5" text-anchor="middle" stroke="#000" stroke-width="0.4">0.97 ± 0.11</text>
<text transform="matrix(0.925,0,0,1,108.045,0)" x="1440.60" y="1940.38" font-size="31.5" text-anchor="middle" stroke="#000" stroke-width="0.4">–7.80 ± 0.28</text>
<text transform="matrix(0.925,0,0,1,120.772,0)" x="1610.30" y="1940.38" font-size="31.5" text-anchor="middle" stroke="#000" stroke-width="0.4">1.1 ± 0.2</text>
<text transform="matrix(0.925,0,0,1,130.605,0)" x="1741.40" y="1940.38" font-size="31.5" text-anchor="middle" stroke="#000" stroke-width="0.4">9x10<tspan dy="-8.3" font-size="22">−8</tspan></text>
<text transform="matrix(0.925,0,0,1,78.840,0)" x="1051.20" y="1982.04" font-size="31.5" text-anchor="middle" stroke="#000" stroke-width="0.4">Y466A</text>
<text transform="matrix(0.925,0,0,1,85.560,0)" x="1140.80" y="1982.04" font-size="31.5" text-anchor="middle" stroke="#000" stroke-width="0.4">6</text>
<text transform="matrix(0.925,0,0,1,94.155,0)" x="1255.40" y="1982.04" font-size="31.5" text-anchor="middle" stroke="#000" stroke-width="0.4">0.04 ± 0.05</text>
<text x="1451.10" y="1991.34" font-size="37.5" text-anchor="middle" stroke="#000" stroke-width="0.4">**</text>
<text transform="matrix(0.925,0,0,1,78.840,0)" x="1051.20" y="2023.70" font-size="31.5" text-anchor="middle" stroke="#000" stroke-width="0.4">T465A</text>
<text transform="matrix(0.925,0,0,1,85.560,0)" x="1140.80" y="2023.70" font-size="31.5" text-anchor="middle" stroke="#000" stroke-width="0.4">14</text>
<text transform="matrix(0.925,0,0,1,94.155,0)" x="1255.40" y="2023.70" font-size="31.5" text-anchor="middle" stroke="#000" stroke-width="0.4">0.94 ± 0.12</text>
<text transform="matrix(0.925,0,0,1,108.045,0)" x="1440.60" y="2023.70" font-size="31.5" text-anchor="middle" stroke="#000" stroke-width="0.4">–6.46 ± 0.14</text>
<text transform="matrix(0.925,0,0,1,120.772,0)" x="1610.30" y="2023.70" font-size="31.5" text-anchor="middle" stroke="#000" stroke-width="0.4">1.2 ± 0.1</text>
<text transform="matrix(0.925,0,0,1,130.605,0)" x="1741.40" y="2023.70" font-size="31.5" text-anchor="middle" stroke="#000" stroke-width="0.4">0.59</text>
<text transform="matrix(0.925,0,0,1,78.840,0)" x="1051.20" y="2065.36" font-size="31.5" text-anchor="middle" stroke="#000" stroke-width="0.4">G461A</text>
<text transform="matrix(0.925,0,0,1,85.560,0)" x="1140.80" y="2065.36" font-size="31.5" text-anchor="middle" stroke="#000" stroke-width="0.4">6</text>
<text transform="matrix(0.925,0,0,1,94.155,0)" x="1255.40" y="2065.36" font-size="31.5" text-anchor="middle" stroke="#000" stroke-width="0.4">0.90 ± 0.08</text>
<text transform="matrix(0.925,0,0,1,108.045,0)" x="1440.60" y="2065.36" font-size="31.5" text-anchor="middle" stroke="#000" stroke-width="0.4">–6.23 ± 0.08</text>
<text transform="matrix(0.925,0,0,1,120.772,0)" x="1610.30" y="2065.36" font-size="31.5" text-anchor="middle" stroke="#000" stroke-width="0.4">1.1 ± 0.2</text>
<text transform="matrix(0.925,0,0,1,130.605,0)" x="1741.40" y="2065.36" font-size="31.5" text-anchor="middle" stroke="#000" stroke-width="0.4">0.011</text>
<text transform="matrix(0.925,0,0,1,78.840,0)" x="1051.20" y="2107.02" font-size="31.5" text-anchor="middle" stroke="#000" stroke-width="0.4">S458A</text>
<text transform="matrix(0.925,0,0,1,85.560,0)" x="1140.80" y="2107.02" font-size="31.5" text-anchor="middle" stroke="#000" stroke-width="0.4">6</text>
<text transform="matrix(0.925,0,0,1,94.155,0)" x="1255.40" y="2107.02" font-size="31.5" text-anchor="middle" stroke="#000" stroke-width="0.4">0.53 ± 0.02</text>
<text transform="matrix(0.925,0,0,1,108.045,0)" x="1440.60" y="2107.02" font-size="31.5" text-anchor="middle" stroke="#000" stroke-width="0.4">–6.21 ± 0.19</text>
<text transform="matrix(0.925,0,0,1,120.772,0)" x="1610.30" y="2107.02" font-size="31.5" text-anchor="middle" stroke="#000" stroke-width="0.4">1.1 ± 0.1</text>
<text transform="matrix(0.925,0,0,1,130.605,0)" x="1741.40" y="2107.02" font-size="31.5" text-anchor="middle" stroke="#000" stroke-width="0.4">0.005</text>
<text transform="matrix(0.925,0,0,1,78.840,0)" x="1051.20" y="2148.68" font-size="31.5" text-anchor="middle" stroke="#000" stroke-width="0.4">A457V</text>
<text transform="matrix(0.925,0,0,1,85.560,0)" x="1140.80" y="2148.68" font-size="31.5" text-anchor="middle" stroke="#000" stroke-width="0.4">6</text>
<text transform="matrix(0.925,0,0,1,94.155,0)" x="1255.40" y="2148.68" font-size="31.5" text-anchor="middle" stroke="#000" stroke-width="0.4">1.01 ± 0.12</text>
<text transform="matrix(0.925,0,0,1,108.045,0)" x="1440.60" y="2148.68" font-size="31.5" text-anchor="middle" stroke="#000" stroke-width="0.4">–6.73 ± 0.10</text>
<text transform="matrix(0.925,0,0,1,120.772,0)" x="1610.30" y="2148.68" font-size="31.5" text-anchor="middle" stroke="#000" stroke-width="0.4">1.1 ± 0.1</text>
<text transform="matrix(0.925,0,0,1,130.605,0)" x="1741.40" y="2148.68" font-size="31.5" text-anchor="middle" stroke="#000" stroke-width="0.4">0.98</text>
<text transform="matrix(0.925,0,0,1,78.840,0)" x="1051.20" y="2190.34" font-size="31.5" text-anchor="middle" stroke="#000" stroke-width="0.4">D454A</text>
<text transform="matrix(0.925,0,0,1,85.560,0)" x="1140.80" y="2190.34" font-size="31.5" text-anchor="middle" stroke="#000" stroke-width="0.4">6</text>
<text transform="matrix(0.925,0,0,1,94.155,0)" x="1255.40" y="2190.34" font-size="31.5" text-anchor="middle" stroke="#000" stroke-width="0.4">0.42 ± 0.11</text>
<text transform="matrix(0.925,0,0,1,108.045,0)" x="1440.60" y="2190.34" font-size="31.5" text-anchor="middle" stroke="#000" stroke-width="0.4">–5.63 ± 0.18</text>
<text transform="matrix(0.925,0,0,1,120.772,0)" x="1610.30" y="2190.34" font-size="31.5" text-anchor="middle" stroke="#000" stroke-width="0.4">1.1 ± 0.3</text>
<text transform="matrix(0.925,0,0,1,130.605,0)" x="1741.40" y="2190.34" font-size="31.5" text-anchor="middle" stroke="#000" stroke-width="0.4">9x10<tspan dy="-8.3" font-size="22">−8</tspan></text>
</svg>
</body></html>
